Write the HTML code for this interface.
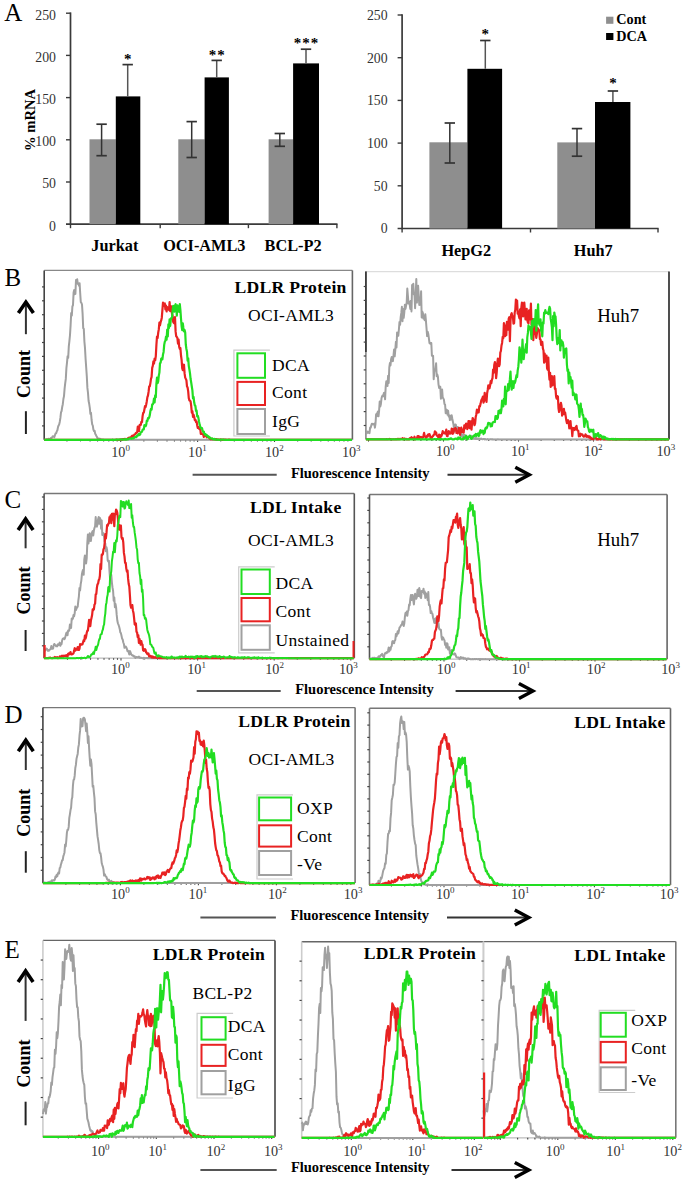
<!DOCTYPE html>
<html><head><meta charset="utf-8"><style>
html,body{margin:0;padding:0;background:#fff;width:685px;height:1188px;overflow:hidden;}
svg{display:block;font-family:"Liberation Serif", serif;}
</style></head><body>
<svg width="685" height="1188" viewBox="0 0 685 1188" font-family="&quot;Liberation Serif&quot;, serif">
<rect x="0.00" y="0.00" width="685.00" height="1188.00" fill="#fff" stroke="none" stroke-width="1" />
<text x="4.3" y="20.9" font-size="25" font-weight="normal" text-anchor="start" fill="#000" >A</text>
<line x1="70.50" y1="12.40" x2="70.50" y2="225.00" stroke="#3a3a3a" stroke-width="1.7" />
<line x1="66.00" y1="224.20" x2="337.50" y2="224.20" stroke="#3a3a3a" stroke-width="1.7" />
<line x1="70.50" y1="224.20" x2="70.50" y2="228.20" stroke="#3a3a3a" stroke-width="1.4" />
<line x1="66.00" y1="182.00" x2="70.50" y2="182.00" stroke="#3a3a3a" stroke-width="1.4" />
<line x1="66.00" y1="139.80" x2="70.50" y2="139.80" stroke="#3a3a3a" stroke-width="1.4" />
<line x1="66.00" y1="97.60" x2="70.50" y2="97.60" stroke="#3a3a3a" stroke-width="1.4" />
<line x1="66.00" y1="55.40" x2="70.50" y2="55.40" stroke="#3a3a3a" stroke-width="1.4" />
<line x1="66.00" y1="13.20" x2="70.50" y2="13.20" stroke="#3a3a3a" stroke-width="1.4" />
<text x="56.0" y="230.6" font-size="13.8" font-weight="normal" text-anchor="end" fill="#333" >0</text>
<text x="56.0" y="188.4" font-size="13.8" font-weight="normal" text-anchor="end" fill="#333" >50</text>
<text x="56.0" y="146.2" font-size="13.8" font-weight="normal" text-anchor="end" fill="#333" >100</text>
<text x="56.0" y="104.0" font-size="13.8" font-weight="normal" text-anchor="end" fill="#333" >150</text>
<text x="56.0" y="61.8" font-size="13.8" font-weight="normal" text-anchor="end" fill="#333" >200</text>
<text x="56.0" y="19.6" font-size="13.8" font-weight="normal" text-anchor="end" fill="#333" >250</text>
<line x1="160.20" y1="224.20" x2="160.20" y2="228.20" stroke="#3a3a3a" stroke-width="1.4" />
<line x1="248.40" y1="224.20" x2="248.40" y2="228.20" stroke="#3a3a3a" stroke-width="1.4" />
<line x1="336.90" y1="224.20" x2="336.90" y2="228.20" stroke="#3a3a3a" stroke-width="1.4" />
<rect x="89.50" y="139.30" width="26.30" height="84.90" fill="#8e8e8e" stroke="none" stroke-width="1" />
<rect x="115.80" y="96.40" width="24.50" height="127.80" fill="#000" stroke="none" stroke-width="1" />
<line x1="101.60" y1="124.20" x2="101.60" y2="155.70" stroke="#333" stroke-width="1.5" />
<line x1="96.40" y1="124.20" x2="106.80" y2="124.20" stroke="#333" stroke-width="1.7" />
<line x1="96.40" y1="155.70" x2="106.80" y2="155.70" stroke="#333" stroke-width="1.7" />
<line x1="127.70" y1="64.60" x2="127.70" y2="96.40" stroke="#555" stroke-width="1.5" />
<line x1="122.50" y1="64.60" x2="132.90" y2="64.60" stroke="#333" stroke-width="1.7" />
<text x="128.2" y="64.3" font-size="15" font-weight="bold" text-anchor="middle" fill="#000" letter-spacing="1">*</text>
<text x="114.8" y="250.9" font-size="16.3" font-weight="bold" text-anchor="middle" fill="#000" >Jurkat</text>
<rect x="178.30" y="139.30" width="26.30" height="84.90" fill="#8e8e8e" stroke="none" stroke-width="1" />
<rect x="204.60" y="77.40" width="24.30" height="146.80" fill="#000" stroke="none" stroke-width="1" />
<line x1="191.70" y1="121.60" x2="191.70" y2="157.50" stroke="#333" stroke-width="1.5" />
<line x1="186.50" y1="121.60" x2="196.90" y2="121.60" stroke="#333" stroke-width="1.7" />
<line x1="186.50" y1="157.50" x2="196.90" y2="157.50" stroke="#333" stroke-width="1.7" />
<line x1="216.70" y1="60.40" x2="216.70" y2="77.40" stroke="#555" stroke-width="1.5" />
<line x1="211.50" y1="60.40" x2="221.90" y2="60.40" stroke="#333" stroke-width="1.7" />
<text x="217.2" y="60.2" font-size="15" font-weight="bold" text-anchor="middle" fill="#000" letter-spacing="1">**</text>
<text x="204.3" y="250.9" font-size="16.3" font-weight="bold" text-anchor="middle" fill="#000" >OCI-AML3</text>
<rect x="268.60" y="139.30" width="24.50" height="84.90" fill="#8e8e8e" stroke="none" stroke-width="1" />
<rect x="293.10" y="63.40" width="25.90" height="160.80" fill="#000" stroke="none" stroke-width="1" />
<line x1="279.80" y1="133.50" x2="279.80" y2="146.30" stroke="#333" stroke-width="1.5" />
<line x1="274.60" y1="133.50" x2="285.00" y2="133.50" stroke="#333" stroke-width="1.7" />
<line x1="274.60" y1="146.30" x2="285.00" y2="146.30" stroke="#333" stroke-width="1.7" />
<line x1="306.00" y1="49.20" x2="306.00" y2="63.40" stroke="#555" stroke-width="1.5" />
<line x1="300.80" y1="49.20" x2="311.20" y2="49.20" stroke="#333" stroke-width="1.7" />
<text x="306.5" y="47.8" font-size="15" font-weight="bold" text-anchor="middle" fill="#000" letter-spacing="1">***</text>
<text x="293.1" y="250.9" font-size="16.3" font-weight="bold" text-anchor="middle" fill="#000" >BCL-P2</text>
<text x="0" y="0" font-size="14.6" font-weight="bold" text-anchor="middle" transform="translate(34.8,120) rotate(-90)">% mRNA</text>
<line x1="402.10" y1="14.20" x2="402.10" y2="229.30" stroke="#3a3a3a" stroke-width="1.7" />
<line x1="397.60" y1="228.50" x2="658.60" y2="228.50" stroke="#3a3a3a" stroke-width="1.7" />
<line x1="402.10" y1="228.50" x2="402.10" y2="232.50" stroke="#3a3a3a" stroke-width="1.4" />
<line x1="397.60" y1="185.80" x2="402.10" y2="185.80" stroke="#3a3a3a" stroke-width="1.4" />
<line x1="397.60" y1="143.10" x2="402.10" y2="143.10" stroke="#3a3a3a" stroke-width="1.4" />
<line x1="397.60" y1="100.40" x2="402.10" y2="100.40" stroke="#3a3a3a" stroke-width="1.4" />
<line x1="397.60" y1="57.70" x2="402.10" y2="57.70" stroke="#3a3a3a" stroke-width="1.4" />
<line x1="397.60" y1="15.00" x2="402.10" y2="15.00" stroke="#3a3a3a" stroke-width="1.4" />
<text x="387.6" y="233.3" font-size="13.8" font-weight="normal" text-anchor="end" fill="#333" >0</text>
<text x="387.6" y="190.6" font-size="13.8" font-weight="normal" text-anchor="end" fill="#333" >50</text>
<text x="387.6" y="147.9" font-size="13.8" font-weight="normal" text-anchor="end" fill="#333" >100</text>
<text x="387.6" y="105.2" font-size="13.8" font-weight="normal" text-anchor="end" fill="#333" >150</text>
<text x="387.6" y="62.5" font-size="13.8" font-weight="normal" text-anchor="end" fill="#333" >200</text>
<text x="387.6" y="19.8" font-size="13.8" font-weight="normal" text-anchor="end" fill="#333" >250</text>
<line x1="530.50" y1="228.50" x2="530.50" y2="232.50" stroke="#3a3a3a" stroke-width="1.4" />
<line x1="658.00" y1="228.50" x2="658.00" y2="232.50" stroke="#3a3a3a" stroke-width="1.4" />
<rect x="429.40" y="142.30" width="38.00" height="86.20" fill="#8e8e8e" stroke="none" stroke-width="1" />
<rect x="467.40" y="68.80" width="34.70" height="159.70" fill="#000" stroke="none" stroke-width="1" />
<line x1="449.80" y1="123.00" x2="449.80" y2="163.00" stroke="#333" stroke-width="1.5" />
<line x1="444.60" y1="123.00" x2="455.00" y2="123.00" stroke="#333" stroke-width="1.7" />
<line x1="444.60" y1="163.00" x2="455.00" y2="163.00" stroke="#333" stroke-width="1.7" />
<line x1="485.30" y1="40.50" x2="485.30" y2="68.80" stroke="#555" stroke-width="1.5" />
<line x1="480.10" y1="40.50" x2="490.50" y2="40.50" stroke="#333" stroke-width="1.7" />
<text x="485.8" y="39.1" font-size="15" font-weight="bold" text-anchor="middle" fill="#000" letter-spacing="1">*</text>
<text x="466.3" y="256.0" font-size="16.3" font-weight="bold" text-anchor="middle" fill="#000" >HepG2</text>
<rect x="557.30" y="142.40" width="37.70" height="86.10" fill="#8e8e8e" stroke="none" stroke-width="1" />
<rect x="595.00" y="102.00" width="35.40" height="126.50" fill="#000" stroke="none" stroke-width="1" />
<line x1="577.00" y1="128.60" x2="577.00" y2="156.20" stroke="#333" stroke-width="1.5" />
<line x1="571.80" y1="128.60" x2="582.20" y2="128.60" stroke="#333" stroke-width="1.7" />
<line x1="571.80" y1="156.20" x2="582.20" y2="156.20" stroke="#333" stroke-width="1.7" />
<line x1="612.90" y1="91.00" x2="612.90" y2="102.00" stroke="#555" stroke-width="1.5" />
<line x1="607.70" y1="91.00" x2="618.10" y2="91.00" stroke="#333" stroke-width="1.7" />
<text x="613.4" y="87.8" font-size="15" font-weight="bold" text-anchor="middle" fill="#000" letter-spacing="1">*</text>
<text x="593.2" y="256.0" font-size="16.3" font-weight="bold" text-anchor="middle" fill="#000" >Huh7</text>
<rect x="606.10" y="16.70" width="7.30" height="7.10" fill="#8e8e8e" stroke="none" stroke-width="1" />
<text x="616.3" y="23.9" font-size="14.2" font-weight="bold" text-anchor="start" fill="#000" >Cont</text>
<rect x="606.10" y="33.00" width="7.30" height="7.00" fill="#000" stroke="none" stroke-width="1" />
<text x="616.3" y="40.5" font-size="14.2" font-weight="bold" text-anchor="start" fill="#000" >DCA</text>
<text x="4.5" y="286.0" font-size="25" font-weight="normal" text-anchor="start" fill="#000" >B</text>
<line x1="25.90" y1="301.10" x2="25.90" y2="334.20" stroke="#333" stroke-width="2" />
<path d="M18.4,313.1 L25.9,302.1 L33.4,313.1" fill="none" stroke="#000" stroke-width="3.6" stroke-linejoin="miter"/>
<text x="0" y="0" font-size="18" font-weight="bold" text-anchor="middle" transform="translate(30.0,374.0) rotate(-90)">Count</text>
<line x1="25.90" y1="411.20" x2="25.90" y2="434.00" stroke="#222" stroke-width="2" />
<line x1="44.20" y1="270.40" x2="352.40" y2="270.40" stroke="#888" stroke-width="1.4" />
<line x1="352.40" y1="270.40" x2="352.40" y2="439.80" stroke="#666" stroke-width="1.6" />
<line x1="44.20" y1="270.40" x2="44.20" y2="439.80" stroke="#444" stroke-width="1.6" />
<line x1="44.20" y1="439.80" x2="352.40" y2="439.80" stroke="#bbb" stroke-width="1.2" />
<line x1="42.00" y1="425.90" x2="44.20" y2="425.90" stroke="#444" stroke-width="1.2" />
<line x1="42.00" y1="412.00" x2="44.20" y2="412.00" stroke="#444" stroke-width="1.2" />
<line x1="42.00" y1="398.10" x2="44.20" y2="398.10" stroke="#444" stroke-width="1.2" />
<line x1="42.00" y1="384.20" x2="44.20" y2="384.20" stroke="#444" stroke-width="1.2" />
<line x1="42.00" y1="370.30" x2="44.20" y2="370.30" stroke="#444" stroke-width="1.2" />
<line x1="42.00" y1="356.40" x2="44.20" y2="356.40" stroke="#444" stroke-width="1.2" />
<line x1="42.00" y1="342.50" x2="44.20" y2="342.50" stroke="#444" stroke-width="1.2" />
<line x1="42.00" y1="328.60" x2="44.20" y2="328.60" stroke="#444" stroke-width="1.2" />
<line x1="42.00" y1="314.70" x2="44.20" y2="314.70" stroke="#444" stroke-width="1.2" />
<line x1="42.00" y1="300.80" x2="44.20" y2="300.80" stroke="#444" stroke-width="1.2" />
<line x1="42.00" y1="286.90" x2="44.20" y2="286.90" stroke="#444" stroke-width="1.2" />
<line x1="66.95" y1="439.80" x2="66.95" y2="441.40" stroke="#444" stroke-width="1.1" />
<line x1="80.49" y1="439.80" x2="80.49" y2="441.40" stroke="#444" stroke-width="1.1" />
<line x1="90.10" y1="439.80" x2="90.10" y2="441.40" stroke="#444" stroke-width="1.1" />
<line x1="97.55" y1="439.80" x2="97.55" y2="441.40" stroke="#444" stroke-width="1.1" />
<line x1="103.64" y1="439.80" x2="103.64" y2="441.40" stroke="#444" stroke-width="1.1" />
<line x1="108.79" y1="439.80" x2="108.79" y2="441.40" stroke="#444" stroke-width="1.1" />
<line x1="113.25" y1="439.80" x2="113.25" y2="441.40" stroke="#444" stroke-width="1.1" />
<line x1="117.18" y1="439.80" x2="117.18" y2="441.40" stroke="#444" stroke-width="1.1" />
<line x1="120.70" y1="439.80" x2="120.70" y2="442.00" stroke="#444" stroke-width="1.1" />
<line x1="143.85" y1="439.80" x2="143.85" y2="441.40" stroke="#444" stroke-width="1.1" />
<line x1="157.39" y1="439.80" x2="157.39" y2="441.40" stroke="#444" stroke-width="1.1" />
<line x1="167.00" y1="439.80" x2="167.00" y2="441.40" stroke="#444" stroke-width="1.1" />
<line x1="174.45" y1="439.80" x2="174.45" y2="441.40" stroke="#444" stroke-width="1.1" />
<line x1="180.54" y1="439.80" x2="180.54" y2="441.40" stroke="#444" stroke-width="1.1" />
<line x1="185.69" y1="439.80" x2="185.69" y2="441.40" stroke="#444" stroke-width="1.1" />
<line x1="190.15" y1="439.80" x2="190.15" y2="441.40" stroke="#444" stroke-width="1.1" />
<line x1="194.08" y1="439.80" x2="194.08" y2="441.40" stroke="#444" stroke-width="1.1" />
<line x1="197.60" y1="439.80" x2="197.60" y2="442.00" stroke="#444" stroke-width="1.1" />
<line x1="220.75" y1="439.80" x2="220.75" y2="441.40" stroke="#444" stroke-width="1.1" />
<line x1="234.29" y1="439.80" x2="234.29" y2="441.40" stroke="#444" stroke-width="1.1" />
<line x1="243.90" y1="439.80" x2="243.90" y2="441.40" stroke="#444" stroke-width="1.1" />
<line x1="251.35" y1="439.80" x2="251.35" y2="441.40" stroke="#444" stroke-width="1.1" />
<line x1="257.44" y1="439.80" x2="257.44" y2="441.40" stroke="#444" stroke-width="1.1" />
<line x1="262.59" y1="439.80" x2="262.59" y2="441.40" stroke="#444" stroke-width="1.1" />
<line x1="267.05" y1="439.80" x2="267.05" y2="441.40" stroke="#444" stroke-width="1.1" />
<line x1="270.98" y1="439.80" x2="270.98" y2="441.40" stroke="#444" stroke-width="1.1" />
<line x1="274.50" y1="439.80" x2="274.50" y2="442.00" stroke="#444" stroke-width="1.1" />
<line x1="297.65" y1="439.80" x2="297.65" y2="441.40" stroke="#444" stroke-width="1.1" />
<line x1="311.19" y1="439.80" x2="311.19" y2="441.40" stroke="#444" stroke-width="1.1" />
<line x1="320.80" y1="439.80" x2="320.80" y2="441.40" stroke="#444" stroke-width="1.1" />
<line x1="328.25" y1="439.80" x2="328.25" y2="441.40" stroke="#444" stroke-width="1.1" />
<line x1="334.34" y1="439.80" x2="334.34" y2="441.40" stroke="#444" stroke-width="1.1" />
<line x1="339.49" y1="439.80" x2="339.49" y2="441.40" stroke="#444" stroke-width="1.1" />
<line x1="343.95" y1="439.80" x2="343.95" y2="441.40" stroke="#444" stroke-width="1.1" />
<line x1="347.88" y1="439.80" x2="347.88" y2="441.40" stroke="#444" stroke-width="1.1" />
<text x="111.2" y="456.6" font-size="14.2" fill="#333">10<tspan dy="-5.6" font-size="9">0</tspan></text>
<text x="188.1" y="456.6" font-size="14.2" fill="#333">10<tspan dy="-5.6" font-size="9">1</tspan></text>
<text x="265.0" y="456.6" font-size="14.2" fill="#333">10<tspan dy="-5.6" font-size="9">2</tspan></text>
<text x="341.9" y="456.6" font-size="14.2" fill="#333">10<tspan dy="-5.6" font-size="9">3</tspan></text>
<path d="M44.2,439.8 L44.8,439.8 L45.4,439.7 L46.0,439.5 L46.6,439.3 L47.2,439.4 L47.8,439.1 L48.4,438.8 L49.0,439.0 L49.6,438.9 L50.2,438.9 L50.8,438.1 L51.4,438.0 L52.0,437.6 L52.6,436.3 L53.2,436.8 L53.8,436.3 L54.4,437.1 L55.0,435.0 L55.6,433.3 L56.2,433.3 L56.8,431.2 L57.4,430.2 L58.0,427.1 L58.6,425.4 L59.2,424.4 L59.8,421.7 L60.4,417.9 L61.0,412.3 L61.6,411.0 L62.2,407.0 L62.8,404.2 L63.4,399.0 L64.0,396.1 L64.6,388.6 L65.2,383.3 L65.8,378.9 L66.4,368.1 L67.0,362.7 L67.6,356.2 L68.2,357.9 L68.8,346.4 L69.4,341.2 L70.0,335.0 L70.6,325.2 L71.2,313.1 L71.8,315.6 L72.4,306.5 L73.0,305.1 L73.6,292.6 L74.2,290.1 L74.8,294.2 L75.4,293.9 L76.0,280.0 L76.6,281.2 L77.2,279.3 L77.8,283.8 L78.4,283.3 L79.0,285.7 L79.6,283.3 L80.2,293.2 L80.8,302.2 L81.4,302.9 L82.0,304.5 L82.6,313.7 L83.2,328.1 L83.8,328.9 L84.4,341.5 L85.0,348.2 L85.6,359.0 L86.2,367.5 L86.8,376.3 L87.4,387.9 L88.0,393.0 L88.6,401.0 L89.2,403.8 L89.8,407.8 L90.4,413.8 L91.0,412.9 L91.6,420.0 L92.2,424.3 L92.8,425.6 L93.4,429.7 L94.0,431.0 L94.6,430.7 L95.2,433.7 L95.8,434.7 L96.4,436.0 L97.0,437.0 L97.6,438.4 L98.2,438.5 L98.8,438.7 L99.4,439.1 L100.0,438.7 L100.6,439.5 L101.2,439.3 L101.8,439.6 L102.4,439.5 L103.0,439.5 L103.6,439.6 L104.2,439.8 L104.8,439.8 L105.4,439.8 L106.0,439.8 L106.6,439.7 L107.2,439.8 L107.8,439.8 L108.4,439.8 L109.0,439.8 L109.6,439.8 L110.2,439.8 L110.8,439.8 L111.4,439.8 L112.0,439.8 L112.6,439.8 L113.2,439.8 L113.8,439.8 L114.4,439.8 L115.0,439.8 L115.6,439.8 L116.2,439.8 L116.8,439.8 L117.4,439.8 L118.0,439.8 L118.6,439.8 L119.2,439.8 L119.8,439.8 L120.4,439.8 L121.0,439.8 L121.6,439.8 L122.2,439.8 L122.8,439.8 L123.4,439.8 L124.0,439.8 L124.6,439.8 L125.2,439.8 L125.8,439.8 L126.4,439.8 L127.0,439.8 L127.6,439.8 L128.2,439.8 L128.8,439.8 L129.4,439.8 L130.0,439.8 L130.6,439.8 L131.2,439.8 L131.8,439.8 L132.4,439.8 L133.0,439.8 L133.6,439.8 L134.2,439.8 L134.8,439.8 L135.4,439.8 L136.0,439.8 L136.6,439.8 L137.2,439.8 L137.8,439.8 L138.4,439.8 L139.0,439.8 L139.6,439.8 L140.2,439.8 L140.8,439.8 L141.4,439.8 L142.0,439.8 L142.6,439.8 L143.2,439.8 L143.8,439.8 L144.4,439.8 L145.0,439.8 L145.6,439.8 L146.2,439.8 L146.8,439.8 L147.4,439.8 L148.0,439.8 L148.6,439.8 L149.2,439.8 L149.8,439.8 L150.4,439.8 L151.0,439.8 L151.6,439.8 L152.2,439.8 L152.8,439.8 L153.4,439.8 L154.0,439.8 L154.6,439.8 L155.2,439.8 L155.8,439.8 L156.4,439.8 L157.0,439.8 L157.6,439.8 L158.2,439.8 L158.8,439.8 L159.4,439.8 L160.0,439.8 L160.6,439.8 L161.2,439.8 L161.8,439.8 L162.4,439.8 L163.0,439.8 L163.6,439.8 L164.2,439.8 L164.8,439.8 L165.4,439.8 L166.0,439.8 L166.6,439.8 L167.2,439.8 L167.8,439.8 L168.4,439.8 L169.0,439.8 L169.6,439.8 L170.2,439.8 L170.8,439.8 L171.4,439.8 L172.0,439.8 L172.6,439.8 L173.2,439.8 L173.8,439.8 L174.4,439.8 L175.0,439.8 L175.6,439.8 L176.2,439.8 L176.8,439.8 L177.4,439.8 L178.0,439.8 L178.6,439.8 L179.2,439.8 L179.8,439.8 L180.4,439.8 L181.0,439.8 L181.6,439.8 L182.2,439.8 L182.8,439.8 L183.4,439.8 L184.0,439.8 L184.6,439.8 L185.2,439.8 L185.8,439.8 L186.4,439.8 L187.0,439.8 L187.6,439.8 L188.2,439.8 L188.8,439.8 L189.4,439.8 L190.0,439.8 L190.6,439.8 L191.2,439.8 L191.8,439.8 L192.4,439.8 L193.0,439.8 L193.6,439.8 L194.2,439.8 L194.8,439.8 L195.4,439.8 L196.0,439.8 L196.6,439.8 L197.2,439.8 L197.8,439.8 L198.4,439.8 L199.0,439.8 L199.6,439.8 L200.2,439.8 L200.8,439.8 L201.4,439.8 L202.0,439.8 L202.6,439.8 L203.2,439.8 L203.8,439.8 L204.4,439.8 L205.0,439.8 L205.6,439.8 L206.2,439.8 L206.8,439.8 L207.4,439.8 L208.0,439.8 L208.6,439.8 L209.2,439.8 L209.8,439.8 L210.4,439.8 L211.0,439.8 L211.6,439.8 L212.2,439.8 L212.8,439.8 L213.4,439.8 L214.0,439.8 L214.6,439.8 L215.2,439.8 L215.8,439.8 L216.4,439.8 L217.0,439.8 L217.6,439.8 L218.2,439.8 L218.8,439.8 L219.4,439.8 L220.0,439.8 L220.6,439.8 L221.2,439.8 L221.8,439.8 L222.4,439.8 L223.0,439.8 L223.6,439.8 L224.2,439.8 L224.8,439.8 L225.4,439.8 L226.0,439.8 L226.6,439.8 L227.2,439.8 L227.8,439.8 L228.4,439.8 L229.0,439.8 L229.6,439.8 L230.2,439.8 L230.8,439.8 L231.4,439.8 L232.0,439.8 L232.6,439.8 L233.2,439.8 L233.8,439.8 L234.4,439.8 L235.0,439.8 L235.6,439.8 L236.2,439.8 L236.8,439.8 L237.4,439.8 L238.0,439.8 L238.6,439.8 L239.2,439.8 L239.8,439.8 L240.4,439.8 L241.0,439.8 L241.6,439.8 L242.2,439.8 L242.8,439.8 L243.4,439.8 L244.0,439.8 L244.6,439.8 L245.2,439.8 L245.8,439.8 L246.4,439.8 L247.0,439.8 L247.6,439.8 L248.2,439.8 L248.8,439.8 L249.4,439.8 L250.0,439.8 L250.6,439.8 L251.2,439.8 L251.8,439.8 L252.4,439.8 L253.0,439.8 L253.6,439.8 L254.2,439.8 L254.8,439.8 L255.4,439.8 L256.0,439.8 L256.6,439.8 L257.2,439.8 L257.8,439.8 L258.4,439.8 L259.0,439.8 L259.6,439.8 L260.2,439.8 L260.8,439.8 L261.4,439.8 L262.0,439.8 L262.6,439.8 L263.2,439.8 L263.8,439.8 L264.4,439.8 L265.0,439.8 L265.6,439.8 L266.2,439.8 L266.8,439.8 L267.4,439.8 L268.0,439.8 L268.6,439.8 L269.2,439.8 L269.8,439.8 L270.4,439.8 L271.0,439.8 L271.6,439.8 L272.2,439.8 L272.8,439.8 L273.4,439.8 L274.0,439.8 L274.6,439.8 L275.2,439.8 L275.8,439.8 L276.4,439.8 L277.0,439.8 L277.6,439.8 L278.2,439.8 L278.8,439.8 L279.4,439.8 L280.0,439.8 L280.6,439.8 L281.2,439.8 L281.8,439.8 L282.4,439.8 L283.0,439.8 L283.6,439.8 L284.2,439.8 L284.8,439.8 L285.4,439.8 L286.0,439.8 L286.6,439.8 L287.2,439.8 L287.8,439.8 L288.4,439.8 L289.0,439.8 L289.6,439.8 L290.2,439.8 L290.8,439.8 L291.4,439.8 L292.0,439.8 L292.6,439.8 L293.2,439.8 L293.8,439.8 L294.4,439.8 L295.0,439.8 L295.6,439.8 L296.2,439.8 L296.8,439.8 L297.4,439.8 L298.0,439.8 L298.6,439.8 L299.2,439.8 L299.8,439.8 L300.4,439.8 L301.0,439.8 L301.6,439.8 L302.2,439.8 L302.8,439.8 L303.4,439.8 L304.0,439.8 L304.6,439.8 L305.2,439.8 L305.8,439.8 L306.4,439.8 L307.0,439.8 L307.6,439.8 L308.2,439.8 L308.8,439.8 L309.4,439.8 L310.0,439.8 L310.6,439.8 L311.2,439.8 L311.8,439.8 L312.4,439.8 L313.0,439.8 L313.6,439.8 L314.2,439.8 L314.8,439.8 L315.4,439.8 L316.0,439.8 L316.6,439.8 L317.2,439.8 L317.8,439.8 L318.4,439.8 L319.0,439.8 L319.6,439.8 L320.2,439.8 L320.8,439.8 L321.4,439.8 L322.0,439.8 L322.6,439.8 L323.2,439.8 L323.8,439.8 L324.4,439.8 L325.0,439.8 L325.6,439.8 L326.2,439.8 L326.8,439.8 L327.4,439.8 L328.0,439.8 L328.6,439.8 L329.2,439.8 L329.8,439.8 L330.4,439.8 L331.0,439.8 L331.6,439.8 L332.2,439.8 L332.8,439.8 L333.4,439.8 L334.0,439.8 L334.6,439.8 L335.2,439.8 L335.8,439.8 L336.4,439.8 L337.0,439.8 L337.6,439.8 L338.2,439.8 L338.8,439.8 L339.4,439.8 L340.0,439.8 L340.6,439.8 L341.2,439.8 L341.8,439.8 L342.4,439.8 L343.0,439.8 L343.6,439.8 L344.2,439.8 L344.8,439.8 L345.4,439.8 L346.0,439.8 L346.6,439.8 L347.2,439.8 L347.8,439.8 L348.4,439.8 L349.0,439.8 L349.6,439.8 L350.2,439.8 L350.8,439.8 L351.4,439.8 L352.0,439.8" fill="none" stroke="#a0a0a0" stroke-width="2.0" stroke-linejoin="round"/>
<path d="M44.2,439.8 L44.8,439.8 L45.4,439.8 L46.0,439.8 L46.6,439.8 L47.2,439.8 L47.8,439.8 L48.4,439.8 L49.0,439.8 L49.6,439.8 L50.2,439.8 L50.8,439.8 L51.4,439.8 L52.0,439.8 L52.6,439.8 L53.2,439.8 L53.8,439.8 L54.4,439.8 L55.0,439.8 L55.6,439.8 L56.2,439.8 L56.8,439.8 L57.4,439.8 L58.0,439.8 L58.6,439.8 L59.2,439.8 L59.8,439.8 L60.4,439.8 L61.0,439.8 L61.6,439.8 L62.2,439.8 L62.8,439.8 L63.4,439.8 L64.0,439.8 L64.6,439.8 L65.2,439.8 L65.8,439.8 L66.4,439.8 L67.0,439.8 L67.6,439.8 L68.2,439.8 L68.8,439.8 L69.4,439.8 L70.0,439.8 L70.6,439.8 L71.2,439.8 L71.8,439.8 L72.4,439.8 L73.0,439.8 L73.6,439.8 L74.2,439.8 L74.8,439.8 L75.4,439.8 L76.0,439.8 L76.6,439.8 L77.2,439.8 L77.8,439.8 L78.4,439.8 L79.0,439.8 L79.6,439.8 L80.2,439.8 L80.8,439.8 L81.4,439.8 L82.0,439.8 L82.6,439.8 L83.2,439.8 L83.8,439.8 L84.4,439.8 L85.0,439.8 L85.6,439.8 L86.2,439.8 L86.8,439.8 L87.4,439.8 L88.0,439.8 L88.6,439.8 L89.2,439.8 L89.8,439.8 L90.4,439.8 L91.0,439.8 L91.6,439.8 L92.2,439.8 L92.8,439.8 L93.4,439.8 L94.0,439.8 L94.6,439.8 L95.2,439.8 L95.8,439.8 L96.4,439.8 L97.0,439.8 L97.6,439.8 L98.2,439.8 L98.8,439.8 L99.4,439.8 L100.0,439.8 L100.6,439.8 L101.2,439.8 L101.8,439.8 L102.4,439.8 L103.0,439.8 L103.6,439.8 L104.2,439.8 L104.8,439.8 L105.4,439.8 L106.0,439.8 L106.6,439.8 L107.2,439.8 L107.8,439.8 L108.4,439.8 L109.0,439.8 L109.6,439.8 L110.2,439.8 L110.8,439.8 L111.4,439.8 L112.0,439.8 L112.6,439.8 L113.2,439.8 L113.8,439.8 L114.4,439.8 L115.0,439.8 L115.6,439.8 L116.2,439.6 L116.8,439.6 L117.4,439.8 L118.0,439.8 L118.6,439.8 L119.2,439.7 L119.8,439.7 L120.4,439.3 L121.0,439.8 L121.6,439.4 L122.2,439.7 L122.8,439.2 L123.4,439.1 L124.0,439.3 L124.6,439.1 L125.2,438.8 L125.8,439.2 L126.4,439.2 L127.0,439.0 L127.6,438.5 L128.2,438.0 L128.8,437.8 L129.4,437.6 L130.0,437.5 L130.6,437.8 L131.2,437.0 L131.8,436.1 L132.4,435.6 L133.0,436.6 L133.6,435.6 L134.2,434.9 L134.8,434.3 L135.4,433.9 L136.0,432.8 L136.6,433.0 L137.2,432.0 L137.8,426.5 L138.4,427.6 L139.0,431.1 L139.6,425.1 L140.2,424.6 L140.8,424.8 L141.4,421.8 L142.0,422.1 L142.6,416.1 L143.2,412.9 L143.8,412.5 L144.4,409.5 L145.0,406.2 L145.6,407.0 L146.2,404.5 L146.8,401.2 L147.4,397.1 L148.0,395.5 L148.6,391.7 L149.2,386.5 L149.8,386.2 L150.4,383.1 L151.0,378.8 L151.6,376.9 L152.2,367.9 L152.8,365.9 L153.4,361.3 L154.0,363.7 L154.6,358.6 L155.2,360.3 L155.8,356.1 L156.4,345.0 L157.0,336.7 L157.6,338.1 L158.2,332.8 L158.8,329.4 L159.4,322.5 L160.0,325.3 L160.6,322.2 L161.2,320.4 L161.8,317.7 L162.4,310.1 L163.0,302.7 L163.6,305.8 L164.2,304.3 L164.8,303.5 L165.4,309.3 L166.0,305.5 L166.6,311.5 L167.2,307.0 L167.8,308.3 L168.4,308.2 L169.0,310.0 L169.6,302.1 L170.2,311.2 L170.8,310.1 L171.4,306.3 L172.0,313.6 L172.6,315.8 L173.2,322.0 L173.8,322.9 L174.4,323.4 L175.0,317.1 L175.6,331.4 L176.2,336.3 L176.8,336.9 L177.4,338.1 L178.0,343.7 L178.6,339.5 L179.2,347.0 L179.8,348.8 L180.4,348.1 L181.0,355.5 L181.6,359.8 L182.2,368.1 L182.8,370.1 L183.4,364.7 L184.0,364.9 L184.6,373.4 L185.2,377.6 L185.8,378.9 L186.4,380.2 L187.0,386.4 L187.6,387.5 L188.2,391.3 L188.8,398.3 L189.4,400.4 L190.0,400.5 L190.6,401.6 L191.2,405.8 L191.8,412.6 L192.4,411.2 L193.0,416.8 L193.6,414.7 L194.2,416.7 L194.8,420.1 L195.4,419.6 L196.0,422.0 L196.6,421.5 L197.2,425.4 L197.8,428.0 L198.4,427.0 L199.0,428.6 L199.6,429.1 L200.2,427.8 L200.8,433.8 L201.4,433.4 L202.0,434.0 L202.6,434.2 L203.2,434.5 L203.8,436.9 L204.4,434.3 L205.0,435.3 L205.6,435.8 L206.2,436.3 L206.8,437.3 L207.4,436.9 L208.0,436.7 L208.6,437.0 L209.2,438.0 L209.8,438.7 L210.4,438.9 L211.0,439.4 L211.6,438.7 L212.2,439.2 L212.8,439.3 L213.4,439.1 L214.0,439.0 L214.6,439.5 L215.2,439.2 L215.8,439.3 L216.4,439.2 L217.0,439.8 L217.6,439.6 L218.2,439.5 L218.8,439.5 L219.4,439.6 L220.0,439.7 L220.6,439.4 L221.2,439.5 L221.8,439.7 L222.4,439.8 L223.0,439.7 L223.6,439.7 L224.2,439.7 L224.8,439.6 L225.4,439.7 L226.0,439.7 L226.6,439.8 L227.2,439.8 L227.8,439.8 L228.4,439.7 L229.0,439.8 L229.6,439.7 L230.2,439.8 L230.8,439.8 L231.4,439.8 L232.0,439.8 L232.6,439.8 L233.2,439.8 L233.8,439.8 L234.4,439.8 L235.0,439.8 L235.6,439.8 L236.2,439.8 L236.8,439.8 L237.4,439.8 L238.0,439.8 L238.6,439.8 L239.2,439.8 L239.8,439.8 L240.4,439.8 L241.0,439.8 L241.6,439.8 L242.2,439.8 L242.8,439.8 L243.4,439.8 L244.0,439.8 L244.6,439.8 L245.2,439.8 L245.8,439.8 L246.4,439.8 L247.0,439.8 L247.6,439.8 L248.2,439.8 L248.8,439.8 L249.4,439.8 L250.0,439.8 L250.6,439.8 L251.2,439.8 L251.8,439.8 L252.4,439.8 L253.0,439.8 L253.6,439.8 L254.2,439.8 L254.8,439.8 L255.4,439.8 L256.0,439.8 L256.6,439.8 L257.2,439.8 L257.8,439.8 L258.4,439.8 L259.0,439.8 L259.6,439.8 L260.2,439.8 L260.8,439.8 L261.4,439.8 L262.0,439.8 L262.6,439.8 L263.2,439.8 L263.8,439.8 L264.4,439.8 L265.0,439.8 L265.6,439.8 L266.2,439.8 L266.8,439.8 L267.4,439.8 L268.0,439.8 L268.6,439.8 L269.2,439.8 L269.8,439.8 L270.4,439.8 L271.0,439.8 L271.6,439.8 L272.2,439.8 L272.8,439.8 L273.4,439.8 L274.0,439.8 L274.6,439.8 L275.2,439.8 L275.8,439.8 L276.4,439.8 L277.0,439.8 L277.6,439.8 L278.2,439.8 L278.8,439.8 L279.4,439.8 L280.0,439.8 L280.6,439.8 L281.2,439.8 L281.8,439.8 L282.4,439.8 L283.0,439.8 L283.6,439.8 L284.2,439.8 L284.8,439.8 L285.4,439.8 L286.0,439.8 L286.6,439.8 L287.2,439.8 L287.8,439.8 L288.4,439.8 L289.0,439.8 L289.6,439.8 L290.2,439.8 L290.8,439.8 L291.4,439.8 L292.0,439.8 L292.6,439.8 L293.2,439.8 L293.8,439.8 L294.4,439.8 L295.0,439.8 L295.6,439.8 L296.2,439.8 L296.8,439.8 L297.4,439.8 L298.0,439.8 L298.6,439.8 L299.2,439.8 L299.8,439.8 L300.4,439.8 L301.0,439.8 L301.6,439.8 L302.2,439.8 L302.8,439.8 L303.4,439.8 L304.0,439.8 L304.6,439.8 L305.2,439.8 L305.8,439.8 L306.4,439.8 L307.0,439.8 L307.6,439.8 L308.2,439.8 L308.8,439.8 L309.4,439.8 L310.0,439.8 L310.6,439.8 L311.2,439.8 L311.8,439.8 L312.4,439.8 L313.0,439.8 L313.6,439.8 L314.2,439.8 L314.8,439.8 L315.4,439.8 L316.0,439.8 L316.6,439.8 L317.2,439.8 L317.8,439.8 L318.4,439.8 L319.0,439.8 L319.6,439.8 L320.2,439.8 L320.8,439.8 L321.4,439.8 L322.0,439.8 L322.6,439.8 L323.2,439.8 L323.8,439.8 L324.4,439.8 L325.0,439.8 L325.6,439.8 L326.2,439.8 L326.8,439.8 L327.4,439.8 L328.0,439.8 L328.6,439.8 L329.2,439.8 L329.8,439.8 L330.4,439.8 L331.0,439.8 L331.6,439.8 L332.2,439.8 L332.8,439.8 L333.4,439.8 L334.0,439.8 L334.6,439.8 L335.2,439.8 L335.8,439.8 L336.4,439.8 L337.0,439.8 L337.6,439.8 L338.2,439.8 L338.8,439.8 L339.4,439.8 L340.0,439.8 L340.6,439.8 L341.2,439.8 L341.8,439.8 L342.4,439.8 L343.0,439.8 L343.6,439.8 L344.2,439.8 L344.8,439.8 L345.4,439.8 L346.0,439.8 L346.6,439.8 L347.2,439.8 L347.8,439.8 L348.4,439.8 L349.0,439.8 L349.6,439.8 L350.2,439.8 L350.8,439.8 L351.4,439.8 L352.0,439.8" fill="none" stroke="#e82222" stroke-width="2.2" stroke-linejoin="round"/>
<path d="M44.2,439.8 L44.8,439.8 L45.4,439.8 L46.0,439.8 L46.6,439.8 L47.2,439.8 L47.8,439.8 L48.4,439.8 L49.0,439.8 L49.6,439.8 L50.2,439.8 L50.8,439.8 L51.4,439.8 L52.0,439.8 L52.6,439.8 L53.2,439.8 L53.8,439.8 L54.4,439.8 L55.0,439.8 L55.6,439.8 L56.2,439.8 L56.8,439.8 L57.4,439.8 L58.0,439.8 L58.6,439.8 L59.2,439.8 L59.8,439.8 L60.4,439.8 L61.0,439.8 L61.6,439.8 L62.2,439.8 L62.8,439.8 L63.4,439.8 L64.0,439.8 L64.6,439.8 L65.2,439.8 L65.8,439.8 L66.4,439.8 L67.0,439.8 L67.6,439.8 L68.2,439.8 L68.8,439.8 L69.4,439.8 L70.0,439.8 L70.6,439.8 L71.2,439.8 L71.8,439.8 L72.4,439.8 L73.0,439.8 L73.6,439.8 L74.2,439.8 L74.8,439.8 L75.4,439.8 L76.0,439.8 L76.6,439.8 L77.2,439.8 L77.8,439.8 L78.4,439.8 L79.0,439.8 L79.6,439.8 L80.2,439.8 L80.8,439.8 L81.4,439.8 L82.0,439.8 L82.6,439.8 L83.2,439.8 L83.8,439.8 L84.4,439.8 L85.0,439.8 L85.6,439.8 L86.2,439.8 L86.8,439.8 L87.4,439.8 L88.0,439.8 L88.6,439.8 L89.2,439.8 L89.8,439.8 L90.4,439.8 L91.0,439.8 L91.6,439.8 L92.2,439.8 L92.8,439.8 L93.4,439.8 L94.0,439.8 L94.6,439.8 L95.2,439.8 L95.8,439.8 L96.4,439.8 L97.0,439.8 L97.6,439.8 L98.2,439.8 L98.8,439.8 L99.4,439.8 L100.0,439.8 L100.6,439.8 L101.2,439.8 L101.8,439.8 L102.4,439.8 L103.0,439.8 L103.6,439.8 L104.2,439.8 L104.8,439.8 L105.4,439.8 L106.0,439.8 L106.6,439.8 L107.2,439.8 L107.8,439.8 L108.4,439.8 L109.0,439.8 L109.6,439.8 L110.2,439.8 L110.8,439.8 L111.4,439.8 L112.0,439.8 L112.6,439.7 L113.2,439.8 L113.8,439.8 L114.4,439.8 L115.0,439.8 L115.6,439.8 L116.2,439.7 L116.8,439.7 L117.4,439.7 L118.0,439.7 L118.6,439.7 L119.2,439.5 L119.8,439.7 L120.4,439.7 L121.0,439.5 L121.6,439.3 L122.2,439.6 L122.8,439.8 L123.4,439.5 L124.0,439.4 L124.6,439.4 L125.2,439.6 L125.8,439.2 L126.4,439.6 L127.0,439.3 L127.6,439.5 L128.2,439.2 L128.8,439.0 L129.4,438.4 L130.0,438.5 L130.6,438.5 L131.2,438.8 L131.8,438.6 L132.4,438.0 L133.0,438.2 L133.6,438.4 L134.2,437.7 L134.8,437.1 L135.4,436.7 L136.0,437.2 L136.6,436.9 L137.2,435.4 L137.8,435.7 L138.4,434.7 L139.0,433.8 L139.6,435.0 L140.2,434.5 L140.8,432.2 L141.4,432.0 L142.0,431.8 L142.6,429.8 L143.2,429.2 L143.8,429.3 L144.4,425.2 L145.0,426.2 L145.6,426.2 L146.2,424.9 L146.8,420.6 L147.4,421.1 L148.0,418.0 L148.6,418.5 L149.2,417.4 L149.8,415.1 L150.4,411.0 L151.0,408.8 L151.6,409.7 L152.2,404.4 L152.8,404.5 L153.4,402.8 L154.0,398.5 L154.6,402.4 L155.2,395.3 L155.8,397.1 L156.4,383.9 L157.0,377.6 L157.6,383.2 L158.2,381.3 L158.8,375.6 L159.4,372.6 L160.0,363.4 L160.6,362.8 L161.2,358.8 L161.8,358.1 L162.4,359.4 L163.0,354.4 L163.6,351.9 L164.2,344.9 L164.8,341.7 L165.4,340.7 L166.0,336.7 L166.6,339.6 L167.2,329.6 L167.8,336.4 L168.4,324.3 L169.0,328.0 L169.6,319.4 L170.2,326.0 L170.8,319.6 L171.4,317.8 L172.0,317.6 L172.6,310.4 L173.2,305.8 L173.8,306.8 L174.4,311.6 L175.0,305.6 L175.6,304.2 L176.2,306.2 L176.8,315.7 L177.4,305.4 L178.0,307.5 L178.6,306.9 L179.2,311.9 L179.8,304.2 L180.4,310.1 L181.0,318.7 L181.6,326.0 L182.2,330.2 L182.8,323.3 L183.4,328.0 L184.0,331.3 L184.6,329.9 L185.2,332.5 L185.8,344.7 L186.4,349.0 L187.0,351.8 L187.6,360.6 L188.2,358.2 L188.8,366.1 L189.4,369.5 L190.0,373.3 L190.6,379.0 L191.2,382.5 L191.8,386.5 L192.4,390.3 L193.0,398.5 L193.6,397.1 L194.2,402.6 L194.8,405.3 L195.4,406.0 L196.0,410.8 L196.6,410.5 L197.2,416.4 L197.8,415.8 L198.4,417.9 L199.0,421.4 L199.6,424.4 L200.2,426.5 L200.8,428.1 L201.4,428.0 L202.0,428.0 L202.6,430.8 L203.2,431.9 L203.8,431.6 L204.4,434.1 L205.0,434.6 L205.6,434.2 L206.2,435.7 L206.8,435.1 L207.4,435.7 L208.0,437.1 L208.6,436.5 L209.2,437.5 L209.8,437.3 L210.4,438.5 L211.0,438.3 L211.6,438.7 L212.2,438.3 L212.8,438.8 L213.4,439.4 L214.0,439.4 L214.6,438.9 L215.2,439.5 L215.8,439.7 L216.4,439.5 L217.0,439.8 L217.6,439.5 L218.2,439.6 L218.8,439.8 L219.4,439.8 L220.0,439.8 L220.6,439.7 L221.2,439.6 L221.8,439.7 L222.4,439.7 L223.0,439.7 L223.6,439.7 L224.2,439.8 L224.8,439.8 L225.4,439.8 L226.0,439.8 L226.6,439.8 L227.2,439.8 L227.8,439.8 L228.4,439.8 L229.0,439.8 L229.6,439.8 L230.2,439.8 L230.8,439.8 L231.4,439.8 L232.0,439.8 L232.6,439.8 L233.2,439.8 L233.8,439.8 L234.4,439.8 L235.0,439.8 L235.6,439.8 L236.2,439.8 L236.8,439.8 L237.4,439.8 L238.0,439.8 L238.6,439.8 L239.2,439.8 L239.8,439.8 L240.4,439.8 L241.0,439.8 L241.6,439.8 L242.2,439.8 L242.8,439.8 L243.4,439.8 L244.0,439.8 L244.6,439.8 L245.2,439.8 L245.8,439.8 L246.4,439.8 L247.0,439.8 L247.6,439.8 L248.2,439.8 L248.8,439.8 L249.4,439.8 L250.0,439.8 L250.6,439.8 L251.2,439.8 L251.8,439.8 L252.4,439.8 L253.0,439.8 L253.6,439.8 L254.2,439.8 L254.8,439.8 L255.4,439.8 L256.0,439.8 L256.6,439.8 L257.2,439.8 L257.8,439.8 L258.4,439.8 L259.0,439.8 L259.6,439.8 L260.2,439.8 L260.8,439.8 L261.4,439.8 L262.0,439.8 L262.6,439.8 L263.2,439.8 L263.8,439.8 L264.4,439.8 L265.0,439.8 L265.6,439.8 L266.2,439.8 L266.8,439.8 L267.4,439.8 L268.0,439.8 L268.6,439.8 L269.2,439.8 L269.8,439.8 L270.4,439.8 L271.0,439.8 L271.6,439.8 L272.2,439.8 L272.8,439.8 L273.4,439.8 L274.0,439.8 L274.6,439.8 L275.2,439.8 L275.8,439.8 L276.4,439.8 L277.0,439.8 L277.6,439.8 L278.2,439.8 L278.8,439.8 L279.4,439.8 L280.0,439.8 L280.6,439.8 L281.2,439.8 L281.8,439.8 L282.4,439.8 L283.0,439.8 L283.6,439.8 L284.2,439.8 L284.8,439.8 L285.4,439.8 L286.0,439.8 L286.6,439.8 L287.2,439.8 L287.8,439.8 L288.4,439.8 L289.0,439.8 L289.6,439.8 L290.2,439.8 L290.8,439.8 L291.4,439.8 L292.0,439.8 L292.6,439.8 L293.2,439.8 L293.8,439.8 L294.4,439.8 L295.0,439.8 L295.6,439.8 L296.2,439.8 L296.8,439.8 L297.4,439.8 L298.0,439.8 L298.6,439.8 L299.2,439.8 L299.8,439.8 L300.4,439.8 L301.0,439.8 L301.6,439.8 L302.2,439.8 L302.8,439.8 L303.4,439.8 L304.0,439.8 L304.6,439.8 L305.2,439.8 L305.8,439.8 L306.4,439.8 L307.0,439.8 L307.6,439.8 L308.2,439.8 L308.8,439.8 L309.4,439.8 L310.0,439.8 L310.6,439.8 L311.2,439.8 L311.8,439.8 L312.4,439.8 L313.0,439.8 L313.6,439.8 L314.2,439.8 L314.8,439.8 L315.4,439.8 L316.0,439.8 L316.6,439.8 L317.2,439.8 L317.8,439.8 L318.4,439.8 L319.0,439.8 L319.6,439.8 L320.2,439.8 L320.8,439.8 L321.4,439.8 L322.0,439.8 L322.6,439.8 L323.2,439.8 L323.8,439.8 L324.4,439.8 L325.0,439.8 L325.6,439.8 L326.2,439.8 L326.8,439.8 L327.4,439.8 L328.0,439.8 L328.6,439.8 L329.2,439.8 L329.8,439.8 L330.4,439.8 L331.0,439.8 L331.6,439.8 L332.2,439.8 L332.8,439.8 L333.4,439.8 L334.0,439.8 L334.6,439.8 L335.2,439.8 L335.8,439.8 L336.4,439.8 L337.0,439.8 L337.6,439.8 L338.2,439.8 L338.8,439.8 L339.4,439.8 L340.0,439.8 L340.6,439.8 L341.2,439.8 L341.8,439.8 L342.4,439.8 L343.0,439.8 L343.6,439.8 L344.2,439.8 L344.8,439.8 L345.4,439.8 L346.0,439.8 L346.6,439.8 L347.2,439.8 L347.8,439.8 L348.4,439.8 L349.0,439.8 L349.6,439.8 L350.2,439.8 L350.8,439.8 L351.4,439.8 L352.0,439.8" fill="none" stroke="#22dd22" stroke-width="2.2" stroke-linejoin="round"/>
<text x="346.7" y="292.7" font-size="17.6" font-weight="bold" text-anchor="end" fill="#000" letter-spacing="0.3">LDLR Protein</text>
<text x="291.1" y="321.0" font-size="17.5" font-weight="normal" text-anchor="middle" fill="#000" letter-spacing="0.3">OCI-AML3</text>
<path d="M269.9,350.2 H233.9 V436.0 H269.9" fill="none" stroke="#ccc" stroke-width="1.2"/>
<rect x="237.40" y="353.30" width="27.60" height="24.50" fill="#fff" stroke="#22dd22" stroke-width="2" />
<text x="272.1" y="370.7" font-size="17.5" font-weight="normal" text-anchor="start" fill="#000" letter-spacing="0.3">DCA</text>
<rect x="237.40" y="381.90" width="27.60" height="23.10" fill="#fff" stroke="#e82222" stroke-width="2" />
<text x="272.1" y="397.8" font-size="17.5" font-weight="normal" text-anchor="start" fill="#000" letter-spacing="0.3">Cont</text>
<rect x="237.40" y="409.00" width="27.60" height="25.00" fill="#fff" stroke="#a0a0a0" stroke-width="2" />
<text x="272.1" y="426.9" font-size="17.5" font-weight="normal" text-anchor="start" fill="#000" letter-spacing="0.3">IgG</text>
<line x1="365.90" y1="271.60" x2="669.00" y2="271.60" stroke="#ddd" stroke-width="1.4" />
<line x1="669.00" y1="271.60" x2="669.00" y2="439.40" stroke="#222" stroke-width="1.6" />
<line x1="365.90" y1="271.60" x2="365.90" y2="439.40" stroke="#888" stroke-width="1.6" />
<line x1="365.90" y1="439.40" x2="669.00" y2="439.40" stroke="#bbb" stroke-width="1.2" />
<line x1="365.90" y1="271.60" x2="365.90" y2="352.00" stroke="#333" stroke-width="1.6" />
<line x1="363.70" y1="425.50" x2="365.90" y2="425.50" stroke="#444" stroke-width="1.2" />
<line x1="363.70" y1="411.60" x2="365.90" y2="411.60" stroke="#444" stroke-width="1.2" />
<line x1="363.70" y1="397.70" x2="365.90" y2="397.70" stroke="#444" stroke-width="1.2" />
<line x1="363.70" y1="383.80" x2="365.90" y2="383.80" stroke="#444" stroke-width="1.2" />
<line x1="363.70" y1="369.90" x2="365.90" y2="369.90" stroke="#444" stroke-width="1.2" />
<line x1="363.70" y1="356.00" x2="365.90" y2="356.00" stroke="#444" stroke-width="1.2" />
<line x1="363.70" y1="342.10" x2="365.90" y2="342.10" stroke="#444" stroke-width="1.2" />
<line x1="363.70" y1="328.20" x2="365.90" y2="328.20" stroke="#444" stroke-width="1.2" />
<line x1="363.70" y1="314.30" x2="365.90" y2="314.30" stroke="#444" stroke-width="1.2" />
<line x1="363.70" y1="300.40" x2="365.90" y2="300.40" stroke="#444" stroke-width="1.2" />
<line x1="363.70" y1="286.50" x2="365.90" y2="286.50" stroke="#444" stroke-width="1.2" />
<line x1="368.50" y1="439.40" x2="368.50" y2="441.60" stroke="#444" stroke-width="1.1" />
<line x1="391.08" y1="439.40" x2="391.08" y2="441.00" stroke="#444" stroke-width="1.1" />
<line x1="404.28" y1="439.40" x2="404.28" y2="441.00" stroke="#444" stroke-width="1.1" />
<line x1="413.65" y1="439.40" x2="413.65" y2="441.00" stroke="#444" stroke-width="1.1" />
<line x1="420.92" y1="439.40" x2="420.92" y2="441.00" stroke="#444" stroke-width="1.1" />
<line x1="426.86" y1="439.40" x2="426.86" y2="441.00" stroke="#444" stroke-width="1.1" />
<line x1="431.88" y1="439.40" x2="431.88" y2="441.00" stroke="#444" stroke-width="1.1" />
<line x1="436.23" y1="439.40" x2="436.23" y2="441.00" stroke="#444" stroke-width="1.1" />
<line x1="440.07" y1="439.40" x2="440.07" y2="441.00" stroke="#444" stroke-width="1.1" />
<line x1="443.50" y1="439.40" x2="443.50" y2="441.60" stroke="#444" stroke-width="1.1" />
<line x1="466.08" y1="439.40" x2="466.08" y2="441.00" stroke="#444" stroke-width="1.1" />
<line x1="479.28" y1="439.40" x2="479.28" y2="441.00" stroke="#444" stroke-width="1.1" />
<line x1="488.65" y1="439.40" x2="488.65" y2="441.00" stroke="#444" stroke-width="1.1" />
<line x1="495.92" y1="439.40" x2="495.92" y2="441.00" stroke="#444" stroke-width="1.1" />
<line x1="501.86" y1="439.40" x2="501.86" y2="441.00" stroke="#444" stroke-width="1.1" />
<line x1="506.88" y1="439.40" x2="506.88" y2="441.00" stroke="#444" stroke-width="1.1" />
<line x1="511.23" y1="439.40" x2="511.23" y2="441.00" stroke="#444" stroke-width="1.1" />
<line x1="515.07" y1="439.40" x2="515.07" y2="441.00" stroke="#444" stroke-width="1.1" />
<line x1="518.50" y1="439.40" x2="518.50" y2="441.60" stroke="#444" stroke-width="1.1" />
<line x1="541.08" y1="439.40" x2="541.08" y2="441.00" stroke="#444" stroke-width="1.1" />
<line x1="554.28" y1="439.40" x2="554.28" y2="441.00" stroke="#444" stroke-width="1.1" />
<line x1="563.65" y1="439.40" x2="563.65" y2="441.00" stroke="#444" stroke-width="1.1" />
<line x1="570.92" y1="439.40" x2="570.92" y2="441.00" stroke="#444" stroke-width="1.1" />
<line x1="576.86" y1="439.40" x2="576.86" y2="441.00" stroke="#444" stroke-width="1.1" />
<line x1="581.88" y1="439.40" x2="581.88" y2="441.00" stroke="#444" stroke-width="1.1" />
<line x1="586.23" y1="439.40" x2="586.23" y2="441.00" stroke="#444" stroke-width="1.1" />
<line x1="590.07" y1="439.40" x2="590.07" y2="441.00" stroke="#444" stroke-width="1.1" />
<line x1="593.50" y1="439.40" x2="593.50" y2="441.60" stroke="#444" stroke-width="1.1" />
<line x1="616.08" y1="439.40" x2="616.08" y2="441.00" stroke="#444" stroke-width="1.1" />
<line x1="629.28" y1="439.40" x2="629.28" y2="441.00" stroke="#444" stroke-width="1.1" />
<line x1="638.65" y1="439.40" x2="638.65" y2="441.00" stroke="#444" stroke-width="1.1" />
<line x1="645.92" y1="439.40" x2="645.92" y2="441.00" stroke="#444" stroke-width="1.1" />
<line x1="651.86" y1="439.40" x2="651.86" y2="441.00" stroke="#444" stroke-width="1.1" />
<line x1="656.88" y1="439.40" x2="656.88" y2="441.00" stroke="#444" stroke-width="1.1" />
<line x1="661.23" y1="439.40" x2="661.23" y2="441.00" stroke="#444" stroke-width="1.1" />
<line x1="665.07" y1="439.40" x2="665.07" y2="441.00" stroke="#444" stroke-width="1.1" />
<text x="435.9" y="455.8" font-size="14.2" fill="#333">10<tspan dy="-5.6" font-size="9">0</tspan></text>
<text x="510.9" y="455.8" font-size="14.2" fill="#333">10<tspan dy="-5.6" font-size="9">1</tspan></text>
<text x="583.9" y="455.8" font-size="14.2" fill="#333">10<tspan dy="-5.6" font-size="9">2</tspan></text>
<text x="656.5" y="455.8" font-size="14.2" fill="#333">10<tspan dy="-5.6" font-size="9">3</tspan></text>
<path d="M365.9,433.2 L366.5,433.4 L367.1,431.4 L367.7,432.0 L368.3,432.8 L368.9,431.5 L369.5,433.1 L370.1,427.6 L370.7,427.7 L371.3,425.3 L371.9,423.7 L372.5,424.0 L373.1,424.4 L373.7,424.2 L374.3,423.6 L374.9,427.7 L375.5,423.8 L376.1,414.2 L376.7,416.4 L377.3,413.2 L377.9,411.5 L378.5,416.3 L379.1,410.8 L379.7,401.6 L380.3,406.5 L380.9,404.0 L381.5,398.3 L382.1,396.3 L382.7,395.4 L383.3,396.2 L383.9,392.9 L384.5,392.7 L385.1,399.3 L385.7,386.5 L386.3,381.4 L386.9,381.0 L387.5,386.0 L388.1,375.8 L388.7,382.9 L389.3,367.5 L389.9,363.1 L390.5,365.5 L391.1,359.2 L391.7,356.9 L392.3,360.7 L392.9,361.2 L393.5,355.5 L394.1,349.4 L394.7,356.3 L395.3,349.8 L395.9,341.8 L396.5,347.5 L397.1,332.4 L397.7,333.9 L398.3,335.8 L398.9,329.5 L399.5,321.9 L400.1,324.8 L400.7,317.1 L401.3,312.9 L401.9,306.8 L402.5,321.3 L403.1,309.1 L403.7,317.8 L404.3,312.5 L404.9,304.7 L405.5,308.9 L406.1,305.6 L406.7,302.5 L407.3,288.6 L407.9,295.9 L408.5,303.6 L409.1,301.5 L409.7,304.6 L410.3,308.9 L410.9,300.8 L411.5,311.4 L412.1,285.1 L412.7,289.0 L413.3,283.7 L413.9,294.5 L414.5,294.7 L415.1,308.2 L415.7,295.2 L416.3,279.0 L416.9,302.6 L417.5,287.9 L418.1,285.8 L418.7,295.1 L419.3,304.9 L419.9,299.4 L420.5,304.8 L421.1,291.2 L421.7,317.6 L422.3,311.5 L422.9,313.0 L423.5,318.6 L424.1,318.4 L424.7,320.3 L425.3,314.2 L425.9,320.5 L426.5,328.0 L427.1,336.1 L427.7,331.7 L428.3,334.1 L428.9,338.4 L429.5,343.0 L430.1,343.7 L430.7,342.9 L431.3,343.0 L431.9,355.8 L432.5,355.6 L433.1,355.9 L433.7,379.3 L434.3,371.1 L434.9,370.8 L435.5,368.6 L436.1,363.3 L436.7,376.2 L437.3,374.4 L437.9,376.7 L438.5,384.3 L439.1,387.9 L439.7,386.5 L440.3,386.8 L440.9,398.7 L441.5,395.9 L442.1,389.4 L442.7,397.5 L443.3,398.4 L443.9,399.6 L444.5,404.1 L445.1,404.7 L445.7,413.3 L446.3,409.5 L446.9,410.0 L447.5,414.7 L448.1,410.8 L448.7,416.5 L449.3,415.3 L449.9,420.1 L450.5,415.7 L451.1,419.6 L451.7,415.3 L452.3,418.7 L452.9,421.7 L453.5,424.5 L454.1,429.9 L454.7,431.4 L455.3,424.4 L455.9,424.8 L456.5,430.3 L457.1,430.3 L457.7,426.9 L458.3,430.5 L458.9,428.6 L459.5,429.2 L460.1,429.1 L460.7,431.3 L461.3,436.6 L461.9,435.0 L462.5,434.2 L463.1,438.3 L463.7,435.1 L464.3,435.0 L464.9,435.1 L465.5,436.2 L466.1,435.8 L466.7,438.0 L467.3,436.7 L467.9,437.5 L468.5,437.5 L469.1,436.5 L469.7,436.3 L470.3,437.3 L470.9,435.7 L471.5,437.4 L472.1,438.0 L472.7,438.3 L473.3,438.3 L473.9,438.6 L474.5,438.3 L475.1,438.9 L475.7,437.8 L476.3,439.0 L476.9,438.4 L477.5,439.0 L478.1,438.7 L478.7,438.7 L479.3,438.6 L479.9,439.4 L480.5,438.8 L481.1,438.6 L481.7,439.1 L482.3,439.2 L482.9,439.2 L483.5,438.9 L484.1,439.0 L484.7,439.4 L485.3,439.1 L485.9,439.4 L486.5,439.4 L487.1,439.4 L487.7,439.1 L488.3,439.4 L488.9,439.4 L489.5,439.4 L490.1,439.3 L490.7,439.2 L491.3,439.3 L491.9,439.4 L492.5,439.3 L493.1,439.4 L493.7,439.4 L494.3,439.4 L494.9,439.4 L495.5,439.4 L496.1,439.4 L496.7,439.4 L497.3,439.4 L497.9,439.3 L498.5,439.4 L499.1,439.4 L499.7,439.4 L500.3,439.4 L500.9,439.4 L501.5,439.4 L502.1,439.4 L502.7,439.4 L503.3,439.4 L503.9,439.4 L504.5,439.4 L505.1,439.4 L505.7,439.4 L506.3,439.4 L506.9,439.4 L507.5,439.4 L508.1,439.4 L508.7,439.4 L509.3,439.4 L509.9,439.4 L510.5,439.4 L511.1,439.4 L511.7,439.4 L512.3,439.4 L512.9,439.4 L513.5,439.4 L514.1,439.4 L514.7,439.4 L515.3,439.4 L515.9,439.4 L516.5,439.4 L517.1,439.4 L517.7,439.4 L518.3,439.4 L518.9,439.4 L519.5,439.4 L520.1,439.4 L520.7,439.4 L521.3,439.4 L521.9,439.4 L522.5,439.4 L523.1,439.4 L523.7,439.4 L524.3,439.4 L524.9,439.4 L525.5,439.4 L526.1,439.4 L526.7,439.4 L527.3,439.4 L527.9,439.4 L528.5,439.4 L529.1,439.4 L529.7,439.4 L530.3,439.4 L530.9,439.4 L531.5,439.4 L532.1,439.4 L532.7,439.4 L533.3,439.4 L533.9,439.4 L534.5,439.4 L535.1,439.4 L535.7,439.4 L536.3,439.4 L536.9,439.4 L537.5,439.4 L538.1,439.4 L538.7,439.4 L539.3,439.4 L539.9,439.4 L540.5,439.4 L541.1,439.4 L541.7,439.4 L542.3,439.4 L542.9,439.4 L543.5,439.4 L544.1,439.4 L544.7,439.4 L545.3,439.4 L545.9,439.4 L546.5,439.4 L547.1,439.4 L547.7,439.4 L548.3,439.4 L548.9,439.4 L549.5,439.4 L550.1,439.4 L550.7,439.4 L551.3,439.4 L551.9,439.4 L552.5,439.4 L553.1,439.4 L553.7,439.4 L554.3,439.4 L554.9,439.4 L555.5,439.4 L556.1,439.4 L556.7,439.4 L557.3,439.4 L557.9,439.4 L558.5,439.4 L559.1,439.4 L559.7,439.4 L560.3,439.4 L560.9,439.4 L561.5,439.4 L562.1,439.4 L562.7,439.4 L563.3,439.4 L563.9,439.4 L564.5,439.4 L565.1,439.4 L565.7,439.4 L566.3,439.4 L566.9,439.4 L567.5,439.4 L568.1,439.4 L568.7,439.4 L569.3,439.4 L569.9,439.4 L570.5,439.4 L571.1,439.4 L571.7,439.4 L572.3,439.4 L572.9,439.4 L573.5,439.4 L574.1,439.4 L574.7,439.4 L575.3,439.4 L575.9,439.4 L576.5,439.4 L577.1,439.4 L577.7,439.4 L578.3,439.4 L578.9,439.4 L579.5,439.4 L580.1,439.4 L580.7,439.4 L581.3,439.4 L581.9,439.4 L582.5,439.4 L583.1,439.4 L583.7,439.4 L584.3,439.4 L584.9,439.4 L585.5,439.4 L586.1,439.4 L586.7,439.4 L587.3,439.4 L587.9,439.4 L588.5,439.4 L589.1,439.4 L589.7,439.4 L590.3,439.4 L590.9,439.4 L591.5,439.4 L592.1,439.4 L592.7,439.4 L593.3,439.4 L593.9,439.4 L594.5,439.4 L595.1,439.4 L595.7,439.4 L596.3,439.4 L596.9,439.4 L597.5,439.4 L598.1,439.4 L598.7,439.4 L599.3,439.4 L599.9,439.4 L600.5,439.4 L601.1,439.4 L601.7,439.4 L602.3,439.4 L602.9,439.4 L603.5,439.4 L604.1,439.4 L604.7,439.4 L605.3,439.4 L605.9,439.4 L606.5,439.4 L607.1,439.4 L607.7,439.4 L608.3,439.4 L608.9,439.4 L609.5,439.4 L610.1,439.4 L610.7,439.4 L611.3,439.4 L611.9,439.4 L612.5,439.4 L613.1,439.4 L613.7,439.4 L614.3,439.4 L614.9,439.4 L615.5,439.4 L616.1,439.4 L616.7,439.4 L617.3,439.4 L617.9,439.4 L618.5,439.4 L619.1,439.4 L619.7,439.4 L620.3,439.4 L620.9,439.4 L621.5,439.4 L622.1,439.4 L622.7,439.4 L623.3,439.4 L623.9,439.4 L624.5,439.4 L625.1,439.4 L625.7,439.4 L626.3,439.4 L626.9,439.4 L627.5,439.4 L628.1,439.4 L628.7,439.4 L629.3,439.4 L629.9,439.4 L630.5,439.4 L631.1,439.4 L631.7,439.4 L632.3,439.4 L632.9,439.4 L633.5,439.4 L634.1,439.4 L634.7,439.4 L635.3,439.4 L635.9,439.4 L636.5,439.4 L637.1,439.4 L637.7,439.4 L638.3,439.4 L638.9,439.4 L639.5,439.4 L640.1,439.4 L640.7,439.4 L641.3,439.4 L641.9,439.4 L642.5,439.4 L643.1,439.4 L643.7,439.4 L644.3,439.4 L644.9,439.4 L645.5,439.4 L646.1,439.4 L646.7,439.4 L647.3,439.4 L647.9,439.4 L648.5,439.4 L649.1,439.4 L649.7,439.4 L650.3,439.4 L650.9,439.4 L651.5,439.4 L652.1,439.4 L652.7,439.4 L653.3,439.4 L653.9,439.4 L654.5,439.4 L655.1,439.4 L655.7,439.4 L656.3,439.4 L656.9,439.4 L657.5,439.4 L658.1,439.4 L658.7,439.4 L659.3,439.4 L659.9,439.4 L660.5,439.4 L661.1,439.4 L661.7,439.4 L662.3,439.4 L662.9,439.4 L663.5,439.4 L664.1,439.4 L664.7,439.4 L665.3,439.4 L665.9,439.4 L666.5,439.4 L667.1,439.4 L667.7,439.4 L668.3,439.4 L668.9,439.4" fill="none" stroke="#a0a0a0" stroke-width="2.0" stroke-linejoin="round"/>
<path d="M365.9,439.4 L366.5,439.3 L367.1,439.4 L367.7,439.3 L368.3,439.4 L368.9,439.3 L369.5,439.4 L370.1,439.4 L370.7,439.4 L371.3,439.4 L371.9,439.4 L372.5,439.4 L373.1,439.3 L373.7,439.4 L374.3,439.3 L374.9,439.3 L375.5,439.4 L376.1,439.4 L376.7,439.4 L377.3,439.4 L377.9,439.4 L378.5,439.3 L379.1,439.4 L379.7,439.3 L380.3,439.3 L380.9,439.3 L381.5,439.4 L382.1,439.4 L382.7,439.4 L383.3,439.4 L383.9,439.4 L384.5,439.4 L385.1,439.3 L385.7,439.4 L386.3,439.2 L386.9,439.2 L387.5,439.4 L388.1,439.4 L388.7,439.2 L389.3,438.8 L389.9,439.3 L390.5,439.2 L391.1,439.2 L391.7,439.4 L392.3,439.3 L392.9,439.4 L393.5,439.2 L394.1,439.4 L394.7,439.4 L395.3,439.4 L395.9,439.1 L396.5,439.4 L397.1,439.4 L397.7,438.8 L398.3,438.9 L398.9,439.4 L399.5,439.1 L400.1,438.9 L400.7,439.1 L401.3,439.0 L401.9,439.0 L402.5,438.1 L403.1,439.4 L403.7,439.2 L404.3,438.5 L404.9,439.3 L405.5,439.1 L406.1,438.9 L406.7,439.4 L407.3,439.4 L407.9,439.4 L408.5,439.4 L409.1,439.4 L409.7,438.3 L410.3,438.1 L410.9,438.9 L411.5,437.2 L412.1,437.8 L412.7,439.1 L413.3,439.2 L413.9,438.9 L414.5,436.7 L415.1,439.4 L415.7,438.8 L416.3,438.8 L416.9,438.5 L417.5,436.3 L418.1,436.0 L418.7,436.0 L419.3,439.0 L419.9,437.0 L420.5,437.0 L421.1,436.9 L421.7,437.7 L422.3,437.8 L422.9,437.5 L423.5,435.6 L424.1,432.9 L424.7,436.0 L425.3,436.8 L425.9,438.1 L426.5,436.7 L427.1,435.7 L427.7,436.6 L428.3,434.3 L428.9,434.3 L429.5,434.2 L430.1,435.8 L430.7,438.6 L431.3,437.5 L431.9,437.7 L432.5,436.4 L433.1,436.0 L433.7,434.8 L434.3,434.7 L434.9,431.3 L435.5,432.3 L436.1,432.3 L436.7,435.4 L437.3,435.9 L437.9,436.7 L438.5,437.5 L439.1,434.7 L439.7,436.1 L440.3,437.9 L440.9,435.0 L441.5,436.0 L442.1,434.1 L442.7,431.1 L443.3,433.2 L443.9,432.1 L444.5,433.3 L445.1,432.5 L445.7,433.7 L446.3,429.5 L446.9,435.9 L447.5,436.2 L448.1,433.0 L448.7,431.1 L449.3,432.3 L449.9,433.7 L450.5,433.5 L451.1,433.4 L451.7,428.7 L452.3,429.0 L452.9,433.8 L453.5,432.8 L454.1,429.0 L454.7,429.2 L455.3,428.0 L455.9,428.5 L456.5,433.0 L457.1,431.2 L457.7,433.4 L458.3,431.9 L458.9,427.8 L459.5,428.5 L460.1,434.9 L460.7,429.7 L461.3,427.6 L461.9,432.0 L462.5,430.4 L463.1,429.5 L463.7,432.6 L464.3,425.4 L464.9,428.6 L465.5,425.6 L466.1,423.6 L466.7,424.2 L467.3,429.1 L467.9,426.6 L468.5,421.1 L469.1,421.2 L469.7,428.1 L470.3,428.0 L470.9,421.4 L471.5,429.7 L472.1,422.9 L472.7,418.0 L473.3,419.5 L473.9,422.7 L474.5,425.2 L475.1,423.3 L475.7,417.1 L476.3,414.4 L476.9,409.6 L477.5,412.6 L478.1,410.6 L478.7,412.4 L479.3,406.1 L479.9,406.5 L480.5,404.1 L481.1,401.2 L481.7,399.4 L482.3,398.6 L482.9,396.5 L483.5,402.7 L484.1,401.0 L484.7,392.8 L485.3,398.3 L485.9,397.4 L486.5,401.8 L487.1,393.4 L487.7,390.0 L488.3,385.3 L488.9,387.1 L489.5,388.3 L490.1,385.5 L490.7,381.1 L491.3,383.2 L491.9,379.7 L492.5,378.3 L493.1,369.5 L493.7,372.7 L494.3,364.7 L494.9,362.1 L495.5,366.2 L496.1,378.2 L496.7,372.7 L497.3,363.5 L497.9,358.5 L498.5,363.6 L499.1,366.1 L499.7,364.3 L500.3,352.7 L500.9,351.0 L501.5,345.5 L502.1,342.9 L502.7,336.8 L503.3,338.2 L503.9,323.2 L504.5,325.0 L505.1,336.2 L505.7,327.5 L506.3,335.1 L506.9,321.8 L507.5,324.3 L508.1,329.6 L508.7,318.6 L509.3,317.2 L509.9,341.1 L510.5,320.9 L511.1,314.7 L511.7,313.2 L512.3,316.8 L512.9,316.4 L513.5,323.7 L514.1,323.3 L514.7,312.6 L515.3,309.7 L515.9,299.5 L516.5,301.0 L517.1,300.6 L517.7,313.6 L518.3,311.4 L518.9,316.3 L519.5,318.4 L520.1,309.4 L520.7,326.2 L521.3,308.1 L521.9,302.7 L522.5,303.1 L523.1,316.5 L523.7,309.3 L524.3,302.7 L524.9,311.2 L525.5,319.5 L526.1,311.6 L526.7,308.9 L527.3,320.0 L527.9,322.5 L528.5,323.4 L529.1,310.3 L529.7,316.4 L530.3,319.4 L530.9,303.5 L531.5,324.8 L532.1,322.2 L532.7,319.0 L533.3,340.1 L533.9,329.6 L534.5,321.4 L535.1,325.7 L535.7,332.9 L536.3,337.8 L536.9,333.7 L537.5,328.0 L538.1,329.2 L538.7,330.1 L539.3,330.1 L539.9,339.1 L540.5,339.4 L541.1,344.9 L541.7,341.6 L542.3,342.0 L542.9,348.5 L543.5,350.5 L544.1,362.6 L544.7,353.5 L545.3,360.1 L545.9,361.7 L546.5,355.5 L547.1,368.4 L547.7,369.7 L548.3,357.6 L548.9,372.5 L549.5,379.7 L550.1,372.8 L550.7,386.9 L551.3,383.0 L551.9,376.2 L552.5,385.4 L553.1,384.1 L553.7,380.0 L554.3,376.2 L554.9,389.0 L555.5,388.6 L556.1,396.6 L556.7,398.6 L557.3,396.0 L557.9,396.5 L558.5,408.3 L559.1,412.0 L559.7,409.7 L560.3,405.4 L560.9,402.8 L561.5,405.7 L562.1,415.6 L562.7,414.2 L563.3,411.9 L563.9,408.8 L564.5,414.1 L565.1,412.5 L565.7,416.1 L566.3,420.3 L566.9,423.1 L567.5,421.5 L568.1,420.2 L568.7,422.4 L569.3,428.3 L569.9,426.1 L570.5,421.1 L571.1,428.7 L571.7,427.5 L572.3,436.2 L572.9,428.6 L573.5,428.1 L574.1,428.0 L574.7,430.0 L575.3,428.7 L575.9,426.9 L576.5,426.0 L577.1,429.9 L577.7,430.5 L578.3,430.9 L578.9,436.4 L579.5,435.5 L580.1,436.1 L580.7,433.7 L581.3,434.7 L581.9,434.4 L582.5,434.6 L583.1,436.2 L583.7,436.6 L584.3,436.5 L584.9,436.4 L585.5,434.4 L586.1,435.1 L586.7,436.8 L587.3,436.4 L587.9,436.0 L588.5,437.3 L589.1,436.4 L589.7,436.6 L590.3,438.3 L590.9,437.6 L591.5,439.1 L592.1,438.8 L592.7,439.0 L593.3,439.3 L593.9,436.9 L594.5,438.0 L595.1,437.4 L595.7,438.0 L596.3,438.4 L596.9,439.4 L597.5,438.9 L598.1,439.4 L598.7,438.8 L599.3,438.8 L599.9,439.0 L600.5,439.4 L601.1,439.1 L601.7,438.8 L602.3,438.9 L602.9,438.5 L603.5,439.4 L604.1,439.4 L604.7,439.4 L605.3,439.3 L605.9,439.0 L606.5,439.1 L607.1,439.4 L607.7,439.1 L608.3,439.0 L608.9,439.4 L609.5,439.4 L610.1,439.4 L610.7,439.4 L611.3,439.4 L611.9,439.4 L612.5,439.3 L613.1,439.4 L613.7,439.4 L614.3,439.4 L614.9,439.4 L615.5,439.4 L616.1,439.3 L616.7,439.3 L617.3,439.3 L617.9,439.4 L618.5,439.4 L619.1,439.3 L619.7,439.3 L620.3,439.3 L620.9,439.4 L621.5,439.4 L622.1,439.3 L622.7,439.4 L623.3,439.3 L623.9,439.4 L624.5,439.3 L625.1,439.3 L625.7,439.3 L626.3,439.4 L626.9,439.3 L627.5,439.4 L628.1,439.4 L628.7,439.4 L629.3,439.4 L629.9,439.4 L630.5,439.4 L631.1,439.4 L631.7,439.4 L632.3,439.3 L632.9,439.4 L633.5,439.4 L634.1,439.4 L634.7,439.4 L635.3,439.4 L635.9,439.4 L636.5,439.4 L637.1,439.4 L637.7,439.4 L638.3,439.4 L638.9,439.4 L639.5,439.4 L640.1,439.4 L640.7,439.4 L641.3,439.4 L641.9,439.4 L642.5,439.4 L643.1,439.4 L643.7,439.4 L644.3,439.4 L644.9,439.4 L645.5,439.4 L646.1,439.4 L646.7,439.4 L647.3,439.4 L647.9,439.4 L648.5,439.4 L649.1,439.4 L649.7,439.4 L650.3,439.4 L650.9,439.4 L651.5,439.4 L652.1,439.4 L652.7,439.4 L653.3,439.4 L653.9,439.4 L654.5,439.4 L655.1,439.4 L655.7,439.4 L656.3,439.4 L656.9,439.4 L657.5,439.4 L658.1,439.4 L658.7,439.4 L659.3,439.4 L659.9,439.4 L660.5,439.4 L661.1,439.4 L661.7,439.4 L662.3,439.4 L662.9,439.4 L663.5,439.4 L664.1,439.4 L664.7,439.4 L665.3,439.4 L665.9,439.4 L666.5,439.4 L667.1,439.4 L667.7,439.4 L668.3,439.4 L668.9,439.4" fill="none" stroke="#e82222" stroke-width="2.2" stroke-linejoin="round"/>
<path d="M365.9,439.4 L366.5,439.4 L367.1,439.4 L367.7,439.4 L368.3,439.4 L368.9,439.4 L369.5,439.4 L370.1,439.4 L370.7,439.4 L371.3,439.4 L371.9,439.4 L372.5,439.4 L373.1,439.4 L373.7,439.4 L374.3,439.4 L374.9,439.4 L375.5,439.4 L376.1,439.4 L376.7,439.4 L377.3,439.4 L377.9,439.4 L378.5,439.4 L379.1,439.4 L379.7,439.4 L380.3,439.4 L380.9,439.4 L381.5,439.4 L382.1,439.4 L382.7,439.4 L383.3,439.4 L383.9,439.4 L384.5,439.4 L385.1,439.4 L385.7,439.4 L386.3,439.4 L386.9,439.4 L387.5,439.4 L388.1,439.4 L388.7,439.4 L389.3,439.4 L389.9,439.4 L390.5,439.4 L391.1,439.4 L391.7,439.4 L392.3,439.4 L392.9,439.4 L393.5,439.4 L394.1,439.4 L394.7,439.4 L395.3,439.4 L395.9,439.4 L396.5,439.4 L397.1,439.4 L397.7,439.4 L398.3,439.4 L398.9,439.4 L399.5,439.4 L400.1,439.4 L400.7,439.4 L401.3,439.4 L401.9,439.4 L402.5,439.4 L403.1,439.4 L403.7,439.4 L404.3,439.4 L404.9,439.4 L405.5,439.4 L406.1,439.4 L406.7,439.4 L407.3,439.4 L407.9,439.4 L408.5,439.4 L409.1,439.4 L409.7,439.4 L410.3,439.4 L410.9,439.4 L411.5,439.4 L412.1,439.4 L412.7,439.4 L413.3,439.4 L413.9,439.4 L414.5,439.3 L415.1,439.3 L415.7,439.4 L416.3,439.4 L416.9,439.4 L417.5,439.3 L418.1,439.4 L418.7,439.4 L419.3,439.4 L419.9,439.4 L420.5,439.4 L421.1,439.3 L421.7,439.4 L422.3,439.4 L422.9,439.4 L423.5,439.4 L424.1,439.4 L424.7,439.4 L425.3,439.4 L425.9,439.2 L426.5,439.4 L427.1,439.4 L427.7,439.4 L428.3,439.4 L428.9,439.3 L429.5,439.4 L430.1,439.4 L430.7,439.4 L431.3,439.4 L431.9,439.3 L432.5,439.4 L433.1,439.4 L433.7,439.3 L434.3,439.2 L434.9,439.0 L435.5,439.4 L436.1,439.3 L436.7,439.2 L437.3,439.2 L437.9,439.2 L438.5,439.4 L439.1,439.4 L439.7,438.9 L440.3,439.2 L440.9,439.3 L441.5,439.2 L442.1,439.3 L442.7,439.4 L443.3,439.4 L443.9,439.4 L444.5,439.4 L445.1,438.9 L445.7,439.4 L446.3,439.4 L446.9,439.2 L447.5,439.4 L448.1,439.4 L448.7,439.1 L449.3,438.9 L449.9,439.2 L450.5,438.4 L451.1,438.4 L451.7,438.9 L452.3,439.3 L452.9,439.3 L453.5,439.4 L454.1,439.4 L454.7,438.9 L455.3,438.7 L455.9,438.6 L456.5,438.5 L457.1,439.4 L457.7,439.4 L458.3,437.5 L458.9,438.6 L459.5,437.8 L460.1,437.5 L460.7,439.1 L461.3,439.4 L461.9,439.4 L462.5,439.1 L463.1,439.4 L463.7,437.5 L464.3,438.6 L464.9,437.4 L465.5,437.0 L466.1,435.8 L466.7,438.6 L467.3,439.4 L467.9,438.8 L468.5,436.8 L469.1,437.1 L469.7,435.6 L470.3,436.0 L470.9,438.3 L471.5,438.9 L472.1,437.7 L472.7,437.4 L473.3,435.9 L473.9,436.1 L474.5,435.2 L475.1,435.8 L475.7,434.0 L476.3,436.0 L476.9,434.2 L477.5,434.3 L478.1,433.5 L478.7,436.1 L479.3,435.4 L479.9,431.7 L480.5,430.2 L481.1,432.6 L481.7,431.9 L482.3,430.7 L482.9,431.1 L483.5,434.1 L484.1,430.5 L484.7,432.9 L485.3,428.5 L485.9,427.6 L486.5,428.4 L487.1,427.2 L487.7,425.3 L488.3,422.8 L488.9,423.6 L489.5,423.1 L490.1,423.6 L490.7,426.4 L491.3,425.0 L491.9,426.1 L492.5,422.8 L493.1,422.2 L493.7,422.1 L494.3,421.8 L494.9,422.1 L495.5,416.0 L496.1,417.3 L496.7,416.1 L497.3,418.9 L497.9,417.5 L498.5,410.9 L499.1,412.4 L499.7,413.1 L500.3,409.8 L500.9,413.2 L501.5,409.0 L502.1,400.5 L502.7,404.3 L503.3,406.4 L503.9,398.8 L504.5,402.9 L505.1,386.6 L505.7,404.3 L506.3,391.1 L506.9,391.2 L507.5,391.0 L508.1,384.2 L508.7,390.2 L509.3,384.2 L509.9,379.2 L510.5,371.5 L511.1,384.7 L511.7,389.6 L512.3,381.5 L512.9,381.1 L513.5,387.8 L514.1,381.4 L514.7,383.1 L515.3,381.5 L515.9,378.3 L516.5,375.1 L517.1,377.1 L517.7,370.4 L518.3,366.9 L518.9,359.3 L519.5,347.3 L520.1,350.5 L520.7,353.9 L521.3,362.7 L521.9,354.3 L522.5,339.7 L523.1,353.2 L523.7,359.2 L524.3,353.2 L524.9,350.3 L525.5,348.3 L526.1,344.1 L526.7,352.7 L527.3,337.3 L527.9,332.9 L528.5,325.3 L529.1,329.4 L529.7,327.9 L530.3,326.8 L530.9,332.0 L531.5,338.9 L532.1,321.0 L532.7,327.1 L533.3,321.2 L533.9,319.1 L534.5,319.5 L535.1,325.3 L535.7,310.0 L536.3,330.6 L536.9,322.2 L537.5,314.2 L538.1,304.4 L538.7,323.1 L539.3,324.3 L539.9,325.6 L540.5,319.4 L541.1,330.6 L541.7,331.6 L542.3,336.3 L542.9,322.3 L543.5,323.6 L544.1,312.5 L544.7,313.7 L545.3,310.2 L545.9,312.3 L546.5,313.0 L547.1,312.8 L547.7,312.5 L548.3,314.1 L548.9,310.0 L549.5,306.9 L550.1,308.6 L550.7,318.9 L551.3,322.6 L551.9,327.3 L552.5,340.2 L553.1,316.1 L553.7,326.3 L554.3,312.5 L554.9,316.1 L555.5,316.4 L556.1,324.7 L556.7,337.9 L557.3,344.2 L557.9,338.0 L558.5,342.8 L559.1,341.3 L559.7,330.1 L560.3,350.5 L560.9,340.5 L561.5,340.4 L562.1,345.4 L562.7,342.1 L563.3,345.4 L563.9,357.7 L564.5,351.0 L565.1,353.3 L565.7,348.7 L566.3,348.5 L566.9,364.5 L567.5,371.0 L568.1,369.5 L568.7,383.4 L569.3,372.5 L569.9,380.4 L570.5,377.0 L571.1,381.8 L571.7,387.6 L572.3,380.7 L572.9,395.1 L573.5,392.6 L574.1,394.3 L574.7,395.2 L575.3,399.4 L575.9,394.4 L576.5,394.9 L577.1,403.4 L577.7,404.3 L578.3,405.1 L578.9,409.5 L579.5,416.8 L580.1,409.5 L580.7,403.5 L581.3,411.1 L581.9,409.1 L582.5,414.9 L583.1,414.9 L583.7,419.2 L584.3,426.9 L584.9,423.4 L585.5,418.6 L586.1,420.0 L586.7,421.3 L587.3,421.3 L587.9,427.1 L588.5,428.4 L589.1,431.3 L589.7,432.0 L590.3,430.5 L590.9,429.6 L591.5,430.0 L592.1,431.6 L592.7,431.1 L593.3,429.7 L593.9,436.9 L594.5,437.3 L595.1,434.7 L595.7,434.1 L596.3,434.4 L596.9,436.0 L597.5,435.5 L598.1,433.0 L598.7,435.9 L599.3,437.2 L599.9,435.4 L600.5,435.1 L601.1,436.7 L601.7,436.2 L602.3,438.3 L602.9,438.8 L603.5,436.6 L604.1,438.1 L604.7,437.0 L605.3,437.4 L605.9,439.2 L606.5,438.5 L607.1,439.0 L607.7,438.5 L608.3,439.4 L608.9,439.1 L609.5,439.4 L610.1,439.4 L610.7,439.0 L611.3,439.0 L611.9,438.9 L612.5,439.4 L613.1,438.9 L613.7,439.4 L614.3,439.4 L614.9,439.4 L615.5,438.9 L616.1,439.4 L616.7,439.4 L617.3,439.4 L617.9,439.1 L618.5,439.3 L619.1,439.4 L619.7,439.4 L620.3,439.4 L620.9,439.3 L621.5,439.3 L622.1,439.3 L622.7,439.4 L623.3,439.4 L623.9,439.3 L624.5,439.2 L625.1,439.4 L625.7,439.4 L626.3,439.3 L626.9,439.2 L627.5,439.4 L628.1,439.4 L628.7,439.3 L629.3,439.4 L629.9,439.3 L630.5,439.4 L631.1,439.3 L631.7,439.3 L632.3,439.2 L632.9,439.4 L633.5,439.4 L634.1,439.4 L634.7,439.4 L635.3,439.3 L635.9,439.4 L636.5,439.4 L637.1,439.4 L637.7,439.4 L638.3,439.4 L638.9,439.4 L639.5,439.4 L640.1,439.4 L640.7,439.4 L641.3,439.4 L641.9,439.4 L642.5,439.4 L643.1,439.4 L643.7,439.4 L644.3,439.4 L644.9,439.4 L645.5,439.4 L646.1,439.4 L646.7,439.4 L647.3,439.4 L647.9,439.4 L648.5,439.4 L649.1,439.4 L649.7,439.4 L650.3,439.4 L650.9,439.4 L651.5,439.4 L652.1,439.4 L652.7,439.4 L653.3,439.4 L653.9,439.4 L654.5,439.4 L655.1,439.4 L655.7,439.4 L656.3,439.4 L656.9,439.4 L657.5,439.4 L658.1,439.4 L658.7,439.4 L659.3,439.4 L659.9,439.4 L660.5,439.4 L661.1,439.4 L661.7,439.4 L662.3,439.4 L662.9,439.4 L663.5,439.4 L664.1,439.4 L664.7,439.4 L665.3,439.4 L665.9,439.4 L666.5,439.4 L667.1,439.4 L667.7,439.4 L668.3,439.4 L668.9,439.4" fill="none" stroke="#22dd22" stroke-width="2.2" stroke-linejoin="round"/>
<text x="597.3" y="321.7" font-size="18.8" font-weight="normal" text-anchor="start" fill="#000" >Huh7</text>
<line x1="192.60" y1="474.70" x2="276.70" y2="474.70" stroke="#555" stroke-width="2" />
<text x="290.9" y="477.9" font-size="14.5" font-weight="bold" text-anchor="start" fill="#000" >Fluorescence Intensity</text>
<line x1="447.50" y1="474.70" x2="528.30" y2="474.70" stroke="#333" stroke-width="2" />
<path d="M515.3,467.2 L529.3,474.7 L515.3,482.2" fill="none" stroke="#000" stroke-width="3.4"/>
<text x="4.5" y="508.0" font-size="25" font-weight="normal" text-anchor="start" fill="#000" >C</text>
<line x1="25.60" y1="517.90" x2="25.60" y2="548.30" stroke="#333" stroke-width="2" />
<path d="M18.1,529.9 L25.6,518.9 L33.1,529.9" fill="none" stroke="#000" stroke-width="3.6" stroke-linejoin="miter"/>
<text x="0" y="0" font-size="18" font-weight="bold" text-anchor="middle" transform="translate(29.7,590.4) rotate(-90)">Count</text>
<line x1="25.60" y1="630.00" x2="25.60" y2="651.00" stroke="#222" stroke-width="2" />
<line x1="44.10" y1="493.50" x2="354.30" y2="493.50" stroke="#777" stroke-width="1.4" />
<line x1="354.30" y1="493.50" x2="354.30" y2="658.20" stroke="#555" stroke-width="1.6" />
<line x1="44.10" y1="493.50" x2="44.10" y2="658.20" stroke="#555" stroke-width="1.6" />
<line x1="44.10" y1="658.20" x2="354.30" y2="658.20" stroke="#bbb" stroke-width="1.2" />
<line x1="41.90" y1="645.80" x2="44.10" y2="645.80" stroke="#444" stroke-width="1.2" />
<line x1="41.90" y1="633.40" x2="44.10" y2="633.40" stroke="#444" stroke-width="1.2" />
<line x1="41.90" y1="621.00" x2="44.10" y2="621.00" stroke="#444" stroke-width="1.2" />
<line x1="41.90" y1="608.60" x2="44.10" y2="608.60" stroke="#444" stroke-width="1.2" />
<line x1="41.90" y1="596.20" x2="44.10" y2="596.20" stroke="#444" stroke-width="1.2" />
<line x1="41.90" y1="583.80" x2="44.10" y2="583.80" stroke="#444" stroke-width="1.2" />
<line x1="41.90" y1="571.40" x2="44.10" y2="571.40" stroke="#444" stroke-width="1.2" />
<line x1="41.90" y1="559.00" x2="44.10" y2="559.00" stroke="#444" stroke-width="1.2" />
<line x1="41.90" y1="546.60" x2="44.10" y2="546.60" stroke="#444" stroke-width="1.2" />
<line x1="41.90" y1="534.20" x2="44.10" y2="534.20" stroke="#444" stroke-width="1.2" />
<line x1="41.90" y1="521.80" x2="44.10" y2="521.80" stroke="#444" stroke-width="1.2" />
<line x1="41.90" y1="509.40" x2="44.10" y2="509.40" stroke="#444" stroke-width="1.2" />
<line x1="41.90" y1="497.00" x2="44.10" y2="497.00" stroke="#444" stroke-width="1.2" />
<line x1="67.46" y1="658.20" x2="67.46" y2="659.80" stroke="#444" stroke-width="1.1" />
<line x1="80.95" y1="658.20" x2="80.95" y2="659.80" stroke="#444" stroke-width="1.1" />
<line x1="90.52" y1="658.20" x2="90.52" y2="659.80" stroke="#444" stroke-width="1.1" />
<line x1="97.94" y1="658.20" x2="97.94" y2="659.80" stroke="#444" stroke-width="1.1" />
<line x1="104.01" y1="658.20" x2="104.01" y2="659.80" stroke="#444" stroke-width="1.1" />
<line x1="109.13" y1="658.20" x2="109.13" y2="659.80" stroke="#444" stroke-width="1.1" />
<line x1="113.58" y1="658.20" x2="113.58" y2="659.80" stroke="#444" stroke-width="1.1" />
<line x1="117.49" y1="658.20" x2="117.49" y2="659.80" stroke="#444" stroke-width="1.1" />
<line x1="121.00" y1="658.20" x2="121.00" y2="660.40" stroke="#444" stroke-width="1.1" />
<line x1="144.06" y1="658.20" x2="144.06" y2="659.80" stroke="#444" stroke-width="1.1" />
<line x1="157.55" y1="658.20" x2="157.55" y2="659.80" stroke="#444" stroke-width="1.1" />
<line x1="167.12" y1="658.20" x2="167.12" y2="659.80" stroke="#444" stroke-width="1.1" />
<line x1="174.54" y1="658.20" x2="174.54" y2="659.80" stroke="#444" stroke-width="1.1" />
<line x1="180.61" y1="658.20" x2="180.61" y2="659.80" stroke="#444" stroke-width="1.1" />
<line x1="185.73" y1="658.20" x2="185.73" y2="659.80" stroke="#444" stroke-width="1.1" />
<line x1="190.18" y1="658.20" x2="190.18" y2="659.80" stroke="#444" stroke-width="1.1" />
<line x1="194.09" y1="658.20" x2="194.09" y2="659.80" stroke="#444" stroke-width="1.1" />
<line x1="197.60" y1="658.20" x2="197.60" y2="660.40" stroke="#444" stroke-width="1.1" />
<line x1="220.66" y1="658.20" x2="220.66" y2="659.80" stroke="#444" stroke-width="1.1" />
<line x1="234.15" y1="658.20" x2="234.15" y2="659.80" stroke="#444" stroke-width="1.1" />
<line x1="243.72" y1="658.20" x2="243.72" y2="659.80" stroke="#444" stroke-width="1.1" />
<line x1="251.14" y1="658.20" x2="251.14" y2="659.80" stroke="#444" stroke-width="1.1" />
<line x1="257.21" y1="658.20" x2="257.21" y2="659.80" stroke="#444" stroke-width="1.1" />
<line x1="262.33" y1="658.20" x2="262.33" y2="659.80" stroke="#444" stroke-width="1.1" />
<line x1="266.78" y1="658.20" x2="266.78" y2="659.80" stroke="#444" stroke-width="1.1" />
<line x1="270.69" y1="658.20" x2="270.69" y2="659.80" stroke="#444" stroke-width="1.1" />
<line x1="274.20" y1="658.20" x2="274.20" y2="660.40" stroke="#444" stroke-width="1.1" />
<line x1="297.26" y1="658.20" x2="297.26" y2="659.80" stroke="#444" stroke-width="1.1" />
<line x1="310.75" y1="658.20" x2="310.75" y2="659.80" stroke="#444" stroke-width="1.1" />
<line x1="320.32" y1="658.20" x2="320.32" y2="659.80" stroke="#444" stroke-width="1.1" />
<line x1="327.74" y1="658.20" x2="327.74" y2="659.80" stroke="#444" stroke-width="1.1" />
<line x1="333.81" y1="658.20" x2="333.81" y2="659.80" stroke="#444" stroke-width="1.1" />
<line x1="338.93" y1="658.20" x2="338.93" y2="659.80" stroke="#444" stroke-width="1.1" />
<line x1="343.38" y1="658.20" x2="343.38" y2="659.80" stroke="#444" stroke-width="1.1" />
<line x1="347.29" y1="658.20" x2="347.29" y2="659.80" stroke="#444" stroke-width="1.1" />
<line x1="350.80" y1="658.20" x2="350.80" y2="660.40" stroke="#444" stroke-width="1.1" />
<text x="111.0" y="674.0" font-size="14.2" fill="#333">10<tspan dy="-5.6" font-size="9">0</tspan></text>
<text x="187.2" y="674.0" font-size="14.2" fill="#333">10<tspan dy="-5.6" font-size="9">1</tspan></text>
<text x="265.2" y="674.0" font-size="14.2" fill="#333">10<tspan dy="-5.6" font-size="9">2</tspan></text>
<text x="339.0" y="674.0" font-size="14.2" fill="#333">10<tspan dy="-5.6" font-size="9">3</tspan></text>
<path d="M44.1,650.1 L44.7,650.9 L45.3,650.0 L45.9,649.5 L46.5,648.5 L47.1,649.0 L47.7,650.8 L48.3,650.2 L48.9,650.8 L49.5,649.7 L50.1,649.5 L50.7,649.0 L51.3,646.1 L51.9,648.8 L52.5,648.8 L53.1,648.6 L53.7,645.2 L54.3,644.0 L54.9,644.7 L55.5,645.3 L56.1,646.3 L56.7,645.8 L57.3,646.3 L57.9,644.2 L58.5,644.9 L59.1,644.8 L59.7,642.6 L60.3,645.8 L60.9,644.1 L61.5,644.3 L62.1,640.6 L62.7,638.8 L63.3,638.5 L63.9,638.3 L64.5,639.1 L65.1,637.8 L65.7,635.4 L66.3,632.9 L66.9,632.4 L67.5,635.3 L68.1,630.6 L68.7,630.9 L69.3,630.4 L69.9,624.5 L70.5,625.7 L71.1,628.0 L71.7,618.6 L72.3,619.4 L72.9,618.7 L73.5,615.0 L74.1,616.3 L74.7,613.3 L75.3,606.5 L75.9,610.1 L76.5,608.7 L77.1,607.3 L77.7,606.7 L78.3,600.8 L78.9,596.3 L79.5,587.9 L80.1,590.5 L80.7,584.2 L81.3,580.8 L81.9,574.3 L82.5,571.4 L83.1,569.9 L83.7,574.7 L84.3,559.4 L84.9,555.5 L85.5,559.5 L86.1,563.5 L86.7,558.4 L87.3,543.4 L87.9,534.4 L88.5,543.5 L89.1,538.4 L89.7,533.3 L90.3,540.3 L90.9,541.0 L91.5,534.8 L92.1,532.2 L92.7,531.1 L93.3,535.5 L93.9,530.5 L94.5,527.8 L95.1,526.4 L95.7,517.0 L96.3,525.8 L96.9,526.6 L97.5,524.4 L98.1,519.2 L98.7,516.9 L99.3,523.7 L99.9,517.9 L100.5,519.6 L101.1,528.7 L101.7,520.4 L102.3,534.9 L102.9,534.9 L103.5,533.3 L104.1,537.4 L104.7,542.4 L105.3,543.5 L105.9,551.2 L106.5,547.3 L107.1,550.3 L107.7,560.5 L108.3,561.5 L108.9,560.8 L109.5,571.4 L110.1,579.2 L110.7,576.3 L111.3,575.0 L111.9,582.6 L112.5,587.4 L113.1,591.0 L113.7,600.8 L114.3,597.6 L114.9,607.2 L115.5,604.0 L116.1,607.4 L116.7,614.9 L117.3,620.5 L117.9,623.3 L118.5,624.7 L119.1,626.5 L119.7,628.9 L120.3,632.3 L120.9,633.1 L121.5,635.8 L122.1,638.6 L122.7,639.5 L123.3,642.5 L123.9,644.0 L124.5,647.8 L125.1,647.0 L125.7,646.5 L126.3,647.4 L126.9,648.9 L127.5,651.2 L128.1,650.8 L128.7,652.2 L129.3,654.5 L129.9,651.1 L130.5,652.2 L131.1,654.1 L131.7,655.0 L132.3,655.4 L132.9,655.3 L133.5,656.3 L134.1,656.5 L134.7,656.2 L135.3,658.0 L135.9,657.4 L136.5,656.9 L137.1,657.2 L137.7,657.3 L138.3,657.4 L138.9,656.6 L139.5,657.3 L140.1,658.0 L140.7,657.6 L141.3,657.8 L141.9,658.1 L142.5,658.2 L143.1,658.2 L143.7,657.8 L144.3,658.0 L144.9,658.0 L145.5,658.2 L146.1,658.2 L146.7,657.9 L147.3,658.2 L147.9,658.0 L148.5,658.2 L149.1,658.1 L149.7,658.2 L150.3,658.2 L150.9,658.2 L151.5,658.2 L152.1,658.2 L152.7,658.2 L153.3,658.2 L153.9,658.2 L154.5,658.2 L155.1,658.2 L155.7,658.2 L156.3,658.2 L156.9,658.2 L157.5,658.2 L158.1,658.2 L158.7,658.2 L159.3,658.2 L159.9,658.2 L160.5,658.2 L161.1,658.2 L161.7,658.2 L162.3,658.2 L162.9,658.2 L163.5,658.2 L164.1,658.2 L164.7,658.2 L165.3,658.2 L165.9,658.2 L166.5,658.2 L167.1,658.2 L167.7,658.2 L168.3,658.2 L168.9,658.2 L169.5,658.2 L170.1,658.2 L170.7,658.2 L171.3,658.2 L171.9,658.2 L172.5,658.2 L173.1,658.2 L173.7,658.2 L174.3,658.2 L174.9,658.2 L175.5,658.2 L176.1,658.2 L176.7,658.2 L177.3,658.2 L177.9,658.2 L178.5,658.2 L179.1,658.2 L179.7,658.2 L180.3,658.2 L180.9,658.2 L181.5,658.2 L182.1,658.2 L182.7,658.2 L183.3,658.2 L183.9,658.2 L184.5,658.2 L185.1,658.2 L185.7,658.2 L186.3,658.2 L186.9,658.2 L187.5,658.2 L188.1,658.2 L188.7,658.2 L189.3,658.2 L189.9,658.2 L190.5,658.2 L191.1,658.2 L191.7,658.2 L192.3,658.2 L192.9,658.2 L193.5,658.2 L194.1,658.2 L194.7,658.2 L195.3,658.2 L195.9,658.2 L196.5,658.2 L197.1,658.2 L197.7,658.2 L198.3,658.2 L198.9,658.2 L199.5,658.2 L200.1,658.2 L200.7,658.2 L201.3,658.2 L201.9,658.2 L202.5,658.2 L203.1,658.2 L203.7,658.2 L204.3,658.2 L204.9,658.2 L205.5,658.2 L206.1,658.2 L206.7,658.2 L207.3,658.2 L207.9,658.2 L208.5,658.2 L209.1,658.2 L209.7,658.2 L210.3,658.2 L210.9,658.2 L211.5,658.2 L212.1,658.2 L212.7,658.2 L213.3,658.2 L213.9,658.2 L214.5,658.2 L215.1,658.2 L215.7,658.2 L216.3,658.2 L216.9,658.2 L217.5,658.2 L218.1,658.2 L218.7,658.2 L219.3,658.2 L219.9,658.2 L220.5,658.2 L221.1,658.2 L221.7,658.2 L222.3,658.2 L222.9,658.2 L223.5,658.2 L224.1,658.2 L224.7,658.2 L225.3,658.2 L225.9,658.2 L226.5,658.2 L227.1,658.2 L227.7,658.2 L228.3,658.2 L228.9,658.2 L229.5,658.2 L230.1,658.2 L230.7,658.2 L231.3,658.2 L231.9,658.2 L232.5,658.2 L233.1,658.2 L233.7,658.2 L234.3,658.2 L234.9,658.2 L235.5,658.2 L236.1,658.2 L236.7,658.2 L237.3,658.2 L237.9,658.2 L238.5,658.2 L239.1,658.2 L239.7,658.2 L240.3,658.2 L240.9,658.2 L241.5,658.2 L242.1,658.2 L242.7,658.2 L243.3,658.2 L243.9,658.2 L244.5,658.2 L245.1,658.2 L245.7,658.2 L246.3,658.2 L246.9,658.2 L247.5,658.2 L248.1,658.2 L248.7,658.2 L249.3,658.2 L249.9,658.2 L250.5,658.2 L251.1,658.2 L251.7,658.2 L252.3,658.2 L252.9,658.2 L253.5,658.2 L254.1,658.2 L254.7,658.2 L255.3,658.2 L255.9,658.2 L256.5,658.2 L257.1,658.2 L257.7,658.2 L258.3,658.2 L258.9,658.2 L259.5,658.2 L260.1,658.2 L260.7,658.2 L261.3,658.2 L261.9,658.2 L262.5,658.2 L263.1,658.2 L263.7,658.2 L264.3,658.2 L264.9,658.2 L265.5,658.2 L266.1,658.2 L266.7,658.2 L267.3,658.2 L267.9,658.2 L268.5,658.2 L269.1,658.2 L269.7,658.2 L270.3,658.2 L270.9,658.2 L271.5,658.2 L272.1,658.2 L272.7,658.2 L273.3,658.2 L273.9,658.2 L274.5,658.2 L275.1,658.2 L275.7,658.2 L276.3,658.2 L276.9,658.2 L277.5,658.2 L278.1,658.2 L278.7,658.2 L279.3,658.2 L279.9,658.2 L280.5,658.2 L281.1,658.2 L281.7,658.2 L282.3,658.2 L282.9,658.2 L283.5,658.2 L284.1,658.2 L284.7,658.2 L285.3,658.2 L285.9,658.2 L286.5,658.2 L287.1,658.2 L287.7,658.2 L288.3,658.2 L288.9,658.2 L289.5,658.2 L290.1,658.2 L290.7,658.2 L291.3,658.2 L291.9,658.2 L292.5,658.2 L293.1,658.2 L293.7,658.2 L294.3,658.2 L294.9,658.2 L295.5,658.2 L296.1,658.2 L296.7,658.2 L297.3,658.2 L297.9,658.2 L298.5,658.2 L299.1,658.2 L299.7,658.2 L300.3,658.2 L300.9,658.2 L301.5,658.2 L302.1,658.2 L302.7,658.2 L303.3,658.2 L303.9,658.2 L304.5,658.2 L305.1,658.2 L305.7,658.2 L306.3,658.2 L306.9,658.2 L307.5,658.2 L308.1,658.2 L308.7,658.2 L309.3,658.2 L309.9,658.2 L310.5,658.2 L311.1,658.2 L311.7,658.2 L312.3,658.2 L312.9,658.2 L313.5,658.2 L314.1,658.2 L314.7,658.2 L315.3,658.2 L315.9,658.2 L316.5,658.2 L317.1,658.2 L317.7,658.2 L318.3,658.2 L318.9,658.2 L319.5,658.2 L320.1,658.2 L320.7,658.2 L321.3,658.2 L321.9,658.2 L322.5,658.2 L323.1,658.2 L323.7,658.2 L324.3,658.2 L324.9,658.2 L325.5,658.2 L326.1,658.2 L326.7,658.2 L327.3,658.2 L327.9,658.2 L328.5,658.2 L329.1,658.2 L329.7,658.2 L330.3,658.2 L330.9,658.2 L331.5,658.2 L332.1,658.2 L332.7,658.2 L333.3,658.2 L333.9,658.2 L334.5,658.2 L335.1,658.2 L335.7,658.2 L336.3,658.2 L336.9,658.2 L337.5,658.2 L338.1,658.2 L338.7,658.2 L339.3,658.2 L339.9,658.2 L340.5,658.2 L341.1,658.2 L341.7,658.2 L342.3,658.2 L342.9,658.2 L343.5,658.2 L344.1,658.2 L344.7,658.2 L345.3,658.2 L345.9,658.2 L346.5,658.2 L347.1,658.2 L347.7,658.2 L348.3,658.2 L348.9,658.2 L349.5,658.2 L350.1,658.2 L350.7,658.2 L351.3,658.2 L351.9,658.2 L352.5,658.2 L353.1,658.2 L353.7,658.2" fill="none" stroke="#a0a0a0" stroke-width="2.0" stroke-linejoin="round"/>
<line x1="44.6" y1="645" x2="44.6" y2="658.2" stroke="#e82222" stroke-width="2.2"/>
<path d="M44.1,658.2 L44.7,658.2 L45.3,658.2 L45.9,658.2 L46.5,658.2 L47.1,658.2 L47.7,658.2 L48.3,658.1 L48.9,657.9 L49.5,657.8 L50.1,657.6 L50.7,657.9 L51.3,658.0 L51.9,658.2 L52.5,658.1 L53.1,657.9 L53.7,658.0 L54.3,657.7 L54.9,657.0 L55.5,657.8 L56.1,657.4 L56.7,657.5 L57.3,657.2 L57.9,658.2 L58.5,658.0 L59.1,657.5 L59.7,656.5 L60.3,657.2 L60.9,656.3 L61.5,657.2 L62.1,655.7 L62.7,656.1 L63.3,656.7 L63.9,655.6 L64.5,655.8 L65.1,655.8 L65.7,656.2 L66.3,655.1 L66.9,655.6 L67.5,656.7 L68.1,653.8 L68.7,653.4 L69.3,654.3 L69.9,653.3 L70.5,652.1 L71.1,654.4 L71.7,654.3 L72.3,654.2 L72.9,653.9 L73.5,653.2 L74.1,650.9 L74.7,648.2 L75.3,650.6 L75.9,648.9 L76.5,649.6 L77.1,649.8 L77.7,647.1 L78.3,647.3 L78.9,649.9 L79.5,648.7 L80.1,644.1 L80.7,644.5 L81.3,644.4 L81.9,644.6 L82.5,644.3 L83.1,642.0 L83.7,640.2 L84.3,641.0 L84.9,635.7 L85.5,638.6 L86.1,636.6 L86.7,633.0 L87.3,630.7 L87.9,630.7 L88.5,625.1 L89.1,619.8 L89.7,623.9 L90.3,626.2 L90.9,620.6 L91.5,617.9 L92.1,615.1 L92.7,609.4 L93.3,610.1 L93.9,609.4 L94.5,604.4 L95.1,603.7 L95.7,594.4 L96.3,594.0 L96.9,587.6 L97.5,584.2 L98.1,583.6 L98.7,580.2 L99.3,579.4 L99.9,575.7 L100.5,564.0 L101.1,569.0 L101.7,554.7 L102.3,554.9 L102.9,554.0 L103.5,549.2 L104.1,548.1 L104.7,542.9 L105.3,534.2 L105.9,538.4 L106.5,532.9 L107.1,525.0 L107.7,525.9 L108.3,523.8 L108.9,523.5 L109.5,517.1 L110.1,518.1 L110.7,515.3 L111.3,523.1 L111.9,513.8 L112.5,519.7 L113.1,513.6 L113.7,518.4 L114.3,526.1 L114.9,513.8 L115.5,514.2 L116.1,509.5 L116.7,510.5 L117.3,512.8 L117.9,518.4 L118.5,525.9 L119.1,529.5 L119.7,525.4 L120.3,530.0 L120.9,525.6 L121.5,537.2 L122.1,538.9 L122.7,538.2 L123.3,542.7 L123.9,552.9 L124.5,556.4 L125.1,562.8 L125.7,562.8 L126.3,568.6 L126.9,571.6 L127.5,570.4 L128.1,578.7 L128.7,584.0 L129.3,586.4 L129.9,595.3 L130.5,605.1 L131.1,607.7 L131.7,606.5 L132.3,605.1 L132.9,610.4 L133.5,612.9 L134.1,618.1 L134.7,624.4 L135.3,624.7 L135.9,623.5 L136.5,631.8 L137.1,632.5 L137.7,637.2 L138.3,635.2 L138.9,642.9 L139.5,638.9 L140.1,641.7 L140.7,644.7 L141.3,641.0 L141.9,644.0 L142.5,644.5 L143.1,650.2 L143.7,650.9 L144.3,649.7 L144.9,649.1 L145.5,649.7 L146.1,652.4 L146.7,652.6 L147.3,654.1 L147.9,654.1 L148.5,653.5 L149.1,656.4 L149.7,656.3 L150.3,655.8 L150.9,656.1 L151.5,657.3 L152.1,657.4 L152.7,656.5 L153.3,657.7 L153.9,657.2 L154.5,657.6 L155.1,657.2 L155.7,657.3 L156.3,657.9 L156.9,657.5 L157.5,657.8 L158.1,658.0 L158.7,657.8 L159.3,658.2 L159.9,658.2 L160.5,658.1 L161.1,658.2 L161.7,658.2 L162.3,658.2 L162.9,658.2 L163.5,658.2 L164.1,658.2 L164.7,658.1 L165.3,658.1 L165.9,658.2 L166.5,658.2 L167.1,658.2 L167.7,658.2 L168.3,658.2 L168.9,658.2 L169.5,658.2 L170.1,658.2 L170.7,658.2 L171.3,658.2 L171.9,658.2 L172.5,658.2 L173.1,658.2 L173.7,658.2 L174.3,658.2 L174.9,658.2 L175.5,658.2 L176.1,658.2 L176.7,658.2 L177.3,658.2 L177.9,658.2 L178.5,658.2 L179.1,658.2 L179.7,658.2 L180.3,658.2 L180.9,658.2 L181.5,658.2 L182.1,658.2 L182.7,658.2 L183.3,658.2 L183.9,658.2 L184.5,658.2 L185.1,658.2 L185.7,658.2 L186.3,658.2 L186.9,658.2 L187.5,658.2 L188.1,658.2 L188.7,658.2 L189.3,658.2 L189.9,658.2 L190.5,658.2 L191.1,658.2 L191.7,658.2 L192.3,658.2 L192.9,658.2 L193.5,658.2 L194.1,658.2 L194.7,658.2 L195.3,658.2 L195.9,658.2 L196.5,658.2 L197.1,658.2 L197.7,658.2 L198.3,658.2 L198.9,658.2 L199.5,658.2 L200.1,658.2 L200.7,658.2 L201.3,658.2 L201.9,658.2 L202.5,658.2 L203.1,658.2 L203.7,658.2 L204.3,658.2 L204.9,658.2 L205.5,658.2 L206.1,658.2 L206.7,658.2 L207.3,658.2 L207.9,658.2 L208.5,658.2 L209.1,658.2 L209.7,658.2 L210.3,658.2 L210.9,658.2 L211.5,658.2 L212.1,658.2 L212.7,658.2 L213.3,658.2 L213.9,658.2 L214.5,658.2 L215.1,658.2 L215.7,658.2 L216.3,658.2 L216.9,658.2 L217.5,658.2 L218.1,658.2 L218.7,658.2 L219.3,658.2 L219.9,658.2 L220.5,658.2 L221.1,658.2 L221.7,658.2 L222.3,658.2 L222.9,658.2 L223.5,658.2 L224.1,658.2 L224.7,658.2 L225.3,658.2 L225.9,658.2 L226.5,658.2 L227.1,658.2 L227.7,658.2 L228.3,658.2 L228.9,658.2 L229.5,658.2 L230.1,658.2 L230.7,658.2 L231.3,658.2 L231.9,658.2 L232.5,658.2 L233.1,658.2 L233.7,658.2 L234.3,658.2 L234.9,658.2 L235.5,658.2 L236.1,658.2 L236.7,658.2 L237.3,658.2 L237.9,658.2 L238.5,658.2 L239.1,658.2 L239.7,658.2 L240.3,658.2 L240.9,658.2 L241.5,658.2 L242.1,658.2 L242.7,658.2 L243.3,658.2 L243.9,658.2 L244.5,658.2 L245.1,658.2 L245.7,658.2 L246.3,658.2 L246.9,658.2 L247.5,658.2 L248.1,658.2 L248.7,658.2 L249.3,658.2 L249.9,658.2 L250.5,658.2 L251.1,658.2 L251.7,658.2 L252.3,658.2 L252.9,658.2 L253.5,658.2 L254.1,658.2 L254.7,658.2 L255.3,658.2 L255.9,658.2 L256.5,658.2 L257.1,658.2 L257.7,658.2 L258.3,658.2 L258.9,658.2 L259.5,658.2 L260.1,658.2 L260.7,658.2 L261.3,658.2 L261.9,658.2 L262.5,658.2 L263.1,658.2 L263.7,658.2 L264.3,658.2 L264.9,658.2 L265.5,658.2 L266.1,658.2 L266.7,658.2 L267.3,658.2 L267.9,658.2 L268.5,658.2 L269.1,658.2 L269.7,658.2 L270.3,658.2 L270.9,658.2 L271.5,658.2 L272.1,658.2 L272.7,658.2 L273.3,658.2 L273.9,658.2 L274.5,658.2 L275.1,658.2 L275.7,658.2 L276.3,658.2 L276.9,658.2 L277.5,658.2 L278.1,658.2 L278.7,658.2 L279.3,658.2 L279.9,658.2 L280.5,658.2 L281.1,658.2 L281.7,658.2 L282.3,658.2 L282.9,658.2 L283.5,658.2 L284.1,658.2 L284.7,658.2 L285.3,658.2 L285.9,658.2 L286.5,658.2 L287.1,658.2 L287.7,658.2 L288.3,658.2 L288.9,658.2 L289.5,658.2 L290.1,658.2 L290.7,658.2 L291.3,658.2 L291.9,658.2 L292.5,658.2 L293.1,658.2 L293.7,658.2 L294.3,658.2 L294.9,658.2 L295.5,658.2 L296.1,658.2 L296.7,658.2 L297.3,658.2 L297.9,658.2 L298.5,658.2 L299.1,658.2 L299.7,658.2 L300.3,658.2 L300.9,658.2 L301.5,658.2 L302.1,658.2 L302.7,658.2 L303.3,658.2 L303.9,658.2 L304.5,658.2 L305.1,658.2 L305.7,658.2 L306.3,658.2 L306.9,658.2 L307.5,658.2 L308.1,658.2 L308.7,658.2 L309.3,658.2 L309.9,658.2 L310.5,658.2 L311.1,658.2 L311.7,658.2 L312.3,658.2 L312.9,658.2 L313.5,658.2 L314.1,658.2 L314.7,658.2 L315.3,658.2 L315.9,658.2 L316.5,658.2 L317.1,658.2 L317.7,658.2 L318.3,658.2 L318.9,658.2 L319.5,658.2 L320.1,658.2 L320.7,658.2 L321.3,658.2 L321.9,658.2 L322.5,658.2 L323.1,658.2 L323.7,658.2 L324.3,658.2 L324.9,658.2 L325.5,658.2 L326.1,658.2 L326.7,658.2 L327.3,658.2 L327.9,658.2 L328.5,658.2 L329.1,658.2 L329.7,658.2 L330.3,658.2 L330.9,658.2 L331.5,658.2 L332.1,658.2 L332.7,658.2 L333.3,658.2 L333.9,658.2 L334.5,658.2 L335.1,658.2 L335.7,658.2 L336.3,658.2 L336.9,658.2 L337.5,658.2 L338.1,658.2 L338.7,658.2 L339.3,658.2 L339.9,658.2 L340.5,658.2 L341.1,658.2 L341.7,658.2 L342.3,658.2 L342.9,658.2 L343.5,658.2 L344.1,658.2 L344.7,658.2 L345.3,658.2 L345.9,658.2 L346.5,658.2 L347.1,658.2 L347.7,658.2 L348.3,658.2 L348.9,658.2 L349.5,658.2 L350.1,658.2 L350.7,658.2 L351.3,658.2 L351.9,658.2 L352.5,658.2 L353.1,658.2 L353.7,658.2" fill="none" stroke="#e82222" stroke-width="2.2" stroke-linejoin="round"/>
<line x1="353.50" y1="641.00" x2="353.50" y2="658.20" stroke="#e82222" stroke-width="2" />
<path d="M44.1,658.2 L44.7,658.2 L45.3,658.2 L45.9,658.2 L46.5,658.2 L47.1,658.2 L47.7,658.2 L48.3,658.2 L48.9,658.2 L49.5,658.2 L50.1,658.2 L50.7,658.2 L51.3,658.2 L51.9,658.2 L52.5,658.2 L53.1,658.2 L53.7,658.2 L54.3,658.2 L54.9,658.2 L55.5,658.2 L56.1,658.2 L56.7,658.2 L57.3,658.2 L57.9,658.2 L58.5,658.2 L59.1,658.2 L59.7,658.2 L60.3,658.2 L60.9,658.2 L61.5,658.2 L62.1,658.2 L62.7,658.2 L63.3,658.2 L63.9,658.2 L64.5,658.2 L65.1,658.2 L65.7,658.2 L66.3,658.2 L66.9,658.2 L67.5,658.2 L68.1,658.2 L68.7,658.2 L69.3,658.2 L69.9,658.2 L70.5,658.2 L71.1,658.2 L71.7,658.2 L72.3,658.2 L72.9,658.2 L73.5,658.2 L74.1,658.2 L74.7,658.2 L75.3,658.2 L75.9,658.2 L76.5,658.1 L77.1,658.1 L77.7,658.1 L78.3,658.2 L78.9,658.1 L79.5,658.1 L80.1,658.1 L80.7,658.0 L81.3,657.8 L81.9,657.7 L82.5,658.2 L83.1,658.1 L83.7,657.9 L84.3,657.8 L84.9,657.7 L85.5,658.2 L86.1,658.0 L86.7,657.6 L87.3,657.1 L87.9,656.0 L88.5,656.7 L89.1,657.3 L89.7,657.1 L90.3,656.4 L90.9,655.3 L91.5,654.3 L92.1,654.5 L92.7,653.7 L93.3,652.3 L93.9,654.0 L94.5,651.2 L95.1,650.1 L95.7,646.7 L96.3,650.1 L96.9,647.5 L97.5,645.8 L98.1,644.7 L98.7,641.3 L99.3,639.2 L99.9,638.8 L100.5,634.7 L101.1,634.2 L101.7,634.0 L102.3,630.9 L102.9,629.5 L103.5,626.0 L104.1,624.5 L104.7,617.6 L105.3,613.6 L105.9,605.1 L106.5,602.7 L107.1,597.2 L107.7,594.6 L108.3,587.3 L108.9,586.8 L109.5,591.6 L110.1,576.9 L110.7,574.9 L111.3,571.1 L111.9,561.2 L112.5,557.1 L113.1,551.6 L113.7,551.0 L114.3,542.9 L114.9,552.3 L115.5,543.8 L116.1,540.2 L116.7,541.4 L117.3,535.5 L117.9,524.4 L118.5,521.7 L119.1,517.4 L119.7,515.6 L120.3,517.1 L120.9,500.9 L121.5,501.7 L122.1,502.1 L122.7,506.6 L123.3,502.1 L123.9,502.1 L124.5,508.6 L125.1,507.8 L125.7,503.5 L126.3,501.3 L126.9,503.0 L127.5,504.1 L128.1,505.1 L128.7,500.6 L129.3,508.1 L129.9,506.9 L130.5,508.4 L131.1,504.0 L131.7,517.8 L132.3,515.3 L132.9,522.5 L133.5,526.8 L134.1,527.0 L134.7,532.7 L135.3,536.6 L135.9,541.0 L136.5,547.7 L137.1,549.5 L137.7,559.3 L138.3,563.2 L138.9,562.9 L139.5,573.0 L140.1,576.2 L140.7,584.0 L141.3,579.8 L141.9,591.8 L142.5,589.8 L143.1,598.7 L143.7,615.3 L144.3,614.8 L144.9,618.7 L145.5,617.8 L146.1,619.3 L146.7,624.8 L147.3,629.7 L147.9,632.0 L148.5,633.4 L149.1,635.3 L149.7,638.5 L150.3,644.3 L150.9,644.4 L151.5,645.2 L152.1,646.7 L152.7,647.2 L153.3,647.9 L153.9,650.7 L154.5,653.3 L155.1,653.6 L155.7,652.5 L156.3,655.2 L156.9,655.2 L157.5,656.7 L158.1,655.9 L158.7,655.2 L159.3,656.2 L159.9,656.4 L160.5,656.2 L161.1,656.4 L161.7,656.7 L162.3,656.7 L162.9,657.4 L163.5,657.4 L164.1,657.2 L164.7,657.2 L165.3,657.7 L165.9,657.6 L166.5,657.0 L167.1,657.4 L167.7,658.1 L168.3,657.7 L168.9,657.2 L169.5,657.9 L170.1,658.2 L170.7,657.7 L171.3,656.6 L171.9,656.6 L172.5,657.9 L173.1,657.4 L173.7,657.6 L174.3,657.6 L174.9,657.4 L175.5,658.0 L176.1,657.5 L176.7,657.5 L177.3,657.4 L177.9,657.3 L178.5,658.2 L179.1,656.9 L179.7,656.5 L180.3,657.4 L180.9,656.6 L181.5,657.0 L182.1,656.5 L182.7,657.3 L183.3,657.1 L183.9,657.3 L184.5,656.7 L185.1,656.8 L185.7,655.8 L186.3,657.0 L186.9,657.1 L187.5,656.9 L188.1,656.9 L188.7,656.6 L189.3,656.7 L189.9,657.7 L190.5,656.7 L191.1,656.5 L191.7,657.1 L192.3,656.9 L192.9,656.5 L193.5,657.5 L194.1,657.8 L194.7,656.8 L195.3,657.7 L195.9,656.2 L196.5,657.4 L197.1,656.0 L197.7,656.7 L198.3,656.6 L198.9,656.5 L199.5,657.0 L200.1,656.2 L200.7,656.2 L201.3,656.0 L201.9,657.3 L202.5,656.5 L203.1,656.8 L203.7,656.6 L204.3,657.2 L204.9,656.3 L205.5,656.1 L206.1,656.2 L206.7,656.7 L207.3,656.3 L207.9,656.9 L208.5,657.0 L209.1,657.4 L209.7,657.2 L210.3,657.6 L210.9,656.8 L211.5,656.5 L212.1,656.4 L212.7,656.3 L213.3,656.0 L213.9,656.8 L214.5,656.9 L215.1,655.8 L215.7,656.5 L216.3,656.4 L216.9,656.3 L217.5,656.6 L218.1,657.4 L218.7,657.1 L219.3,656.0 L219.9,656.8 L220.5,656.5 L221.1,657.6 L221.7,656.9 L222.3,656.9 L222.9,656.9 L223.5,656.6 L224.1,656.7 L224.7,656.9 L225.3,658.0 L225.9,657.4 L226.5,657.4 L227.1,657.2 L227.7,657.2 L228.3,657.3 L228.9,657.8 L229.5,656.0 L230.1,656.6 L230.7,656.7 L231.3,657.5 L231.9,656.9 L232.5,657.6 L233.1,657.8 L233.7,657.2 L234.3,657.5 L234.9,657.2 L235.5,657.6 L236.1,657.6 L236.7,657.9 L237.3,657.8 L237.9,657.1 L238.5,657.9 L239.1,657.6 L239.7,657.9 L240.3,657.6 L240.9,657.9 L241.5,657.2 L242.1,657.9 L242.7,657.3 L243.3,657.4 L243.9,657.7 L244.5,657.1 L245.1,657.6 L245.7,657.6 L246.3,657.9 L246.9,657.7 L247.5,657.3 L248.1,657.2 L248.7,657.3 L249.3,657.6 L249.9,657.6 L250.5,657.9 L251.1,658.2 L251.7,657.8 L252.3,657.6 L252.9,657.8 L253.5,657.9 L254.1,657.2 L254.7,657.5 L255.3,657.8 L255.9,658.0 L256.5,657.7 L257.1,657.6 L257.7,658.2 L258.3,657.2 L258.9,658.1 L259.5,657.8 L260.1,657.8 L260.7,657.9 L261.3,658.0 L261.9,657.7 L262.5,657.6 L263.1,657.9 L263.7,658.2 L264.3,657.9 L264.9,658.2 L265.5,657.8 L266.1,658.1 L266.7,658.1 L267.3,658.2 L267.9,657.8 L268.5,658.1 L269.1,658.0 L269.7,657.6 L270.3,657.8 L270.9,657.7 L271.5,657.9 L272.1,658.1 L272.7,658.0 L273.3,658.2 L273.9,658.2 L274.5,658.0 L275.1,658.0 L275.7,658.1 L276.3,658.0 L276.9,658.1 L277.5,658.2 L278.1,658.2 L278.7,658.2 L279.3,658.1 L279.9,658.0 L280.5,658.1 L281.1,658.1 L281.7,658.1 L282.3,658.2 L282.9,658.1 L283.5,658.1 L284.1,658.0 L284.7,658.0 L285.3,657.9 L285.9,658.0 L286.5,658.2 L287.1,657.9 L287.7,658.1 L288.3,658.2 L288.9,658.2 L289.5,658.2 L290.1,658.1 L290.7,658.2 L291.3,658.2 L291.9,658.2 L292.5,658.2 L293.1,658.1 L293.7,658.2 L294.3,658.2 L294.9,658.2 L295.5,658.2 L296.1,658.2 L296.7,658.2 L297.3,658.2 L297.9,658.2 L298.5,658.2 L299.1,658.2 L299.7,658.1 L300.3,658.2 L300.9,658.2 L301.5,658.2 L302.1,658.2 L302.7,658.2 L303.3,658.2 L303.9,658.2 L304.5,658.2 L305.1,658.2 L305.7,658.2 L306.3,658.2 L306.9,658.2 L307.5,658.2 L308.1,658.2 L308.7,658.2 L309.3,658.2 L309.9,658.2 L310.5,658.2 L311.1,658.2 L311.7,658.2 L312.3,658.2 L312.9,658.2 L313.5,658.2 L314.1,658.1 L314.7,658.2 L315.3,658.2 L315.9,658.2 L316.5,658.2 L317.1,658.1 L317.7,658.2 L318.3,658.2 L318.9,658.2 L319.5,658.2 L320.1,658.2 L320.7,658.2 L321.3,658.2 L321.9,658.2 L322.5,658.2 L323.1,658.2 L323.7,658.2 L324.3,658.2 L324.9,658.2 L325.5,658.2 L326.1,658.2 L326.7,658.2 L327.3,658.2 L327.9,658.2 L328.5,658.2 L329.1,658.2 L329.7,658.2 L330.3,658.2 L330.9,658.2 L331.5,658.2 L332.1,658.2 L332.7,658.2 L333.3,658.2 L333.9,658.2 L334.5,658.2 L335.1,658.2 L335.7,658.2 L336.3,658.2 L336.9,658.2 L337.5,658.2 L338.1,658.2 L338.7,658.2 L339.3,658.2 L339.9,658.2 L340.5,658.2 L341.1,658.2 L341.7,658.2 L342.3,658.2 L342.9,658.2 L343.5,658.2 L344.1,658.2 L344.7,658.2 L345.3,658.2 L345.9,658.2 L346.5,658.2 L347.1,658.2 L347.7,658.2 L348.3,658.2 L348.9,658.2 L349.5,658.2 L350.1,658.2 L350.7,658.2 L351.3,658.2 L351.9,658.2 L352.5,658.2 L353.1,658.2 L353.7,658.2" fill="none" stroke="#22dd22" stroke-width="2" stroke-linejoin="round"/>
<text x="341.5" y="513.4" font-size="17.6" font-weight="bold" text-anchor="end" fill="#000" letter-spacing="0.3">LDL Intake</text>
<text x="291.1" y="546.0" font-size="17.5" font-weight="normal" text-anchor="middle" fill="#000" letter-spacing="0.3">OCI-AML3</text>
<path d="M274.7,566.9 H238.7 V652.9 H274.7" fill="none" stroke="#ccc" stroke-width="1.2"/>
<rect x="241.50" y="569.50" width="28.30" height="24.50" fill="#fff" stroke="#22dd22" stroke-width="2" />
<text x="275.6" y="589.3" font-size="17.5" font-weight="normal" text-anchor="start" fill="#000" letter-spacing="0.3">DCA</text>
<rect x="241.50" y="598.00" width="28.30" height="23.30" fill="#fff" stroke="#e82222" stroke-width="2" />
<text x="275.6" y="616.7" font-size="17.5" font-weight="normal" text-anchor="start" fill="#000" letter-spacing="0.3">Cont</text>
<rect x="241.50" y="625.30" width="28.30" height="24.50" fill="#fff" stroke="#a0a0a0" stroke-width="2" />
<text x="275.6" y="646.3" font-size="17.5" font-weight="normal" text-anchor="start" fill="#000" letter-spacing="0.3">Unstained</text>
<line x1="369.50" y1="494.50" x2="667.10" y2="494.50" stroke="#777" stroke-width="1.4" />
<line x1="667.10" y1="494.50" x2="667.10" y2="659.20" stroke="#666" stroke-width="1.6" />
<line x1="369.50" y1="494.50" x2="369.50" y2="659.20" stroke="#555" stroke-width="1.6" />
<line x1="369.50" y1="659.20" x2="667.10" y2="659.20" stroke="#bbb" stroke-width="1.2" />
<line x1="367.30" y1="646.80" x2="369.50" y2="646.80" stroke="#444" stroke-width="1.2" />
<line x1="367.30" y1="634.40" x2="369.50" y2="634.40" stroke="#444" stroke-width="1.2" />
<line x1="367.30" y1="622.00" x2="369.50" y2="622.00" stroke="#444" stroke-width="1.2" />
<line x1="367.30" y1="609.60" x2="369.50" y2="609.60" stroke="#444" stroke-width="1.2" />
<line x1="367.30" y1="597.20" x2="369.50" y2="597.20" stroke="#444" stroke-width="1.2" />
<line x1="367.30" y1="584.80" x2="369.50" y2="584.80" stroke="#444" stroke-width="1.2" />
<line x1="367.30" y1="572.40" x2="369.50" y2="572.40" stroke="#444" stroke-width="1.2" />
<line x1="367.30" y1="560.00" x2="369.50" y2="560.00" stroke="#444" stroke-width="1.2" />
<line x1="367.30" y1="547.60" x2="369.50" y2="547.60" stroke="#444" stroke-width="1.2" />
<line x1="367.30" y1="535.20" x2="369.50" y2="535.20" stroke="#444" stroke-width="1.2" />
<line x1="367.30" y1="522.80" x2="369.50" y2="522.80" stroke="#444" stroke-width="1.2" />
<line x1="367.30" y1="510.40" x2="369.50" y2="510.40" stroke="#444" stroke-width="1.2" />
<line x1="367.30" y1="498.00" x2="369.50" y2="498.00" stroke="#444" stroke-width="1.2" />
<line x1="391.23" y1="659.20" x2="391.23" y2="660.80" stroke="#444" stroke-width="1.1" />
<line x1="404.52" y1="659.20" x2="404.52" y2="660.80" stroke="#444" stroke-width="1.1" />
<line x1="413.96" y1="659.20" x2="413.96" y2="660.80" stroke="#444" stroke-width="1.1" />
<line x1="421.27" y1="659.20" x2="421.27" y2="660.80" stroke="#444" stroke-width="1.1" />
<line x1="427.25" y1="659.20" x2="427.25" y2="660.80" stroke="#444" stroke-width="1.1" />
<line x1="432.30" y1="659.20" x2="432.30" y2="660.80" stroke="#444" stroke-width="1.1" />
<line x1="436.68" y1="659.20" x2="436.68" y2="660.80" stroke="#444" stroke-width="1.1" />
<line x1="440.55" y1="659.20" x2="440.55" y2="660.80" stroke="#444" stroke-width="1.1" />
<line x1="444.00" y1="659.20" x2="444.00" y2="661.40" stroke="#444" stroke-width="1.1" />
<line x1="466.73" y1="659.20" x2="466.73" y2="660.80" stroke="#444" stroke-width="1.1" />
<line x1="480.02" y1="659.20" x2="480.02" y2="660.80" stroke="#444" stroke-width="1.1" />
<line x1="489.46" y1="659.20" x2="489.46" y2="660.80" stroke="#444" stroke-width="1.1" />
<line x1="496.77" y1="659.20" x2="496.77" y2="660.80" stroke="#444" stroke-width="1.1" />
<line x1="502.75" y1="659.20" x2="502.75" y2="660.80" stroke="#444" stroke-width="1.1" />
<line x1="507.80" y1="659.20" x2="507.80" y2="660.80" stroke="#444" stroke-width="1.1" />
<line x1="512.18" y1="659.20" x2="512.18" y2="660.80" stroke="#444" stroke-width="1.1" />
<line x1="516.05" y1="659.20" x2="516.05" y2="660.80" stroke="#444" stroke-width="1.1" />
<line x1="519.50" y1="659.20" x2="519.50" y2="661.40" stroke="#444" stroke-width="1.1" />
<line x1="542.23" y1="659.20" x2="542.23" y2="660.80" stroke="#444" stroke-width="1.1" />
<line x1="555.52" y1="659.20" x2="555.52" y2="660.80" stroke="#444" stroke-width="1.1" />
<line x1="564.96" y1="659.20" x2="564.96" y2="660.80" stroke="#444" stroke-width="1.1" />
<line x1="572.27" y1="659.20" x2="572.27" y2="660.80" stroke="#444" stroke-width="1.1" />
<line x1="578.25" y1="659.20" x2="578.25" y2="660.80" stroke="#444" stroke-width="1.1" />
<line x1="583.30" y1="659.20" x2="583.30" y2="660.80" stroke="#444" stroke-width="1.1" />
<line x1="587.68" y1="659.20" x2="587.68" y2="660.80" stroke="#444" stroke-width="1.1" />
<line x1="591.55" y1="659.20" x2="591.55" y2="660.80" stroke="#444" stroke-width="1.1" />
<line x1="595.00" y1="659.20" x2="595.00" y2="661.40" stroke="#444" stroke-width="1.1" />
<line x1="617.73" y1="659.20" x2="617.73" y2="660.80" stroke="#444" stroke-width="1.1" />
<line x1="631.02" y1="659.20" x2="631.02" y2="660.80" stroke="#444" stroke-width="1.1" />
<line x1="640.46" y1="659.20" x2="640.46" y2="660.80" stroke="#444" stroke-width="1.1" />
<line x1="647.77" y1="659.20" x2="647.77" y2="660.80" stroke="#444" stroke-width="1.1" />
<line x1="653.75" y1="659.20" x2="653.75" y2="660.80" stroke="#444" stroke-width="1.1" />
<line x1="658.80" y1="659.20" x2="658.80" y2="660.80" stroke="#444" stroke-width="1.1" />
<line x1="663.18" y1="659.20" x2="663.18" y2="660.80" stroke="#444" stroke-width="1.1" />
<text x="436.8" y="674.0" font-size="14.2" fill="#333">10<tspan dy="-5.6" font-size="9">0</tspan></text>
<text x="511.8" y="674.0" font-size="14.2" fill="#333">10<tspan dy="-5.6" font-size="9">1</tspan></text>
<text x="586.8" y="674.0" font-size="14.2" fill="#333">10<tspan dy="-5.6" font-size="9">2</tspan></text>
<text x="661.2" y="674.0" font-size="14.2" fill="#333">10<tspan dy="-5.6" font-size="9">3</tspan></text>
<path d="M369.5,658.5 L370.1,658.5 L370.7,658.4 L371.3,658.4 L371.9,658.8 L372.5,657.8 L373.1,658.1 L373.7,658.0 L374.3,657.7 L374.9,657.9 L375.5,657.9 L376.1,659.2 L376.7,658.3 L377.3,657.7 L377.9,658.0 L378.5,656.5 L379.1,656.3 L379.7,657.0 L380.3,656.1 L380.9,655.1 L381.5,655.0 L382.1,653.9 L382.7,656.0 L383.3,656.5 L383.9,658.0 L384.5,654.5 L385.1,653.3 L385.7,652.7 L386.3,653.1 L386.9,652.1 L387.5,652.6 L388.1,650.5 L388.7,647.5 L389.3,651.4 L389.9,648.1 L390.5,649.7 L391.1,646.7 L391.7,646.2 L392.3,641.6 L392.9,641.1 L393.5,643.1 L394.1,643.3 L394.7,640.6 L395.3,640.0 L395.9,633.9 L396.5,636.2 L397.1,633.9 L397.7,631.3 L398.3,633.5 L398.9,630.7 L399.5,627.6 L400.1,627.1 L400.7,625.9 L401.3,624.8 L401.9,624.5 L402.5,621.6 L403.1,624.2 L403.7,626.0 L404.3,623.5 L404.9,616.9 L405.5,613.0 L406.1,614.6 L406.7,611.6 L407.3,615.8 L407.9,611.4 L408.5,610.1 L409.1,604.6 L409.7,605.2 L410.3,599.2 L410.9,595.1 L411.5,600.1 L412.1,595.0 L412.7,595.0 L413.3,600.6 L413.9,604.4 L414.5,598.1 L415.1,593.8 L415.7,597.5 L416.3,598.8 L416.9,596.9 L417.5,589.9 L418.1,589.5 L418.7,596.1 L419.3,588.1 L419.9,591.3 L420.5,597.4 L421.1,598.1 L421.7,591.1 L422.3,591.2 L422.9,592.0 L423.5,588.7 L424.1,593.7 L424.7,591.5 L425.3,598.0 L425.9,593.2 L426.5,594.7 L427.1,596.2 L427.7,600.2 L428.3,591.9 L428.9,604.9 L429.5,604.5 L430.1,607.0 L430.7,613.1 L431.3,611.1 L431.9,613.3 L432.5,614.0 L433.1,618.0 L433.7,619.7 L434.3,622.9 L434.9,620.8 L435.5,618.2 L436.1,623.2 L436.7,621.3 L437.3,625.5 L437.9,626.8 L438.5,623.0 L439.1,628.6 L439.7,629.2 L440.3,629.8 L440.9,629.8 L441.5,636.7 L442.1,639.8 L442.7,637.3 L443.3,637.9 L443.9,639.5 L444.5,640.3 L445.1,644.8 L445.7,643.5 L446.3,647.7 L446.9,643.2 L447.5,643.9 L448.1,649.4 L448.7,649.3 L449.3,647.2 L449.9,653.7 L450.5,653.5 L451.1,653.4 L451.7,649.9 L452.3,653.9 L452.9,654.1 L453.5,654.3 L454.1,654.4 L454.7,653.3 L455.3,654.0 L455.9,656.0 L456.5,657.2 L457.1,657.4 L457.7,657.4 L458.3,657.4 L458.9,657.8 L459.5,659.1 L460.1,658.2 L460.7,657.0 L461.3,658.1 L461.9,658.0 L462.5,657.7 L463.1,657.6 L463.7,658.6 L464.3,658.3 L464.9,658.5 L465.5,658.3 L466.1,659.1 L466.7,658.8 L467.3,658.7 L467.9,658.4 L468.5,658.5 L469.1,659.1 L469.7,658.8 L470.3,659.2 L470.9,659.2 L471.5,659.2 L472.1,659.2 L472.7,659.1 L473.3,659.2 L473.9,659.2 L474.5,659.0 L475.1,659.1 L475.7,659.2 L476.3,659.1 L476.9,659.1 L477.5,659.2 L478.1,659.2 L478.7,659.1 L479.3,659.2 L479.9,659.1 L480.5,659.2 L481.1,659.1 L481.7,659.2 L482.3,659.2 L482.9,659.1 L483.5,659.2 L484.1,659.2 L484.7,659.2 L485.3,659.1 L485.9,659.2 L486.5,659.2 L487.1,659.2 L487.7,659.2 L488.3,659.2 L488.9,659.2 L489.5,659.2 L490.1,659.2 L490.7,659.2 L491.3,659.2 L491.9,659.2 L492.5,659.2 L493.1,659.2 L493.7,659.2 L494.3,659.2 L494.9,659.2 L495.5,659.2 L496.1,659.2 L496.7,659.2 L497.3,659.2 L497.9,659.2 L498.5,659.2 L499.1,659.2 L499.7,659.2 L500.3,659.2 L500.9,659.2 L501.5,659.2 L502.1,659.2 L502.7,659.2 L503.3,659.2 L503.9,659.2 L504.5,659.2 L505.1,659.2 L505.7,659.2 L506.3,659.2 L506.9,659.2 L507.5,659.2 L508.1,659.2 L508.7,659.2 L509.3,659.2 L509.9,659.2 L510.5,659.2 L511.1,659.2 L511.7,659.2 L512.3,659.2 L512.9,659.2 L513.5,659.2 L514.1,659.2 L514.7,659.2 L515.3,659.2 L515.9,659.2 L516.5,659.2 L517.1,659.2 L517.7,659.2 L518.3,659.2 L518.9,659.2 L519.5,659.2 L520.1,659.2 L520.7,659.2 L521.3,659.2 L521.9,659.2 L522.5,659.2 L523.1,659.2 L523.7,659.2 L524.3,659.2 L524.9,659.2 L525.5,659.2 L526.1,659.2 L526.7,659.2 L527.3,659.2 L527.9,659.2 L528.5,659.2 L529.1,659.2 L529.7,659.2 L530.3,659.2 L530.9,659.2 L531.5,659.2 L532.1,659.2 L532.7,659.2 L533.3,659.2 L533.9,659.2 L534.5,659.2 L535.1,659.2 L535.7,659.2 L536.3,659.2 L536.9,659.2 L537.5,659.2 L538.1,659.2 L538.7,659.2 L539.3,659.2 L539.9,659.2 L540.5,659.2 L541.1,659.2 L541.7,659.2 L542.3,659.2 L542.9,659.2 L543.5,659.2 L544.1,659.2 L544.7,659.2 L545.3,659.2 L545.9,659.2 L546.5,659.2 L547.1,659.2 L547.7,659.2 L548.3,659.2 L548.9,659.2 L549.5,659.2 L550.1,659.2 L550.7,659.2 L551.3,659.2 L551.9,659.2 L552.5,659.2 L553.1,659.2 L553.7,659.2 L554.3,659.2 L554.9,659.2 L555.5,659.2 L556.1,659.2 L556.7,659.2 L557.3,659.2 L557.9,659.2 L558.5,659.2 L559.1,659.2 L559.7,659.2 L560.3,659.2 L560.9,659.2 L561.5,659.2 L562.1,659.2 L562.7,659.2 L563.3,659.2 L563.9,659.2 L564.5,659.2 L565.1,659.2 L565.7,659.2 L566.3,659.2 L566.9,659.2 L567.5,659.2 L568.1,659.2 L568.7,659.2 L569.3,659.2 L569.9,659.2 L570.5,659.2 L571.1,659.2 L571.7,659.2 L572.3,659.2 L572.9,659.2 L573.5,659.2 L574.1,659.2 L574.7,659.2 L575.3,659.2 L575.9,659.2 L576.5,659.2 L577.1,659.2 L577.7,659.2 L578.3,659.2 L578.9,659.2 L579.5,659.2 L580.1,659.2 L580.7,659.2 L581.3,659.2 L581.9,659.2 L582.5,659.2 L583.1,659.2 L583.7,659.2 L584.3,659.2 L584.9,659.2 L585.5,659.2 L586.1,659.2 L586.7,659.2 L587.3,659.2 L587.9,659.2 L588.5,659.2 L589.1,659.2 L589.7,659.2 L590.3,659.2 L590.9,659.2 L591.5,659.2 L592.1,659.2 L592.7,659.2 L593.3,659.2 L593.9,659.2 L594.5,659.2 L595.1,659.2 L595.7,659.2 L596.3,659.2 L596.9,659.2 L597.5,659.2 L598.1,659.2 L598.7,659.2 L599.3,659.2 L599.9,659.2 L600.5,659.2 L601.1,659.2 L601.7,659.2 L602.3,659.2 L602.9,659.2 L603.5,659.2 L604.1,659.2 L604.7,659.2 L605.3,659.2 L605.9,659.2 L606.5,659.2 L607.1,659.2 L607.7,659.2 L608.3,659.2 L608.9,659.2 L609.5,659.2 L610.1,659.2 L610.7,659.2 L611.3,659.2 L611.9,659.2 L612.5,659.2 L613.1,659.2 L613.7,659.2 L614.3,659.2 L614.9,659.2 L615.5,659.2 L616.1,659.2 L616.7,659.2 L617.3,659.2 L617.9,659.2 L618.5,659.2 L619.1,659.2 L619.7,659.2 L620.3,659.2 L620.9,659.2 L621.5,659.2 L622.1,659.2 L622.7,659.2 L623.3,659.2 L623.9,659.2 L624.5,659.2 L625.1,659.2 L625.7,659.2 L626.3,659.2 L626.9,659.2 L627.5,659.2 L628.1,659.2 L628.7,659.2 L629.3,659.2 L629.9,659.2 L630.5,659.2 L631.1,659.2 L631.7,659.2 L632.3,659.2 L632.9,659.2 L633.5,659.2 L634.1,659.2 L634.7,659.2 L635.3,659.2 L635.9,659.2 L636.5,659.2 L637.1,659.2 L637.7,659.2 L638.3,659.2 L638.9,659.2 L639.5,659.2 L640.1,659.2 L640.7,659.2 L641.3,659.2 L641.9,659.2 L642.5,659.2 L643.1,659.2 L643.7,659.2 L644.3,659.2 L644.9,659.2 L645.5,659.2 L646.1,659.2 L646.7,659.2 L647.3,659.2 L647.9,659.2 L648.5,659.2 L649.1,659.2 L649.7,659.2 L650.3,659.2 L650.9,659.2 L651.5,659.2 L652.1,659.2 L652.7,659.2 L653.3,659.2 L653.9,659.2 L654.5,659.2 L655.1,659.2 L655.7,659.2 L656.3,659.2 L656.9,659.2 L657.5,659.2 L658.1,659.2 L658.7,659.2 L659.3,659.2 L659.9,659.2 L660.5,659.2 L661.1,659.2 L661.7,659.2 L662.3,659.2 L662.9,659.2 L663.5,659.2 L664.1,659.2 L664.7,659.2 L665.3,659.2 L665.9,659.2 L666.5,659.2" fill="none" stroke="#a0a0a0" stroke-width="2.0" stroke-linejoin="round"/>
<path d="M369.5,659.2 L370.1,659.2 L370.7,659.2 L371.3,659.2 L371.9,659.2 L372.5,659.2 L373.1,659.2 L373.7,659.2 L374.3,659.2 L374.9,659.2 L375.5,659.2 L376.1,659.2 L376.7,659.2 L377.3,659.2 L377.9,659.2 L378.5,659.2 L379.1,659.2 L379.7,659.2 L380.3,659.2 L380.9,659.2 L381.5,659.2 L382.1,659.2 L382.7,659.2 L383.3,659.2 L383.9,659.2 L384.5,659.2 L385.1,659.2 L385.7,659.2 L386.3,659.2 L386.9,659.2 L387.5,659.2 L388.1,659.2 L388.7,659.2 L389.3,659.2 L389.9,659.2 L390.5,659.2 L391.1,659.2 L391.7,659.2 L392.3,659.2 L392.9,659.2 L393.5,659.2 L394.1,659.2 L394.7,659.2 L395.3,659.2 L395.9,659.2 L396.5,659.2 L397.1,659.2 L397.7,659.2 L398.3,659.2 L398.9,659.2 L399.5,659.2 L400.1,659.2 L400.7,659.2 L401.3,659.2 L401.9,659.2 L402.5,659.2 L403.1,659.2 L403.7,659.2 L404.3,659.2 L404.9,659.2 L405.5,659.2 L406.1,659.2 L406.7,659.2 L407.3,659.2 L407.9,659.2 L408.5,659.2 L409.1,659.2 L409.7,659.2 L410.3,659.2 L410.9,659.1 L411.5,659.0 L412.1,659.0 L412.7,659.1 L413.3,659.2 L413.9,659.2 L414.5,659.2 L415.1,659.2 L415.7,659.1 L416.3,658.9 L416.9,659.0 L417.5,659.2 L418.1,658.6 L418.7,658.3 L419.3,659.0 L419.9,658.5 L420.5,658.5 L421.1,658.3 L421.7,657.2 L422.3,658.5 L422.9,658.3 L423.5,657.1 L424.1,656.9 L424.7,656.0 L425.3,654.7 L425.9,654.5 L426.5,654.3 L427.1,654.4 L427.7,653.5 L428.3,651.9 L428.9,652.1 L429.5,648.9 L430.1,649.1 L430.7,648.5 L431.3,645.3 L431.9,641.0 L432.5,639.8 L433.1,639.9 L433.7,638.8 L434.3,638.7 L434.9,632.1 L435.5,630.4 L436.1,629.2 L436.7,624.9 L437.3,616.4 L437.9,619.2 L438.5,621.1 L439.1,615.7 L439.7,606.3 L440.3,602.4 L440.9,600.1 L441.5,603.3 L442.1,595.3 L442.7,588.5 L443.3,588.2 L443.9,579.4 L444.5,580.6 L445.1,568.6 L445.7,562.9 L446.3,562.7 L446.9,562.2 L447.5,556.0 L448.1,550.1 L448.7,537.1 L449.3,535.5 L449.9,532.9 L450.5,530.1 L451.1,532.0 L451.7,526.6 L452.3,528.4 L452.9,524.2 L453.5,520.1 L454.1,520.2 L454.7,520.9 L455.3,522.6 L455.9,516.9 L456.5,516.8 L457.1,513.6 L457.7,524.6 L458.3,527.8 L458.9,522.2 L459.5,520.5 L460.1,518.0 L460.7,525.0 L461.3,528.5 L461.9,539.5 L462.5,535.8 L463.1,532.6 L463.7,527.0 L464.3,543.8 L464.9,545.3 L465.5,540.9 L466.1,549.5 L466.7,547.2 L467.3,568.9 L467.9,567.9 L468.5,568.2 L469.1,568.3 L469.7,564.1 L470.3,573.0 L470.9,573.1 L471.5,583.1 L472.1,579.4 L472.7,585.2 L473.3,595.9 L473.9,602.3 L474.5,598.1 L475.1,598.6 L475.7,607.8 L476.3,612.3 L476.9,610.9 L477.5,613.5 L478.1,616.3 L478.7,617.8 L479.3,621.4 L479.9,628.3 L480.5,630.5 L481.1,635.5 L481.7,633.9 L482.3,634.9 L482.9,635.1 L483.5,638.0 L484.1,638.0 L484.7,638.5 L485.3,643.5 L485.9,646.8 L486.5,647.7 L487.1,649.3 L487.7,649.1 L488.3,648.6 L488.9,650.2 L489.5,650.7 L490.1,650.6 L490.7,650.7 L491.3,651.4 L491.9,653.4 L492.5,654.5 L493.1,654.6 L493.7,656.4 L494.3,656.2 L494.9,656.7 L495.5,657.4 L496.1,656.6 L496.7,656.0 L497.3,657.5 L497.9,657.3 L498.5,658.3 L499.1,658.2 L499.7,658.6 L500.3,658.6 L500.9,657.7 L501.5,658.6 L502.1,658.4 L502.7,658.4 L503.3,658.5 L503.9,658.9 L504.5,659.1 L505.1,659.2 L505.7,658.7 L506.3,658.8 L506.9,658.6 L507.5,658.9 L508.1,659.1 L508.7,659.0 L509.3,659.1 L509.9,659.1 L510.5,659.2 L511.1,659.1 L511.7,659.1 L512.3,659.1 L512.9,659.2 L513.5,659.2 L514.1,659.2 L514.7,659.2 L515.3,659.2 L515.9,659.2 L516.5,659.2 L517.1,659.2 L517.7,659.1 L518.3,659.2 L518.9,659.2 L519.5,659.2 L520.1,659.2 L520.7,659.2 L521.3,659.2 L521.9,659.2 L522.5,659.2 L523.1,659.2 L523.7,659.2 L524.3,659.2 L524.9,659.2 L525.5,659.2 L526.1,659.2 L526.7,659.2 L527.3,659.2 L527.9,659.2 L528.5,659.2 L529.1,659.2 L529.7,659.2 L530.3,659.2 L530.9,659.2 L531.5,659.2 L532.1,659.2 L532.7,659.2 L533.3,659.2 L533.9,659.2 L534.5,659.2 L535.1,659.2 L535.7,659.2 L536.3,659.2 L536.9,659.2 L537.5,659.2 L538.1,659.2 L538.7,659.2 L539.3,659.2 L539.9,659.2 L540.5,659.2 L541.1,659.2 L541.7,659.2 L542.3,659.2 L542.9,659.2 L543.5,659.2 L544.1,659.2 L544.7,659.2 L545.3,659.2 L545.9,659.2 L546.5,659.2 L547.1,659.2 L547.7,659.2 L548.3,659.2 L548.9,659.2 L549.5,659.2 L550.1,659.2 L550.7,659.2 L551.3,659.2 L551.9,659.2 L552.5,659.2 L553.1,659.2 L553.7,659.2 L554.3,659.2 L554.9,659.2 L555.5,659.2 L556.1,659.2 L556.7,659.2 L557.3,659.2 L557.9,659.2 L558.5,659.2 L559.1,659.2 L559.7,659.2 L560.3,659.2 L560.9,659.2 L561.5,659.2 L562.1,659.2 L562.7,659.2 L563.3,659.2 L563.9,659.2 L564.5,659.2 L565.1,659.2 L565.7,659.2 L566.3,659.2 L566.9,659.2 L567.5,659.2 L568.1,659.2 L568.7,659.2 L569.3,659.2 L569.9,659.2 L570.5,659.2 L571.1,659.2 L571.7,659.2 L572.3,659.2 L572.9,659.2 L573.5,659.2 L574.1,659.2 L574.7,659.2 L575.3,659.2 L575.9,659.2 L576.5,659.2 L577.1,659.2 L577.7,659.2 L578.3,659.2 L578.9,659.2 L579.5,659.2 L580.1,659.2 L580.7,659.2 L581.3,659.2 L581.9,659.2 L582.5,659.2 L583.1,659.2 L583.7,659.2 L584.3,659.2 L584.9,659.2 L585.5,659.2 L586.1,659.2 L586.7,659.2 L587.3,659.2 L587.9,659.2 L588.5,659.2 L589.1,659.2 L589.7,659.2 L590.3,659.2 L590.9,659.2 L591.5,659.2 L592.1,659.2 L592.7,659.2 L593.3,659.2 L593.9,659.2 L594.5,659.2 L595.1,659.2 L595.7,659.2 L596.3,659.2 L596.9,659.2 L597.5,659.2 L598.1,659.2 L598.7,659.2 L599.3,659.2 L599.9,659.2 L600.5,659.2 L601.1,659.2 L601.7,659.2 L602.3,659.2 L602.9,659.2 L603.5,659.2 L604.1,659.2 L604.7,659.2 L605.3,659.2 L605.9,659.2 L606.5,659.2 L607.1,659.2 L607.7,659.2 L608.3,659.2 L608.9,659.2 L609.5,659.2 L610.1,659.2 L610.7,659.2 L611.3,659.2 L611.9,659.2 L612.5,659.2 L613.1,659.2 L613.7,659.2 L614.3,659.2 L614.9,659.2 L615.5,659.2 L616.1,659.2 L616.7,659.2 L617.3,659.2 L617.9,659.2 L618.5,659.2 L619.1,659.2 L619.7,659.2 L620.3,659.2 L620.9,659.2 L621.5,659.2 L622.1,659.2 L622.7,659.2 L623.3,659.2 L623.9,659.2 L624.5,659.2 L625.1,659.2 L625.7,659.2 L626.3,659.2 L626.9,659.2 L627.5,659.2 L628.1,659.2 L628.7,659.2 L629.3,659.2 L629.9,659.2 L630.5,659.2 L631.1,659.2 L631.7,659.2 L632.3,659.2 L632.9,659.2 L633.5,659.2 L634.1,659.2 L634.7,659.2 L635.3,659.2 L635.9,659.2 L636.5,659.2 L637.1,659.2 L637.7,659.2 L638.3,659.2 L638.9,659.2 L639.5,659.2 L640.1,659.2 L640.7,659.2 L641.3,659.2 L641.9,659.2 L642.5,659.2 L643.1,659.2 L643.7,659.2 L644.3,659.2 L644.9,659.2 L645.5,659.2 L646.1,659.2 L646.7,659.2 L647.3,659.2 L647.9,659.2 L648.5,659.2 L649.1,659.2 L649.7,659.2 L650.3,659.2 L650.9,659.2 L651.5,659.2 L652.1,659.2 L652.7,659.2 L653.3,659.2 L653.9,659.2 L654.5,659.2 L655.1,659.2 L655.7,659.2 L656.3,659.2 L656.9,659.2 L657.5,659.2 L658.1,659.2 L658.7,659.2 L659.3,659.2 L659.9,659.2 L660.5,659.2 L661.1,659.2 L661.7,659.2 L662.3,659.2 L662.9,659.2 L663.5,659.2 L664.1,659.2 L664.7,659.2 L665.3,659.2 L665.9,659.2 L666.5,659.2" fill="none" stroke="#e82222" stroke-width="2.2" stroke-linejoin="round"/>
<path d="M369.5,659.2 L370.1,659.2 L370.7,659.2 L371.3,659.2 L371.9,659.2 L372.5,659.2 L373.1,659.2 L373.7,659.2 L374.3,659.2 L374.9,659.2 L375.5,659.2 L376.1,659.2 L376.7,659.2 L377.3,659.2 L377.9,659.2 L378.5,659.2 L379.1,659.2 L379.7,659.2 L380.3,659.2 L380.9,659.2 L381.5,659.2 L382.1,659.2 L382.7,659.2 L383.3,659.2 L383.9,659.2 L384.5,659.2 L385.1,659.2 L385.7,659.2 L386.3,659.2 L386.9,659.2 L387.5,659.2 L388.1,659.2 L388.7,659.2 L389.3,659.2 L389.9,659.2 L390.5,659.2 L391.1,659.2 L391.7,659.2 L392.3,659.2 L392.9,659.2 L393.5,659.2 L394.1,659.2 L394.7,659.2 L395.3,659.2 L395.9,659.2 L396.5,659.2 L397.1,659.2 L397.7,659.2 L398.3,659.2 L398.9,659.2 L399.5,659.2 L400.1,659.2 L400.7,659.2 L401.3,659.2 L401.9,659.2 L402.5,659.2 L403.1,659.2 L403.7,659.2 L404.3,659.2 L404.9,659.2 L405.5,659.2 L406.1,659.2 L406.7,659.2 L407.3,659.2 L407.9,659.2 L408.5,659.2 L409.1,659.2 L409.7,659.2 L410.3,659.2 L410.9,659.2 L411.5,659.2 L412.1,659.2 L412.7,659.2 L413.3,659.2 L413.9,659.2 L414.5,659.2 L415.1,659.2 L415.7,659.2 L416.3,659.2 L416.9,659.2 L417.5,659.2 L418.1,659.2 L418.7,659.2 L419.3,659.2 L419.9,659.2 L420.5,659.2 L421.1,659.2 L421.7,659.2 L422.3,659.2 L422.9,659.2 L423.5,659.2 L424.1,659.2 L424.7,659.2 L425.3,659.2 L425.9,659.2 L426.5,659.2 L427.1,659.2 L427.7,659.2 L428.3,659.2 L428.9,659.2 L429.5,659.2 L430.1,659.2 L430.7,659.2 L431.3,659.2 L431.9,659.2 L432.5,659.2 L433.1,659.2 L433.7,659.2 L434.3,659.2 L434.9,659.2 L435.5,659.2 L436.1,659.2 L436.7,659.2 L437.3,659.2 L437.9,659.2 L438.5,659.2 L439.1,659.2 L439.7,659.2 L440.3,659.1 L440.9,659.1 L441.5,659.1 L442.1,659.1 L442.7,659.1 L443.3,659.2 L443.9,659.0 L444.5,658.7 L445.1,659.1 L445.7,659.2 L446.3,658.6 L446.9,658.6 L447.5,657.5 L448.1,658.3 L448.7,657.2 L449.3,656.9 L449.9,658.0 L450.5,655.7 L451.1,655.3 L451.7,653.6 L452.3,651.5 L452.9,650.4 L453.5,650.4 L454.1,647.0 L454.7,645.2 L455.3,644.6 L455.9,640.9 L456.5,635.4 L457.1,636.1 L457.7,630.5 L458.3,628.3 L458.9,618.4 L459.5,618.1 L460.1,605.8 L460.7,596.5 L461.3,592.5 L461.9,586.2 L462.5,580.9 L463.1,571.1 L463.7,567.0 L464.3,562.9 L464.9,548.8 L465.5,536.8 L466.1,532.4 L466.7,531.6 L467.3,527.1 L467.9,517.2 L468.5,508.6 L469.1,508.2 L469.7,510.8 L470.3,502.7 L470.9,509.6 L471.5,506.9 L472.1,507.5 L472.7,505.1 L473.3,515.6 L473.9,515.0 L474.5,511.3 L475.1,524.0 L475.7,525.9 L476.3,536.8 L476.9,540.4 L477.5,543.0 L478.1,551.7 L478.7,556.5 L479.3,561.6 L479.9,571.0 L480.5,581.0 L481.1,585.9 L481.7,591.4 L482.3,596.0 L482.9,604.7 L483.5,610.1 L484.1,617.0 L484.7,620.8 L485.3,628.9 L485.9,626.1 L486.5,631.3 L487.1,636.2 L487.7,640.3 L488.3,639.4 L488.9,641.7 L489.5,645.5 L490.1,649.3 L490.7,651.4 L491.3,650.1 L491.9,652.4 L492.5,654.7 L493.1,654.9 L493.7,654.8 L494.3,655.5 L494.9,655.8 L495.5,657.6 L496.1,657.6 L496.7,657.7 L497.3,657.8 L497.9,658.2 L498.5,658.3 L499.1,658.4 L499.7,658.7 L500.3,658.8 L500.9,659.0 L501.5,659.1 L502.1,659.2 L502.7,659.1 L503.3,659.2 L503.9,659.2 L504.5,659.1 L505.1,659.2 L505.7,659.2 L506.3,659.1 L506.9,659.2 L507.5,659.2 L508.1,659.2 L508.7,659.2 L509.3,659.2 L509.9,659.2 L510.5,659.2 L511.1,659.2 L511.7,659.2 L512.3,659.2 L512.9,659.2 L513.5,659.2 L514.1,659.2 L514.7,659.2 L515.3,659.2 L515.9,659.2 L516.5,659.2 L517.1,659.2 L517.7,659.2 L518.3,659.2 L518.9,659.2 L519.5,659.2 L520.1,659.2 L520.7,659.2 L521.3,659.2 L521.9,659.2 L522.5,659.2 L523.1,659.2 L523.7,659.2 L524.3,659.2 L524.9,659.2 L525.5,659.2 L526.1,659.2 L526.7,659.2 L527.3,659.2 L527.9,659.2 L528.5,659.2 L529.1,659.2 L529.7,659.2 L530.3,659.2 L530.9,659.2 L531.5,659.2 L532.1,659.2 L532.7,659.2 L533.3,659.2 L533.9,659.2 L534.5,659.2 L535.1,659.2 L535.7,659.2 L536.3,659.2 L536.9,659.2 L537.5,659.2 L538.1,659.2 L538.7,659.2 L539.3,659.2 L539.9,659.2 L540.5,659.2 L541.1,659.2 L541.7,659.2 L542.3,659.2 L542.9,659.2 L543.5,659.2 L544.1,659.2 L544.7,659.2 L545.3,659.2 L545.9,659.2 L546.5,659.2 L547.1,659.2 L547.7,659.2 L548.3,659.2 L548.9,659.2 L549.5,659.2 L550.1,659.2 L550.7,659.2 L551.3,659.2 L551.9,659.2 L552.5,659.2 L553.1,659.2 L553.7,659.2 L554.3,659.2 L554.9,659.2 L555.5,659.2 L556.1,659.2 L556.7,659.2 L557.3,659.2 L557.9,659.2 L558.5,659.2 L559.1,659.2 L559.7,659.2 L560.3,659.2 L560.9,659.2 L561.5,659.2 L562.1,659.2 L562.7,659.2 L563.3,659.2 L563.9,659.2 L564.5,659.2 L565.1,659.2 L565.7,659.2 L566.3,659.2 L566.9,659.2 L567.5,659.2 L568.1,659.2 L568.7,659.2 L569.3,659.2 L569.9,659.2 L570.5,659.2 L571.1,659.2 L571.7,659.2 L572.3,659.2 L572.9,659.2 L573.5,659.2 L574.1,659.2 L574.7,659.2 L575.3,659.2 L575.9,659.2 L576.5,659.2 L577.1,659.2 L577.7,659.2 L578.3,659.2 L578.9,659.2 L579.5,659.2 L580.1,659.2 L580.7,659.2 L581.3,659.2 L581.9,659.2 L582.5,659.2 L583.1,659.2 L583.7,659.2 L584.3,659.2 L584.9,659.2 L585.5,659.2 L586.1,659.2 L586.7,659.2 L587.3,659.2 L587.9,659.2 L588.5,659.2 L589.1,659.2 L589.7,659.2 L590.3,659.2 L590.9,659.2 L591.5,659.2 L592.1,659.2 L592.7,659.2 L593.3,659.2 L593.9,659.2 L594.5,659.2 L595.1,659.2 L595.7,659.2 L596.3,659.2 L596.9,659.2 L597.5,659.2 L598.1,659.2 L598.7,659.2 L599.3,659.2 L599.9,659.2 L600.5,659.2 L601.1,659.2 L601.7,659.2 L602.3,659.2 L602.9,659.2 L603.5,659.2 L604.1,659.2 L604.7,659.2 L605.3,659.2 L605.9,659.2 L606.5,659.2 L607.1,659.2 L607.7,659.2 L608.3,659.2 L608.9,659.2 L609.5,659.2 L610.1,659.2 L610.7,659.2 L611.3,659.2 L611.9,659.2 L612.5,659.2 L613.1,659.2 L613.7,659.2 L614.3,659.2 L614.9,659.2 L615.5,659.2 L616.1,659.2 L616.7,659.2 L617.3,659.2 L617.9,659.2 L618.5,659.2 L619.1,659.2 L619.7,659.2 L620.3,659.2 L620.9,659.2 L621.5,659.2 L622.1,659.2 L622.7,659.2 L623.3,659.2 L623.9,659.2 L624.5,659.2 L625.1,659.2 L625.7,659.2 L626.3,659.2 L626.9,659.2 L627.5,659.2 L628.1,659.2 L628.7,659.2 L629.3,659.2 L629.9,659.2 L630.5,659.2 L631.1,659.2 L631.7,659.2 L632.3,659.2 L632.9,659.2 L633.5,659.2 L634.1,659.2 L634.7,659.2 L635.3,659.2 L635.9,659.2 L636.5,659.2 L637.1,659.2 L637.7,659.2 L638.3,659.2 L638.9,659.2 L639.5,659.2 L640.1,659.2 L640.7,659.2 L641.3,659.2 L641.9,659.2 L642.5,659.2 L643.1,659.2 L643.7,659.2 L644.3,659.2 L644.9,659.2 L645.5,659.2 L646.1,659.2 L646.7,659.2 L647.3,659.2 L647.9,659.2 L648.5,659.2 L649.1,659.2 L649.7,659.2 L650.3,659.2 L650.9,659.2 L651.5,659.2 L652.1,659.2 L652.7,659.2 L653.3,659.2 L653.9,659.2 L654.5,659.2 L655.1,659.2 L655.7,659.2 L656.3,659.2 L656.9,659.2 L657.5,659.2 L658.1,659.2 L658.7,659.2 L659.3,659.2 L659.9,659.2 L660.5,659.2 L661.1,659.2 L661.7,659.2 L662.3,659.2 L662.9,659.2 L663.5,659.2 L664.1,659.2 L664.7,659.2 L665.3,659.2 L665.9,659.2 L666.5,659.2" fill="none" stroke="#22dd22" stroke-width="2.2" stroke-linejoin="round"/>
<text x="597.3" y="546.0" font-size="18.8" font-weight="normal" text-anchor="start" fill="#000" >Huh7</text>
<line x1="196.70" y1="691.10" x2="280.70" y2="691.10" stroke="#555" stroke-width="2" />
<text x="295.2" y="693.8" font-size="14.5" font-weight="bold" text-anchor="start" fill="#000" >Fluorescence Intensity</text>
<line x1="455.60" y1="691.10" x2="531.90" y2="691.10" stroke="#333" stroke-width="2" />
<path d="M518.9,683.6 L532.9,691.1 L518.9,698.6" fill="none" stroke="#000" stroke-width="3.4"/>
<text x="4.5" y="723.1" font-size="25" font-weight="normal" text-anchor="start" fill="#000" >D</text>
<line x1="25.80" y1="739.20" x2="25.80" y2="770.00" stroke="#333" stroke-width="2" />
<path d="M18.3,751.2 L25.8,740.2 L33.3,751.2" fill="none" stroke="#000" stroke-width="3.6" stroke-linejoin="miter"/>
<text x="0" y="0" font-size="18" font-weight="bold" text-anchor="middle" transform="translate(29.9,812.7) rotate(-90)">Count</text>
<line x1="25.80" y1="851.20" x2="25.80" y2="872.70" stroke="#222" stroke-width="2" />
<line x1="42.90" y1="707.60" x2="355.10" y2="707.60" stroke="#777" stroke-width="1.4" />
<line x1="355.10" y1="707.60" x2="355.10" y2="883.10" stroke="#777" stroke-width="1.6" />
<line x1="42.90" y1="707.60" x2="42.90" y2="883.10" stroke="#444" stroke-width="1.6" />
<line x1="42.90" y1="883.10" x2="355.10" y2="883.10" stroke="#bbb" stroke-width="1.2" />
<line x1="40.70" y1="870.30" x2="42.90" y2="870.30" stroke="#444" stroke-width="1.2" />
<line x1="40.70" y1="857.50" x2="42.90" y2="857.50" stroke="#444" stroke-width="1.2" />
<line x1="40.70" y1="844.70" x2="42.90" y2="844.70" stroke="#444" stroke-width="1.2" />
<line x1="40.70" y1="831.90" x2="42.90" y2="831.90" stroke="#444" stroke-width="1.2" />
<line x1="40.70" y1="819.10" x2="42.90" y2="819.10" stroke="#444" stroke-width="1.2" />
<line x1="40.70" y1="806.30" x2="42.90" y2="806.30" stroke="#444" stroke-width="1.2" />
<line x1="40.70" y1="793.50" x2="42.90" y2="793.50" stroke="#444" stroke-width="1.2" />
<line x1="40.70" y1="780.70" x2="42.90" y2="780.70" stroke="#444" stroke-width="1.2" />
<line x1="40.70" y1="767.90" x2="42.90" y2="767.90" stroke="#444" stroke-width="1.2" />
<line x1="40.70" y1="755.10" x2="42.90" y2="755.10" stroke="#444" stroke-width="1.2" />
<line x1="40.70" y1="742.30" x2="42.90" y2="742.30" stroke="#444" stroke-width="1.2" />
<line x1="40.70" y1="729.50" x2="42.90" y2="729.50" stroke="#444" stroke-width="1.2" />
<line x1="40.70" y1="716.70" x2="42.90" y2="716.70" stroke="#444" stroke-width="1.2" />
<line x1="65.88" y1="883.10" x2="65.88" y2="884.70" stroke="#444" stroke-width="1.1" />
<line x1="79.62" y1="883.10" x2="79.62" y2="884.70" stroke="#444" stroke-width="1.1" />
<line x1="89.36" y1="883.10" x2="89.36" y2="884.70" stroke="#444" stroke-width="1.1" />
<line x1="96.92" y1="883.10" x2="96.92" y2="884.70" stroke="#444" stroke-width="1.1" />
<line x1="103.10" y1="883.10" x2="103.10" y2="884.70" stroke="#444" stroke-width="1.1" />
<line x1="108.32" y1="883.10" x2="108.32" y2="884.70" stroke="#444" stroke-width="1.1" />
<line x1="112.84" y1="883.10" x2="112.84" y2="884.70" stroke="#444" stroke-width="1.1" />
<line x1="116.83" y1="883.10" x2="116.83" y2="884.70" stroke="#444" stroke-width="1.1" />
<line x1="120.40" y1="883.10" x2="120.40" y2="885.30" stroke="#444" stroke-width="1.1" />
<line x1="143.88" y1="883.10" x2="143.88" y2="884.70" stroke="#444" stroke-width="1.1" />
<line x1="157.62" y1="883.10" x2="157.62" y2="884.70" stroke="#444" stroke-width="1.1" />
<line x1="167.36" y1="883.10" x2="167.36" y2="884.70" stroke="#444" stroke-width="1.1" />
<line x1="174.92" y1="883.10" x2="174.92" y2="884.70" stroke="#444" stroke-width="1.1" />
<line x1="181.10" y1="883.10" x2="181.10" y2="884.70" stroke="#444" stroke-width="1.1" />
<line x1="186.32" y1="883.10" x2="186.32" y2="884.70" stroke="#444" stroke-width="1.1" />
<line x1="190.84" y1="883.10" x2="190.84" y2="884.70" stroke="#444" stroke-width="1.1" />
<line x1="194.83" y1="883.10" x2="194.83" y2="884.70" stroke="#444" stroke-width="1.1" />
<line x1="198.40" y1="883.10" x2="198.40" y2="885.30" stroke="#444" stroke-width="1.1" />
<line x1="221.88" y1="883.10" x2="221.88" y2="884.70" stroke="#444" stroke-width="1.1" />
<line x1="235.62" y1="883.10" x2="235.62" y2="884.70" stroke="#444" stroke-width="1.1" />
<line x1="245.36" y1="883.10" x2="245.36" y2="884.70" stroke="#444" stroke-width="1.1" />
<line x1="252.92" y1="883.10" x2="252.92" y2="884.70" stroke="#444" stroke-width="1.1" />
<line x1="259.10" y1="883.10" x2="259.10" y2="884.70" stroke="#444" stroke-width="1.1" />
<line x1="264.32" y1="883.10" x2="264.32" y2="884.70" stroke="#444" stroke-width="1.1" />
<line x1="268.84" y1="883.10" x2="268.84" y2="884.70" stroke="#444" stroke-width="1.1" />
<line x1="272.83" y1="883.10" x2="272.83" y2="884.70" stroke="#444" stroke-width="1.1" />
<line x1="276.40" y1="883.10" x2="276.40" y2="885.30" stroke="#444" stroke-width="1.1" />
<line x1="299.88" y1="883.10" x2="299.88" y2="884.70" stroke="#444" stroke-width="1.1" />
<line x1="313.62" y1="883.10" x2="313.62" y2="884.70" stroke="#444" stroke-width="1.1" />
<line x1="323.36" y1="883.10" x2="323.36" y2="884.70" stroke="#444" stroke-width="1.1" />
<line x1="330.92" y1="883.10" x2="330.92" y2="884.70" stroke="#444" stroke-width="1.1" />
<line x1="337.10" y1="883.10" x2="337.10" y2="884.70" stroke="#444" stroke-width="1.1" />
<line x1="342.32" y1="883.10" x2="342.32" y2="884.70" stroke="#444" stroke-width="1.1" />
<line x1="346.84" y1="883.10" x2="346.84" y2="884.70" stroke="#444" stroke-width="1.1" />
<line x1="350.83" y1="883.10" x2="350.83" y2="884.70" stroke="#444" stroke-width="1.1" />
<text x="111.0" y="898.7" font-size="14.2" fill="#333">10<tspan dy="-5.6" font-size="9">0</tspan></text>
<text x="188.6" y="898.7" font-size="14.2" fill="#333">10<tspan dy="-5.6" font-size="9">1</tspan></text>
<text x="268.0" y="898.7" font-size="14.2" fill="#333">10<tspan dy="-5.6" font-size="9">2</tspan></text>
<text x="343.7" y="898.7" font-size="14.2" fill="#333">10<tspan dy="-5.6" font-size="9">3</tspan></text>
<path d="M42.9,882.9 L43.5,883.1 L44.1,882.8 L44.7,882.5 L45.3,882.8 L45.9,882.9 L46.5,882.8 L47.1,882.7 L47.7,882.5 L48.3,882.1 L48.9,881.9 L49.5,881.9 L50.1,881.6 L50.7,881.9 L51.3,881.7 L51.9,880.4 L52.5,880.9 L53.1,880.2 L53.7,880.5 L54.3,880.4 L54.9,879.3 L55.5,876.5 L56.1,877.3 L56.7,874.7 L57.3,876.3 L57.9,873.5 L58.5,872.4 L59.1,873.5 L59.7,868.0 L60.3,867.6 L60.9,864.5 L61.5,862.9 L62.1,860.2 L62.7,860.2 L63.3,856.4 L63.9,854.5 L64.5,852.4 L65.1,844.4 L65.7,846.5 L66.3,840.5 L66.9,832.6 L67.5,829.8 L68.1,829.9 L68.7,826.9 L69.3,817.9 L69.9,814.3 L70.5,810.1 L71.1,807.7 L71.7,799.5 L72.3,797.2 L72.9,786.2 L73.5,780.0 L74.1,779.5 L74.7,775.7 L75.3,768.0 L75.9,764.9 L76.5,758.9 L77.1,756.2 L77.7,753.9 L78.3,747.5 L78.9,744.4 L79.5,735.7 L80.1,730.4 L80.7,718.9 L81.3,726.6 L81.9,725.4 L82.5,726.2 L83.1,718.4 L83.7,717.7 L84.3,718.1 L84.9,719.5 L85.5,725.1 L86.1,731.2 L86.7,723.6 L87.3,732.0 L87.9,742.9 L88.5,736.3 L89.1,748.1 L89.7,757.7 L90.3,765.7 L90.9,759.4 L91.5,764.1 L92.1,775.2 L92.7,786.6 L93.3,785.8 L93.9,792.5 L94.5,798.1 L95.1,811.4 L95.7,814.3 L96.3,822.8 L96.9,829.3 L97.5,836.2 L98.1,839.8 L98.7,844.0 L99.3,850.1 L99.9,853.1 L100.5,853.2 L101.1,857.2 L101.7,863.0 L102.3,865.1 L102.9,866.8 L103.5,869.6 L104.1,875.6 L104.7,874.1 L105.3,875.4 L105.9,876.6 L106.5,877.1 L107.1,879.1 L107.7,879.9 L108.3,880.2 L108.9,879.6 L109.5,881.4 L110.1,881.8 L110.7,881.7 L111.3,880.8 L111.9,881.9 L112.5,881.9 L113.1,882.3 L113.7,882.5 L114.3,882.5 L114.9,883.0 L115.5,882.9 L116.1,883.1 L116.7,882.9 L117.3,883.0 L117.9,883.1 L118.5,883.1 L119.1,883.0 L119.7,883.0 L120.3,883.0 L120.9,883.1 L121.5,883.1 L122.1,883.1 L122.7,883.1 L123.3,883.1 L123.9,883.1 L124.5,883.1 L125.1,883.1 L125.7,883.1 L126.3,883.1 L126.9,883.1 L127.5,883.1 L128.1,883.1 L128.7,883.1 L129.3,883.1 L129.9,883.1 L130.5,883.1 L131.1,883.1 L131.7,883.1 L132.3,883.1 L132.9,883.1 L133.5,883.1 L134.1,883.1 L134.7,883.1 L135.3,883.1 L135.9,883.1 L136.5,883.1 L137.1,883.1 L137.7,883.1 L138.3,883.1 L138.9,883.1 L139.5,883.1 L140.1,883.1 L140.7,883.1 L141.3,883.1 L141.9,883.1 L142.5,883.1 L143.1,883.1 L143.7,883.1 L144.3,883.1 L144.9,883.1 L145.5,883.1 L146.1,883.1 L146.7,883.1 L147.3,883.1 L147.9,883.1 L148.5,883.1 L149.1,883.1 L149.7,883.1 L150.3,883.1 L150.9,883.1 L151.5,883.1 L152.1,883.1 L152.7,883.1 L153.3,883.1 L153.9,883.1 L154.5,883.1 L155.1,883.1 L155.7,883.1 L156.3,883.1 L156.9,883.1 L157.5,883.1 L158.1,883.1 L158.7,883.1 L159.3,883.1 L159.9,883.1 L160.5,883.1 L161.1,883.1 L161.7,883.1 L162.3,883.1 L162.9,883.1 L163.5,883.1 L164.1,883.1 L164.7,883.1 L165.3,883.1 L165.9,883.1 L166.5,883.1 L167.1,883.1 L167.7,883.1 L168.3,883.1 L168.9,883.1 L169.5,883.1 L170.1,883.1 L170.7,883.1 L171.3,883.1 L171.9,883.1 L172.5,883.1 L173.1,883.1 L173.7,883.1 L174.3,883.1 L174.9,883.1 L175.5,883.1 L176.1,883.1 L176.7,883.1 L177.3,883.1 L177.9,883.1 L178.5,883.1 L179.1,883.1 L179.7,883.1 L180.3,883.1 L180.9,883.1 L181.5,883.1 L182.1,883.1 L182.7,883.1 L183.3,883.1 L183.9,883.1 L184.5,883.1 L185.1,883.1 L185.7,883.1 L186.3,883.1 L186.9,883.1 L187.5,883.1 L188.1,883.1 L188.7,883.1 L189.3,883.1 L189.9,883.1 L190.5,883.1 L191.1,883.1 L191.7,883.1 L192.3,883.1 L192.9,883.1 L193.5,883.1 L194.1,883.1 L194.7,883.1 L195.3,883.1 L195.9,883.1 L196.5,883.1 L197.1,883.1 L197.7,883.1 L198.3,883.1 L198.9,883.1 L199.5,883.1 L200.1,883.1 L200.7,883.1 L201.3,883.1 L201.9,883.1 L202.5,883.1 L203.1,883.1 L203.7,883.1 L204.3,883.1 L204.9,883.1 L205.5,883.1 L206.1,883.1 L206.7,883.1 L207.3,883.1 L207.9,883.1 L208.5,883.1 L209.1,883.1 L209.7,883.1 L210.3,883.1 L210.9,883.1 L211.5,883.1 L212.1,883.1 L212.7,883.1 L213.3,883.1 L213.9,883.1 L214.5,883.1 L215.1,883.1 L215.7,883.1 L216.3,883.1 L216.9,883.1 L217.5,883.1 L218.1,883.1 L218.7,883.1 L219.3,883.1 L219.9,883.1 L220.5,883.1 L221.1,883.1 L221.7,883.1 L222.3,883.1 L222.9,883.1 L223.5,883.1 L224.1,883.1 L224.7,883.1 L225.3,883.1 L225.9,883.1 L226.5,883.1 L227.1,883.1 L227.7,883.1 L228.3,883.1 L228.9,883.1 L229.5,883.1 L230.1,883.1 L230.7,883.1 L231.3,883.1 L231.9,883.1 L232.5,883.1 L233.1,883.1 L233.7,883.1 L234.3,883.1 L234.9,883.1 L235.5,883.1 L236.1,883.1 L236.7,883.1 L237.3,883.1 L237.9,883.1 L238.5,883.1 L239.1,883.1 L239.7,883.1 L240.3,883.1 L240.9,883.1 L241.5,883.1 L242.1,883.1 L242.7,883.1 L243.3,883.1 L243.9,883.1 L244.5,883.1 L245.1,883.1 L245.7,883.1 L246.3,883.1 L246.9,883.1 L247.5,883.1 L248.1,883.1 L248.7,883.1 L249.3,883.1 L249.9,883.1 L250.5,883.1 L251.1,883.1 L251.7,883.1 L252.3,883.1 L252.9,883.1 L253.5,883.1 L254.1,883.1 L254.7,883.1 L255.3,883.1 L255.9,883.1 L256.5,883.1 L257.1,883.1 L257.7,883.1 L258.3,883.1 L258.9,883.1 L259.5,883.1 L260.1,883.1 L260.7,883.1 L261.3,883.1 L261.9,883.1 L262.5,883.1 L263.1,883.1 L263.7,883.1 L264.3,883.1 L264.9,883.1 L265.5,883.1 L266.1,883.1 L266.7,883.1 L267.3,883.1 L267.9,883.1 L268.5,883.1 L269.1,883.1 L269.7,883.1 L270.3,883.1 L270.9,883.1 L271.5,883.1 L272.1,883.1 L272.7,883.1 L273.3,883.1 L273.9,883.1 L274.5,883.1 L275.1,883.1 L275.7,883.1 L276.3,883.1 L276.9,883.1 L277.5,883.1 L278.1,883.1 L278.7,883.1 L279.3,883.1 L279.9,883.1 L280.5,883.1 L281.1,883.1 L281.7,883.1 L282.3,883.1 L282.9,883.1 L283.5,883.1 L284.1,883.1 L284.7,883.1 L285.3,883.1 L285.9,883.1 L286.5,883.1 L287.1,883.1 L287.7,883.1 L288.3,883.1 L288.9,883.1 L289.5,883.1 L290.1,883.1 L290.7,883.1 L291.3,883.1 L291.9,883.1 L292.5,883.1 L293.1,883.1 L293.7,883.1 L294.3,883.1 L294.9,883.1 L295.5,883.1 L296.1,883.1 L296.7,883.1 L297.3,883.1 L297.9,883.1 L298.5,883.1 L299.1,883.1 L299.7,883.1 L300.3,883.1 L300.9,883.1 L301.5,883.1 L302.1,883.1 L302.7,883.1 L303.3,883.1 L303.9,883.1 L304.5,883.1 L305.1,883.1 L305.7,883.1 L306.3,883.1 L306.9,883.1 L307.5,883.1 L308.1,883.1 L308.7,883.1 L309.3,883.1 L309.9,883.1 L310.5,883.1 L311.1,883.1 L311.7,883.1 L312.3,883.1 L312.9,883.1 L313.5,883.1 L314.1,883.1 L314.7,883.1 L315.3,883.1 L315.9,883.1 L316.5,883.1 L317.1,883.1 L317.7,883.1 L318.3,883.1 L318.9,883.1 L319.5,883.1 L320.1,883.1 L320.7,883.1 L321.3,883.1 L321.9,883.1 L322.5,883.1 L323.1,883.1 L323.7,883.1 L324.3,883.1 L324.9,883.1 L325.5,883.1 L326.1,883.1 L326.7,883.1 L327.3,883.1 L327.9,883.1 L328.5,883.1 L329.1,883.1 L329.7,883.1 L330.3,883.1 L330.9,883.1 L331.5,883.1 L332.1,883.1 L332.7,883.1 L333.3,883.1 L333.9,883.1 L334.5,883.1 L335.1,883.1 L335.7,883.1 L336.3,883.1 L336.9,883.1 L337.5,883.1 L338.1,883.1 L338.7,883.1 L339.3,883.1 L339.9,883.1 L340.5,883.1 L341.1,883.1 L341.7,883.1 L342.3,883.1 L342.9,883.1 L343.5,883.1 L344.1,883.1 L344.7,883.1 L345.3,883.1 L345.9,883.1 L346.5,883.1 L347.1,883.1 L347.7,883.1 L348.3,883.1 L348.9,883.1 L349.5,883.1 L350.1,883.1 L350.7,883.1 L351.3,883.1 L351.9,883.1 L352.5,883.1 L353.1,883.1 L353.7,883.1 L354.3,883.1 L354.9,883.1" fill="none" stroke="#a0a0a0" stroke-width="2.0" stroke-linejoin="round"/>
<path d="M42.9,883.1 L43.5,883.1 L44.1,883.1 L44.7,883.1 L45.3,883.1 L45.9,883.1 L46.5,883.1 L47.1,883.1 L47.7,883.1 L48.3,883.1 L48.9,883.1 L49.5,883.1 L50.1,883.1 L50.7,883.1 L51.3,883.1 L51.9,883.1 L52.5,883.1 L53.1,883.1 L53.7,883.1 L54.3,883.1 L54.9,883.1 L55.5,883.1 L56.1,883.1 L56.7,883.1 L57.3,883.1 L57.9,883.1 L58.5,883.1 L59.1,883.1 L59.7,883.1 L60.3,883.1 L60.9,883.1 L61.5,883.1 L62.1,883.1 L62.7,883.1 L63.3,883.1 L63.9,883.1 L64.5,883.1 L65.1,883.1 L65.7,883.1 L66.3,883.1 L66.9,883.1 L67.5,883.1 L68.1,883.1 L68.7,883.1 L69.3,883.1 L69.9,883.1 L70.5,883.1 L71.1,883.1 L71.7,883.1 L72.3,883.1 L72.9,883.1 L73.5,883.1 L74.1,883.1 L74.7,883.1 L75.3,883.1 L75.9,883.1 L76.5,883.1 L77.1,883.1 L77.7,883.1 L78.3,883.1 L78.9,883.1 L79.5,883.1 L80.1,883.1 L80.7,883.1 L81.3,883.1 L81.9,883.1 L82.5,883.1 L83.1,883.1 L83.7,883.1 L84.3,883.1 L84.9,883.1 L85.5,883.1 L86.1,883.1 L86.7,883.1 L87.3,883.1 L87.9,883.1 L88.5,883.1 L89.1,883.1 L89.7,883.1 L90.3,883.1 L90.9,883.1 L91.5,883.1 L92.1,883.1 L92.7,883.1 L93.3,883.1 L93.9,883.1 L94.5,883.1 L95.1,883.1 L95.7,883.1 L96.3,883.1 L96.9,883.1 L97.5,883.1 L98.1,883.1 L98.7,883.1 L99.3,883.1 L99.9,883.1 L100.5,883.1 L101.1,883.1 L101.7,883.1 L102.3,883.0 L102.9,883.0 L103.5,883.1 L104.1,883.1 L104.7,883.0 L105.3,883.0 L105.9,882.9 L106.5,882.8 L107.1,882.9 L107.7,883.1 L108.3,882.9 L108.9,882.7 L109.5,882.9 L110.1,882.8 L110.7,883.0 L111.3,883.1 L111.9,882.9 L112.5,882.9 L113.1,882.7 L113.7,883.0 L114.3,882.7 L114.9,882.8 L115.5,883.1 L116.1,882.6 L116.7,882.7 L117.3,882.7 L117.9,882.7 L118.5,882.7 L119.1,883.0 L119.7,882.8 L120.3,882.7 L120.9,882.1 L121.5,882.4 L122.1,881.9 L122.7,882.6 L123.3,882.3 L123.9,882.5 L124.5,882.0 L125.1,882.1 L125.7,882.1 L126.3,882.2 L126.9,881.9 L127.5,881.6 L128.1,881.5 L128.7,881.3 L129.3,881.1 L129.9,880.8 L130.5,880.5 L131.1,882.0 L131.7,881.0 L132.3,880.5 L132.9,881.4 L133.5,881.2 L134.1,880.8 L134.7,881.4 L135.3,881.8 L135.9,880.3 L136.5,881.2 L137.1,880.9 L137.7,881.1 L138.3,880.0 L138.9,881.0 L139.5,880.9 L140.1,878.3 L140.7,880.1 L141.3,880.6 L141.9,878.7 L142.5,879.4 L143.1,879.1 L143.7,879.2 L144.3,878.3 L144.9,879.2 L145.5,879.4 L146.1,878.7 L146.7,878.5 L147.3,877.0 L147.9,878.4 L148.5,877.2 L149.1,877.8 L149.7,877.3 L150.3,879.9 L150.9,878.3 L151.5,879.1 L152.1,877.9 L152.7,877.5 L153.3,878.1 L153.9,877.5 L154.5,879.3 L155.1,877.5 L155.7,878.6 L156.3,876.3 L156.9,875.9 L157.5,877.1 L158.1,875.5 L158.7,878.0 L159.3,877.3 L159.9,876.5 L160.5,877.9 L161.1,875.9 L161.7,875.0 L162.3,872.7 L162.9,872.6 L163.5,874.1 L164.1,872.3 L164.7,874.6 L165.3,875.1 L165.9,874.4 L166.5,871.5 L167.1,871.2 L167.7,870.0 L168.3,871.7 L168.9,872.0 L169.5,869.9 L170.1,869.0 L170.7,868.3 L171.3,868.0 L171.9,864.5 L172.5,862.5 L173.1,863.7 L173.7,862.3 L174.3,860.7 L174.9,858.1 L175.5,857.3 L176.1,854.9 L176.7,850.4 L177.3,852.3 L177.9,849.6 L178.5,843.9 L179.1,840.5 L179.7,835.9 L180.3,830.5 L180.9,827.4 L181.5,822.8 L182.1,821.0 L182.7,820.4 L183.3,816.3 L183.9,808.0 L184.5,806.7 L185.1,801.8 L185.7,795.8 L186.3,798.6 L186.9,788.7 L187.5,789.9 L188.1,777.6 L188.7,778.6 L189.3,772.1 L189.9,773.8 L190.5,769.2 L191.1,760.5 L191.7,761.3 L192.3,761.6 L192.9,759.6 L193.5,757.5 L194.1,747.2 L194.7,753.6 L195.3,741.7 L195.9,739.3 L196.5,731.3 L197.1,734.2 L197.7,731.6 L198.3,733.8 L198.9,732.8 L199.5,741.0 L200.1,740.4 L200.7,744.5 L201.3,744.9 L201.9,742.1 L202.5,744.7 L203.1,746.3 L203.7,740.5 L204.3,744.9 L204.9,752.3 L205.5,762.9 L206.1,759.7 L206.7,768.8 L207.3,771.9 L207.9,781.5 L208.5,787.9 L209.1,787.0 L209.7,790.5 L210.3,804.1 L210.9,810.0 L211.5,811.8 L212.1,818.6 L212.7,821.6 L213.3,827.0 L213.9,829.4 L214.5,835.7 L215.1,843.0 L215.7,847.1 L216.3,850.2 L216.9,851.1 L217.5,855.3 L218.1,855.9 L218.7,858.3 L219.3,861.6 L219.9,862.2 L220.5,866.0 L221.1,865.6 L221.7,871.5 L222.3,873.0 L222.9,873.7 L223.5,873.7 L224.1,874.7 L224.7,875.9 L225.3,875.8 L225.9,877.5 L226.5,878.0 L227.1,879.9 L227.7,881.0 L228.3,881.6 L228.9,880.5 L229.5,880.5 L230.1,882.0 L230.7,882.3 L231.3,882.6 L231.9,882.6 L232.5,882.5 L233.1,883.1 L233.7,883.0 L234.3,883.0 L234.9,882.6 L235.5,882.8 L236.1,883.1 L236.7,883.1 L237.3,883.1 L237.9,883.0 L238.5,883.1 L239.1,883.0 L239.7,883.0 L240.3,883.1 L240.9,883.1 L241.5,883.1 L242.1,883.1 L242.7,883.1 L243.3,883.1 L243.9,883.1 L244.5,883.1 L245.1,883.1 L245.7,883.1 L246.3,883.1 L246.9,883.1 L247.5,883.1 L248.1,883.1 L248.7,883.1 L249.3,883.1 L249.9,883.1 L250.5,883.1 L251.1,883.1 L251.7,883.1 L252.3,883.1 L252.9,883.1 L253.5,883.1 L254.1,883.1 L254.7,883.1 L255.3,883.1 L255.9,883.1 L256.5,883.1 L257.1,883.1 L257.7,883.1 L258.3,883.1 L258.9,883.1 L259.5,883.1 L260.1,883.1 L260.7,883.1 L261.3,883.1 L261.9,883.1 L262.5,883.1 L263.1,883.1 L263.7,883.1 L264.3,883.1 L264.9,883.1 L265.5,883.1 L266.1,883.1 L266.7,883.1 L267.3,883.1 L267.9,883.1 L268.5,883.1 L269.1,883.1 L269.7,883.1 L270.3,883.1 L270.9,883.1 L271.5,883.1 L272.1,883.1 L272.7,883.1 L273.3,883.1 L273.9,883.1 L274.5,883.1 L275.1,883.1 L275.7,883.1 L276.3,883.1 L276.9,883.1 L277.5,883.1 L278.1,883.1 L278.7,883.1 L279.3,883.1 L279.9,883.1 L280.5,883.1 L281.1,883.1 L281.7,883.1 L282.3,883.1 L282.9,883.1 L283.5,883.1 L284.1,883.1 L284.7,883.1 L285.3,883.1 L285.9,883.1 L286.5,883.1 L287.1,883.1 L287.7,883.1 L288.3,883.1 L288.9,883.1 L289.5,883.1 L290.1,883.1 L290.7,883.1 L291.3,883.1 L291.9,883.1 L292.5,883.1 L293.1,883.1 L293.7,883.1 L294.3,883.1 L294.9,883.1 L295.5,883.1 L296.1,883.1 L296.7,883.1 L297.3,883.1 L297.9,883.1 L298.5,883.1 L299.1,883.1 L299.7,883.1 L300.3,883.1 L300.9,883.1 L301.5,883.1 L302.1,883.1 L302.7,883.1 L303.3,883.1 L303.9,883.1 L304.5,883.1 L305.1,883.1 L305.7,883.1 L306.3,883.1 L306.9,883.1 L307.5,883.1 L308.1,883.1 L308.7,883.1 L309.3,883.1 L309.9,883.1 L310.5,883.1 L311.1,883.1 L311.7,883.1 L312.3,883.1 L312.9,883.1 L313.5,883.1 L314.1,883.1 L314.7,883.1 L315.3,883.1 L315.9,883.1 L316.5,883.1 L317.1,883.1 L317.7,883.1 L318.3,883.1 L318.9,883.1 L319.5,883.1 L320.1,883.1 L320.7,883.1 L321.3,883.1 L321.9,883.1 L322.5,883.1 L323.1,883.1 L323.7,883.1 L324.3,883.1 L324.9,883.1 L325.5,883.1 L326.1,883.1 L326.7,883.1 L327.3,883.1 L327.9,883.1 L328.5,883.1 L329.1,883.1 L329.7,883.1 L330.3,883.1 L330.9,883.1 L331.5,883.1 L332.1,883.1 L332.7,883.1 L333.3,883.1 L333.9,883.1 L334.5,883.1 L335.1,883.1 L335.7,883.1 L336.3,883.1 L336.9,883.1 L337.5,883.1 L338.1,883.1 L338.7,883.1 L339.3,883.1 L339.9,883.1 L340.5,883.1 L341.1,883.1 L341.7,883.1 L342.3,883.1 L342.9,883.1 L343.5,883.1 L344.1,883.1 L344.7,883.1 L345.3,883.1 L345.9,883.1 L346.5,883.1 L347.1,883.1 L347.7,883.1 L348.3,883.1 L348.9,883.1 L349.5,883.1 L350.1,883.1 L350.7,883.1 L351.3,883.1 L351.9,883.1 L352.5,883.1 L353.1,883.1 L353.7,883.1 L354.3,883.1 L354.9,883.1" fill="none" stroke="#e82222" stroke-width="2.2" stroke-linejoin="round"/>
<path d="M42.9,883.1 L43.5,883.1 L44.1,883.1 L44.7,883.1 L45.3,883.1 L45.9,883.1 L46.5,883.1 L47.1,883.1 L47.7,883.1 L48.3,883.1 L48.9,883.1 L49.5,883.1 L50.1,883.1 L50.7,883.1 L51.3,883.1 L51.9,883.1 L52.5,883.1 L53.1,883.1 L53.7,883.1 L54.3,883.1 L54.9,883.1 L55.5,883.1 L56.1,883.1 L56.7,883.1 L57.3,883.1 L57.9,883.1 L58.5,883.1 L59.1,883.1 L59.7,883.1 L60.3,883.1 L60.9,883.1 L61.5,883.1 L62.1,883.1 L62.7,883.1 L63.3,883.1 L63.9,883.1 L64.5,883.1 L65.1,883.1 L65.7,883.1 L66.3,883.1 L66.9,883.1 L67.5,883.1 L68.1,883.1 L68.7,883.1 L69.3,883.1 L69.9,883.1 L70.5,883.1 L71.1,883.1 L71.7,883.1 L72.3,883.1 L72.9,883.1 L73.5,883.1 L74.1,883.1 L74.7,883.1 L75.3,883.1 L75.9,883.1 L76.5,883.1 L77.1,883.1 L77.7,883.1 L78.3,883.1 L78.9,883.1 L79.5,883.1 L80.1,883.1 L80.7,883.1 L81.3,883.1 L81.9,883.1 L82.5,883.1 L83.1,883.1 L83.7,883.1 L84.3,883.1 L84.9,883.1 L85.5,883.1 L86.1,883.1 L86.7,883.1 L87.3,883.1 L87.9,883.1 L88.5,883.1 L89.1,883.1 L89.7,883.1 L90.3,883.1 L90.9,883.1 L91.5,883.1 L92.1,883.1 L92.7,883.1 L93.3,883.1 L93.9,883.1 L94.5,883.1 L95.1,883.1 L95.7,883.1 L96.3,883.1 L96.9,883.1 L97.5,883.1 L98.1,883.1 L98.7,883.1 L99.3,883.1 L99.9,883.1 L100.5,883.1 L101.1,883.1 L101.7,883.1 L102.3,883.1 L102.9,883.1 L103.5,883.1 L104.1,883.1 L104.7,883.1 L105.3,883.1 L105.9,883.1 L106.5,883.1 L107.1,883.1 L107.7,883.1 L108.3,883.1 L108.9,883.1 L109.5,883.1 L110.1,883.1 L110.7,883.1 L111.3,883.1 L111.9,883.1 L112.5,883.1 L113.1,883.1 L113.7,883.1 L114.3,883.1 L114.9,883.1 L115.5,883.1 L116.1,883.1 L116.7,883.1 L117.3,883.1 L117.9,883.1 L118.5,883.1 L119.1,883.1 L119.7,883.1 L120.3,883.1 L120.9,883.1 L121.5,883.1 L122.1,883.1 L122.7,883.1 L123.3,883.1 L123.9,883.1 L124.5,883.1 L125.1,883.1 L125.7,883.1 L126.3,883.1 L126.9,883.1 L127.5,883.1 L128.1,883.1 L128.7,883.1 L129.3,883.1 L129.9,883.1 L130.5,883.1 L131.1,883.1 L131.7,883.1 L132.3,883.1 L132.9,883.1 L133.5,883.1 L134.1,883.1 L134.7,883.1 L135.3,883.1 L135.9,883.1 L136.5,883.1 L137.1,883.1 L137.7,883.1 L138.3,883.1 L138.9,883.1 L139.5,883.1 L140.1,883.1 L140.7,883.1 L141.3,883.1 L141.9,883.1 L142.5,883.1 L143.1,883.1 L143.7,883.1 L144.3,883.1 L144.9,883.1 L145.5,883.1 L146.1,883.1 L146.7,883.1 L147.3,883.1 L147.9,883.1 L148.5,883.1 L149.1,883.1 L149.7,883.1 L150.3,883.1 L150.9,883.1 L151.5,883.1 L152.1,883.1 L152.7,883.1 L153.3,883.1 L153.9,883.1 L154.5,883.0 L155.1,883.0 L155.7,883.0 L156.3,883.1 L156.9,882.9 L157.5,883.0 L158.1,882.9 L158.7,883.1 L159.3,883.1 L159.9,882.9 L160.5,883.0 L161.1,883.1 L161.7,883.1 L162.3,883.0 L162.9,883.0 L163.5,882.8 L164.1,882.4 L164.7,882.0 L165.3,882.2 L165.9,882.3 L166.5,882.7 L167.1,882.5 L167.7,881.7 L168.3,882.2 L168.9,881.5 L169.5,882.2 L170.1,881.2 L170.7,881.8 L171.3,881.3 L171.9,880.7 L172.5,881.2 L173.1,880.3 L173.7,878.1 L174.3,879.4 L174.9,878.2 L175.5,877.9 L176.1,878.0 L176.7,878.1 L177.3,877.0 L177.9,874.8 L178.5,874.0 L179.1,872.5 L179.7,872.4 L180.3,871.0 L180.9,871.8 L181.5,868.9 L182.1,869.6 L182.7,870.2 L183.3,867.0 L183.9,863.7 L184.5,864.1 L185.1,858.8 L185.7,857.6 L186.3,858.6 L186.9,855.5 L187.5,851.3 L188.1,848.0 L188.7,844.6 L189.3,846.8 L189.9,846.6 L190.5,843.2 L191.1,836.0 L191.7,832.7 L192.3,825.8 L192.9,820.7 L193.5,822.4 L194.1,820.2 L194.7,810.5 L195.3,805.4 L195.9,806.9 L196.5,798.4 L197.1,802.6 L197.7,801.5 L198.3,789.5 L198.9,787.0 L199.5,788.8 L200.1,787.1 L200.7,780.0 L201.3,775.4 L201.9,771.3 L202.5,771.8 L203.1,770.1 L203.7,764.2 L204.3,759.6 L204.9,758.8 L205.5,756.7 L206.1,753.9 L206.7,748.2 L207.3,752.2 L207.9,756.0 L208.5,753.2 L209.1,757.6 L209.7,754.7 L210.3,755.9 L210.9,757.4 L211.5,749.6 L212.1,756.4 L212.7,762.4 L213.3,755.6 L213.9,753.0 L214.5,758.8 L215.1,766.0 L215.7,773.6 L216.3,770.5 L216.9,778.8 L217.5,780.2 L218.1,789.7 L218.7,794.2 L219.3,800.2 L219.9,802.5 L220.5,807.1 L221.1,816.4 L221.7,815.4 L222.3,822.2 L222.9,825.5 L223.5,830.4 L224.1,833.4 L224.7,842.5 L225.3,846.8 L225.9,847.3 L226.5,855.2 L227.1,855.3 L227.7,860.2 L228.3,858.1 L228.9,860.6 L229.5,862.7 L230.1,869.4 L230.7,870.6 L231.3,870.1 L231.9,872.1 L232.5,873.0 L233.1,874.2 L233.7,874.5 L234.3,877.2 L234.9,878.0 L235.5,877.7 L236.1,879.1 L236.7,880.3 L237.3,880.4 L237.9,880.4 L238.5,881.3 L239.1,881.8 L239.7,882.7 L240.3,881.9 L240.9,882.2 L241.5,882.3 L242.1,882.2 L242.7,882.5 L243.3,882.2 L243.9,882.4 L244.5,882.4 L245.1,882.8 L245.7,882.8 L246.3,882.7 L246.9,882.8 L247.5,883.0 L248.1,883.0 L248.7,882.7 L249.3,883.1 L249.9,883.1 L250.5,883.1 L251.1,883.0 L251.7,883.0 L252.3,883.1 L252.9,883.1 L253.5,883.1 L254.1,883.1 L254.7,883.1 L255.3,883.1 L255.9,883.1 L256.5,883.1 L257.1,883.1 L257.7,883.1 L258.3,883.1 L258.9,883.1 L259.5,883.1 L260.1,883.1 L260.7,883.1 L261.3,883.1 L261.9,883.1 L262.5,883.1 L263.1,883.1 L263.7,883.1 L264.3,883.1 L264.9,883.1 L265.5,883.1 L266.1,883.1 L266.7,883.1 L267.3,883.1 L267.9,883.1 L268.5,883.1 L269.1,883.1 L269.7,883.1 L270.3,883.1 L270.9,883.1 L271.5,883.1 L272.1,883.1 L272.7,883.1 L273.3,883.1 L273.9,883.1 L274.5,883.1 L275.1,883.1 L275.7,883.1 L276.3,883.1 L276.9,883.1 L277.5,883.1 L278.1,883.1 L278.7,883.1 L279.3,883.1 L279.9,883.1 L280.5,883.1 L281.1,883.1 L281.7,883.1 L282.3,883.1 L282.9,883.1 L283.5,883.1 L284.1,883.1 L284.7,883.1 L285.3,883.1 L285.9,883.1 L286.5,883.1 L287.1,883.1 L287.7,883.1 L288.3,883.1 L288.9,883.1 L289.5,883.1 L290.1,883.1 L290.7,883.1 L291.3,883.1 L291.9,883.1 L292.5,883.1 L293.1,883.1 L293.7,883.1 L294.3,883.1 L294.9,883.1 L295.5,883.1 L296.1,883.1 L296.7,883.1 L297.3,883.1 L297.9,883.1 L298.5,883.1 L299.1,883.1 L299.7,883.1 L300.3,883.1 L300.9,883.1 L301.5,883.1 L302.1,883.1 L302.7,883.1 L303.3,883.1 L303.9,883.1 L304.5,883.1 L305.1,883.1 L305.7,883.1 L306.3,883.1 L306.9,883.1 L307.5,883.1 L308.1,883.1 L308.7,883.1 L309.3,883.1 L309.9,883.1 L310.5,883.1 L311.1,883.1 L311.7,883.1 L312.3,883.1 L312.9,883.1 L313.5,883.1 L314.1,883.1 L314.7,883.1 L315.3,883.1 L315.9,883.1 L316.5,883.1 L317.1,883.1 L317.7,883.1 L318.3,883.1 L318.9,883.1 L319.5,883.1 L320.1,883.1 L320.7,883.1 L321.3,883.1 L321.9,883.1 L322.5,883.1 L323.1,883.1 L323.7,883.1 L324.3,883.1 L324.9,883.1 L325.5,883.1 L326.1,883.1 L326.7,883.1 L327.3,883.1 L327.9,883.1 L328.5,883.1 L329.1,883.1 L329.7,883.1 L330.3,883.1 L330.9,883.1 L331.5,883.1 L332.1,883.1 L332.7,883.1 L333.3,883.1 L333.9,883.1 L334.5,883.1 L335.1,883.1 L335.7,883.1 L336.3,883.1 L336.9,883.1 L337.5,883.1 L338.1,883.1 L338.7,883.1 L339.3,883.1 L339.9,883.1 L340.5,883.1 L341.1,883.1 L341.7,883.1 L342.3,883.1 L342.9,883.1 L343.5,883.1 L344.1,883.1 L344.7,883.1 L345.3,883.1 L345.9,883.1 L346.5,883.1 L347.1,883.1 L347.7,883.1 L348.3,883.1 L348.9,883.1 L349.5,883.1 L350.1,883.1 L350.7,883.1 L351.3,883.1 L351.9,883.1 L352.5,883.1 L353.1,883.1 L353.7,883.1 L354.3,883.1 L354.9,883.1" fill="none" stroke="#22dd22" stroke-width="2.2" stroke-linejoin="round"/>
<text x="350.6" y="727.0" font-size="17.6" font-weight="bold" text-anchor="end" fill="#000" letter-spacing="0.3">LDLR Protein</text>
<text x="291.5" y="765.0" font-size="17.5" font-weight="normal" text-anchor="middle" fill="#000" letter-spacing="0.3">OCI-AML3</text>
<path d="M293.0,794.9 H257.0 V879.0 H293.0" fill="none" stroke="#ccc" stroke-width="1.2"/>
<rect x="259.10" y="797.50" width="32.00" height="22.80" fill="#fff" stroke="#22dd22" stroke-width="2" />
<text x="297.0" y="814.4" font-size="17.5" font-weight="normal" text-anchor="start" fill="#000" letter-spacing="0.3">OXP</text>
<rect x="259.10" y="825.30" width="32.00" height="21.30" fill="#fff" stroke="#e82222" stroke-width="2" />
<text x="297.0" y="842.0" font-size="17.5" font-weight="normal" text-anchor="start" fill="#000" letter-spacing="0.3">Cont</text>
<rect x="259.10" y="851.00" width="32.00" height="24.00" fill="#fff" stroke="#a0a0a0" stroke-width="2" />
<text x="297.0" y="870.0" font-size="17.5" font-weight="normal" text-anchor="start" fill="#000" letter-spacing="0.3">-Ve</text>
<line x1="369.50" y1="708.30" x2="670.50" y2="708.30" stroke="#777" stroke-width="1.4" />
<line x1="670.50" y1="708.30" x2="670.50" y2="885.00" stroke="#666" stroke-width="1.6" />
<line x1="369.50" y1="708.30" x2="369.50" y2="885.00" stroke="#777" stroke-width="1.6" />
<line x1="369.50" y1="885.00" x2="670.50" y2="885.00" stroke="#bbb" stroke-width="1.2" />
<line x1="367.30" y1="872.70" x2="369.50" y2="872.70" stroke="#444" stroke-width="1.2" />
<line x1="367.30" y1="860.40" x2="369.50" y2="860.40" stroke="#444" stroke-width="1.2" />
<line x1="367.30" y1="848.10" x2="369.50" y2="848.10" stroke="#444" stroke-width="1.2" />
<line x1="367.30" y1="835.80" x2="369.50" y2="835.80" stroke="#444" stroke-width="1.2" />
<line x1="367.30" y1="823.50" x2="369.50" y2="823.50" stroke="#444" stroke-width="1.2" />
<line x1="367.30" y1="811.20" x2="369.50" y2="811.20" stroke="#444" stroke-width="1.2" />
<line x1="367.30" y1="798.90" x2="369.50" y2="798.90" stroke="#444" stroke-width="1.2" />
<line x1="367.30" y1="786.60" x2="369.50" y2="786.60" stroke="#444" stroke-width="1.2" />
<line x1="367.30" y1="774.30" x2="369.50" y2="774.30" stroke="#444" stroke-width="1.2" />
<line x1="367.30" y1="762.00" x2="369.50" y2="762.00" stroke="#444" stroke-width="1.2" />
<line x1="367.30" y1="749.70" x2="369.50" y2="749.70" stroke="#444" stroke-width="1.2" />
<line x1="367.30" y1="737.40" x2="369.50" y2="737.40" stroke="#444" stroke-width="1.2" />
<line x1="367.30" y1="725.10" x2="369.50" y2="725.10" stroke="#444" stroke-width="1.2" />
<line x1="367.30" y1="712.80" x2="369.50" y2="712.80" stroke="#444" stroke-width="1.2" />
<line x1="391.44" y1="885.00" x2="391.44" y2="886.60" stroke="#444" stroke-width="1.1" />
<line x1="404.68" y1="885.00" x2="404.68" y2="886.60" stroke="#444" stroke-width="1.1" />
<line x1="414.07" y1="885.00" x2="414.07" y2="886.60" stroke="#444" stroke-width="1.1" />
<line x1="421.36" y1="885.00" x2="421.36" y2="886.60" stroke="#444" stroke-width="1.1" />
<line x1="427.32" y1="885.00" x2="427.32" y2="886.60" stroke="#444" stroke-width="1.1" />
<line x1="432.35" y1="885.00" x2="432.35" y2="886.60" stroke="#444" stroke-width="1.1" />
<line x1="436.71" y1="885.00" x2="436.71" y2="886.60" stroke="#444" stroke-width="1.1" />
<line x1="440.56" y1="885.00" x2="440.56" y2="886.60" stroke="#444" stroke-width="1.1" />
<line x1="444.00" y1="885.00" x2="444.00" y2="887.20" stroke="#444" stroke-width="1.1" />
<line x1="466.64" y1="885.00" x2="466.64" y2="886.60" stroke="#444" stroke-width="1.1" />
<line x1="479.88" y1="885.00" x2="479.88" y2="886.60" stroke="#444" stroke-width="1.1" />
<line x1="489.27" y1="885.00" x2="489.27" y2="886.60" stroke="#444" stroke-width="1.1" />
<line x1="496.56" y1="885.00" x2="496.56" y2="886.60" stroke="#444" stroke-width="1.1" />
<line x1="502.52" y1="885.00" x2="502.52" y2="886.60" stroke="#444" stroke-width="1.1" />
<line x1="507.55" y1="885.00" x2="507.55" y2="886.60" stroke="#444" stroke-width="1.1" />
<line x1="511.91" y1="885.00" x2="511.91" y2="886.60" stroke="#444" stroke-width="1.1" />
<line x1="515.76" y1="885.00" x2="515.76" y2="886.60" stroke="#444" stroke-width="1.1" />
<line x1="519.20" y1="885.00" x2="519.20" y2="887.20" stroke="#444" stroke-width="1.1" />
<line x1="541.84" y1="885.00" x2="541.84" y2="886.60" stroke="#444" stroke-width="1.1" />
<line x1="555.08" y1="885.00" x2="555.08" y2="886.60" stroke="#444" stroke-width="1.1" />
<line x1="564.47" y1="885.00" x2="564.47" y2="886.60" stroke="#444" stroke-width="1.1" />
<line x1="571.76" y1="885.00" x2="571.76" y2="886.60" stroke="#444" stroke-width="1.1" />
<line x1="577.72" y1="885.00" x2="577.72" y2="886.60" stroke="#444" stroke-width="1.1" />
<line x1="582.75" y1="885.00" x2="582.75" y2="886.60" stroke="#444" stroke-width="1.1" />
<line x1="587.11" y1="885.00" x2="587.11" y2="886.60" stroke="#444" stroke-width="1.1" />
<line x1="590.96" y1="885.00" x2="590.96" y2="886.60" stroke="#444" stroke-width="1.1" />
<line x1="594.40" y1="885.00" x2="594.40" y2="887.20" stroke="#444" stroke-width="1.1" />
<line x1="617.04" y1="885.00" x2="617.04" y2="886.60" stroke="#444" stroke-width="1.1" />
<line x1="630.28" y1="885.00" x2="630.28" y2="886.60" stroke="#444" stroke-width="1.1" />
<line x1="639.67" y1="885.00" x2="639.67" y2="886.60" stroke="#444" stroke-width="1.1" />
<line x1="646.96" y1="885.00" x2="646.96" y2="886.60" stroke="#444" stroke-width="1.1" />
<line x1="652.92" y1="885.00" x2="652.92" y2="886.60" stroke="#444" stroke-width="1.1" />
<line x1="657.95" y1="885.00" x2="657.95" y2="886.60" stroke="#444" stroke-width="1.1" />
<line x1="662.31" y1="885.00" x2="662.31" y2="886.60" stroke="#444" stroke-width="1.1" />
<line x1="666.16" y1="885.00" x2="666.16" y2="886.60" stroke="#444" stroke-width="1.1" />
<text x="435.9" y="899.0" font-size="14.2" fill="#333">10<tspan dy="-5.6" font-size="9">0</tspan></text>
<text x="510.9" y="899.0" font-size="14.2" fill="#333">10<tspan dy="-5.6" font-size="9">1</tspan></text>
<text x="586.3" y="899.0" font-size="14.2" fill="#333">10<tspan dy="-5.6" font-size="9">2</tspan></text>
<text x="659.8" y="899.0" font-size="14.2" fill="#333">10<tspan dy="-5.6" font-size="9">3</tspan></text>
<path d="M369.5,884.9 L370.1,885.0 L370.7,884.9 L371.3,885.0 L371.9,884.7 L372.5,885.0 L373.1,884.8 L373.7,885.0 L374.3,885.0 L374.9,884.6 L375.5,884.3 L376.1,884.3 L376.7,883.9 L377.3,883.0 L377.9,883.4 L378.5,880.7 L379.1,881.4 L379.7,883.0 L380.3,881.1 L380.9,877.5 L381.5,878.6 L382.1,876.4 L382.7,873.1 L383.3,870.4 L383.9,869.1 L384.5,868.0 L385.1,863.2 L385.7,863.8 L386.3,854.8 L386.9,853.3 L387.5,842.1 L388.1,833.9 L388.7,833.6 L389.3,830.5 L389.9,831.3 L390.5,818.4 L391.1,812.9 L391.7,800.2 L392.3,797.7 L392.9,794.8 L393.5,784.8 L394.1,784.9 L394.7,782.6 L395.3,773.7 L395.9,764.1 L396.5,757.1 L397.1,756.1 L397.7,743.0 L398.3,747.7 L398.9,736.2 L399.5,735.3 L400.1,723.5 L400.7,718.9 L401.3,716.5 L401.9,723.0 L402.5,721.3 L403.1,721.7 L403.7,729.1 L404.3,721.9 L404.9,734.3 L405.5,732.4 L406.1,734.5 L406.7,741.8 L407.3,757.5 L407.9,769.6 L408.5,765.8 L409.1,767.7 L409.7,771.4 L410.3,786.1 L410.9,797.5 L411.5,806.0 L412.1,813.3 L412.7,825.2 L413.3,828.4 L413.9,835.6 L414.5,840.0 L415.1,843.6 L415.7,845.2 L416.3,855.7 L416.9,860.1 L417.5,864.4 L418.1,867.9 L418.7,872.2 L419.3,875.1 L419.9,874.0 L420.5,877.6 L421.1,880.4 L421.7,881.8 L422.3,882.2 L422.9,883.1 L423.5,882.6 L424.1,883.9 L424.7,884.1 L425.3,884.5 L425.9,884.8 L426.5,884.8 L427.1,884.6 L427.7,884.5 L428.3,884.8 L428.9,884.9 L429.5,885.0 L430.1,885.0 L430.7,885.0 L431.3,885.0 L431.9,884.9 L432.5,885.0 L433.1,885.0 L433.7,885.0 L434.3,885.0 L434.9,885.0 L435.5,885.0 L436.1,885.0 L436.7,885.0 L437.3,885.0 L437.9,885.0 L438.5,885.0 L439.1,885.0 L439.7,885.0 L440.3,885.0 L440.9,885.0 L441.5,885.0 L442.1,885.0 L442.7,885.0 L443.3,885.0 L443.9,885.0 L444.5,885.0 L445.1,885.0 L445.7,885.0 L446.3,885.0 L446.9,885.0 L447.5,885.0 L448.1,885.0 L448.7,885.0 L449.3,885.0 L449.9,885.0 L450.5,885.0 L451.1,885.0 L451.7,885.0 L452.3,885.0 L452.9,885.0 L453.5,885.0 L454.1,885.0 L454.7,885.0 L455.3,885.0 L455.9,885.0 L456.5,885.0 L457.1,885.0 L457.7,885.0 L458.3,885.0 L458.9,885.0 L459.5,885.0 L460.1,885.0 L460.7,885.0 L461.3,885.0 L461.9,885.0 L462.5,885.0 L463.1,885.0 L463.7,885.0 L464.3,885.0 L464.9,885.0 L465.5,885.0 L466.1,885.0 L466.7,885.0 L467.3,885.0 L467.9,885.0 L468.5,885.0 L469.1,885.0 L469.7,885.0 L470.3,885.0 L470.9,885.0 L471.5,885.0 L472.1,885.0 L472.7,885.0 L473.3,885.0 L473.9,885.0 L474.5,885.0 L475.1,885.0 L475.7,885.0 L476.3,885.0 L476.9,885.0 L477.5,885.0 L478.1,885.0 L478.7,885.0 L479.3,885.0 L479.9,885.0 L480.5,885.0 L481.1,885.0 L481.7,885.0 L482.3,885.0 L482.9,885.0 L483.5,885.0 L484.1,885.0 L484.7,885.0 L485.3,885.0 L485.9,885.0 L486.5,885.0 L487.1,885.0 L487.7,885.0 L488.3,885.0 L488.9,885.0 L489.5,885.0 L490.1,885.0 L490.7,885.0 L491.3,885.0 L491.9,885.0 L492.5,885.0 L493.1,885.0 L493.7,885.0 L494.3,885.0 L494.9,885.0 L495.5,885.0 L496.1,885.0 L496.7,885.0 L497.3,885.0 L497.9,885.0 L498.5,885.0 L499.1,885.0 L499.7,885.0 L500.3,885.0 L500.9,885.0 L501.5,885.0 L502.1,885.0 L502.7,885.0 L503.3,885.0 L503.9,885.0 L504.5,885.0 L505.1,885.0 L505.7,885.0 L506.3,885.0 L506.9,885.0 L507.5,885.0 L508.1,885.0 L508.7,885.0 L509.3,885.0 L509.9,885.0 L510.5,885.0 L511.1,885.0 L511.7,885.0 L512.3,885.0 L512.9,885.0 L513.5,885.0 L514.1,885.0 L514.7,885.0 L515.3,885.0 L515.9,885.0 L516.5,885.0 L517.1,885.0 L517.7,885.0 L518.3,885.0 L518.9,885.0 L519.5,885.0 L520.1,885.0 L520.7,885.0 L521.3,885.0 L521.9,885.0 L522.5,885.0 L523.1,885.0 L523.7,885.0 L524.3,885.0 L524.9,885.0 L525.5,885.0 L526.1,885.0 L526.7,885.0 L527.3,885.0 L527.9,885.0 L528.5,885.0 L529.1,885.0 L529.7,885.0 L530.3,885.0 L530.9,885.0 L531.5,885.0 L532.1,885.0 L532.7,885.0 L533.3,885.0 L533.9,885.0 L534.5,885.0 L535.1,885.0 L535.7,885.0 L536.3,885.0 L536.9,885.0 L537.5,885.0 L538.1,885.0 L538.7,885.0 L539.3,885.0 L539.9,885.0 L540.5,885.0 L541.1,885.0 L541.7,885.0 L542.3,885.0 L542.9,885.0 L543.5,885.0 L544.1,885.0 L544.7,885.0 L545.3,885.0 L545.9,885.0 L546.5,885.0 L547.1,885.0 L547.7,885.0 L548.3,885.0 L548.9,885.0 L549.5,885.0 L550.1,885.0 L550.7,885.0 L551.3,885.0 L551.9,885.0 L552.5,885.0 L553.1,885.0 L553.7,885.0 L554.3,885.0 L554.9,885.0 L555.5,885.0 L556.1,885.0 L556.7,885.0 L557.3,885.0 L557.9,885.0 L558.5,885.0 L559.1,885.0 L559.7,885.0 L560.3,885.0 L560.9,885.0 L561.5,885.0 L562.1,885.0 L562.7,885.0 L563.3,885.0 L563.9,885.0 L564.5,885.0 L565.1,885.0 L565.7,885.0 L566.3,885.0 L566.9,885.0 L567.5,885.0 L568.1,885.0 L568.7,885.0 L569.3,885.0 L569.9,885.0 L570.5,885.0 L571.1,885.0 L571.7,885.0 L572.3,885.0 L572.9,885.0 L573.5,885.0 L574.1,885.0 L574.7,885.0 L575.3,885.0 L575.9,885.0 L576.5,885.0 L577.1,885.0 L577.7,885.0 L578.3,885.0 L578.9,885.0 L579.5,885.0 L580.1,885.0 L580.7,885.0 L581.3,885.0 L581.9,885.0 L582.5,885.0 L583.1,885.0 L583.7,885.0 L584.3,885.0 L584.9,885.0 L585.5,885.0 L586.1,885.0 L586.7,885.0 L587.3,885.0 L587.9,885.0 L588.5,885.0 L589.1,885.0 L589.7,885.0 L590.3,885.0 L590.9,885.0 L591.5,885.0 L592.1,885.0 L592.7,885.0 L593.3,885.0 L593.9,885.0 L594.5,885.0 L595.1,885.0 L595.7,885.0 L596.3,885.0 L596.9,885.0 L597.5,885.0 L598.1,885.0 L598.7,885.0 L599.3,885.0 L599.9,885.0 L600.5,885.0 L601.1,885.0 L601.7,885.0 L602.3,885.0 L602.9,885.0 L603.5,885.0 L604.1,885.0 L604.7,885.0 L605.3,885.0 L605.9,885.0 L606.5,885.0 L607.1,885.0 L607.7,885.0 L608.3,885.0 L608.9,885.0 L609.5,885.0 L610.1,885.0 L610.7,885.0 L611.3,885.0 L611.9,885.0 L612.5,885.0 L613.1,885.0 L613.7,885.0 L614.3,885.0 L614.9,885.0 L615.5,885.0 L616.1,885.0 L616.7,885.0 L617.3,885.0 L617.9,885.0 L618.5,885.0 L619.1,885.0 L619.7,885.0 L620.3,885.0 L620.9,885.0 L621.5,885.0 L622.1,885.0 L622.7,885.0 L623.3,885.0 L623.9,885.0 L624.5,885.0 L625.1,885.0 L625.7,885.0 L626.3,885.0 L626.9,885.0 L627.5,885.0 L628.1,885.0 L628.7,885.0 L629.3,885.0 L629.9,885.0 L630.5,885.0 L631.1,885.0 L631.7,885.0 L632.3,885.0 L632.9,885.0 L633.5,885.0 L634.1,885.0 L634.7,885.0 L635.3,885.0 L635.9,885.0 L636.5,885.0 L637.1,885.0 L637.7,885.0 L638.3,885.0 L638.9,885.0 L639.5,885.0 L640.1,885.0 L640.7,885.0 L641.3,885.0 L641.9,885.0 L642.5,885.0 L643.1,885.0 L643.7,885.0 L644.3,885.0 L644.9,885.0 L645.5,885.0 L646.1,885.0 L646.7,885.0 L647.3,885.0 L647.9,885.0 L648.5,885.0 L649.1,885.0 L649.7,885.0 L650.3,885.0 L650.9,885.0 L651.5,885.0 L652.1,885.0 L652.7,885.0 L653.3,885.0 L653.9,885.0 L654.5,885.0 L655.1,885.0 L655.7,885.0 L656.3,885.0 L656.9,885.0 L657.5,885.0 L658.1,885.0 L658.7,885.0 L659.3,885.0 L659.9,885.0 L660.5,885.0 L661.1,885.0 L661.7,885.0 L662.3,885.0 L662.9,885.0 L663.5,885.0 L664.1,885.0 L664.7,885.0 L665.3,885.0 L665.9,885.0 L666.5,885.0 L667.1,885.0 L667.7,885.0 L668.3,885.0 L668.9,885.0 L669.5,885.0 L670.1,885.0" fill="none" stroke="#a0a0a0" stroke-width="2.0" stroke-linejoin="round"/>
<path d="M369.5,884.7 L370.1,884.8 L370.7,885.0 L371.3,884.9 L371.9,884.9 L372.5,884.6 L373.1,884.7 L373.7,884.7 L374.3,884.9 L374.9,884.8 L375.5,884.8 L376.1,884.6 L376.7,884.4 L377.3,884.6 L377.9,884.9 L378.5,884.1 L379.1,883.6 L379.7,884.8 L380.3,885.0 L380.9,884.7 L381.5,884.4 L382.1,884.1 L382.7,883.9 L383.3,883.5 L383.9,884.0 L384.5,883.7 L385.1,882.8 L385.7,883.1 L386.3,883.0 L386.9,882.8 L387.5,884.1 L388.1,883.8 L388.7,881.2 L389.3,882.5 L389.9,883.1 L390.5,883.3 L391.1,882.9 L391.7,880.7 L392.3,882.0 L392.9,881.6 L393.5,882.4 L394.1,881.7 L394.7,879.7 L395.3,881.8 L395.9,879.6 L396.5,880.8 L397.1,880.4 L397.7,879.2 L398.3,877.0 L398.9,877.6 L399.5,877.5 L400.1,878.0 L400.7,877.9 L401.3,879.6 L401.9,878.6 L402.5,879.0 L403.1,876.4 L403.7,876.3 L404.3,877.7 L404.9,878.0 L405.5,877.6 L406.1,876.0 L406.7,874.8 L407.3,877.7 L407.9,875.4 L408.5,875.1 L409.1,877.3 L409.7,875.9 L410.3,874.7 L410.9,876.1 L411.5,875.1 L412.1,876.7 L412.7,875.3 L413.3,874.2 L413.9,878.0 L414.5,877.6 L415.1,876.4 L415.7,875.9 L416.3,874.6 L416.9,875.3 L417.5,874.8 L418.1,877.2 L418.7,878.2 L419.3,876.7 L419.9,875.9 L420.5,876.5 L421.1,875.7 L421.7,875.6 L422.3,874.9 L422.9,873.7 L423.5,872.7 L424.1,868.8 L424.7,869.1 L425.3,862.9 L425.9,863.1 L426.5,860.3 L427.1,858.6 L427.7,854.5 L428.3,851.7 L428.9,843.2 L429.5,840.8 L430.1,836.0 L430.7,834.3 L431.3,829.7 L431.9,822.6 L432.5,816.4 L433.1,810.0 L433.7,805.9 L434.3,802.5 L434.9,798.3 L435.5,789.7 L436.1,779.6 L436.7,773.6 L437.3,774.3 L437.9,763.1 L438.5,759.5 L439.1,746.5 L439.7,754.1 L440.3,749.5 L440.9,742.7 L441.5,740.9 L442.1,742.6 L442.7,738.5 L443.3,738.3 L443.9,737.0 L444.5,734.0 L445.1,736.2 L445.7,740.2 L446.3,737.0 L446.9,745.3 L447.5,748.8 L448.1,743.8 L448.7,743.6 L449.3,746.1 L449.9,758.8 L450.5,757.2 L451.1,758.2 L451.7,766.1 L452.3,763.2 L452.9,766.9 L453.5,771.0 L454.1,777.4 L454.7,777.3 L455.3,783.1 L455.9,790.9 L456.5,791.9 L457.1,795.4 L457.7,804.7 L458.3,805.3 L458.9,811.4 L459.5,819.2 L460.1,822.0 L460.7,830.8 L461.3,830.2 L461.9,828.8 L462.5,836.4 L463.1,840.4 L463.7,845.2 L464.3,843.4 L464.9,848.3 L465.5,854.4 L466.1,855.9 L466.7,860.0 L467.3,859.1 L467.9,862.7 L468.5,864.3 L469.1,868.7 L469.7,867.0 L470.3,871.1 L470.9,871.8 L471.5,872.8 L472.1,873.0 L472.7,873.5 L473.3,874.0 L473.9,876.8 L474.5,876.9 L475.1,879.6 L475.7,880.1 L476.3,880.7 L476.9,881.7 L477.5,881.4 L478.1,882.4 L478.7,881.2 L479.3,882.0 L479.9,883.3 L480.5,883.1 L481.1,884.2 L481.7,883.8 L482.3,883.5 L482.9,884.4 L483.5,884.3 L484.1,884.2 L484.7,884.3 L485.3,884.2 L485.9,884.4 L486.5,884.8 L487.1,884.5 L487.7,884.7 L488.3,884.6 L488.9,884.8 L489.5,884.9 L490.1,885.0 L490.7,884.9 L491.3,884.8 L491.9,884.9 L492.5,885.0 L493.1,885.0 L493.7,885.0 L494.3,885.0 L494.9,885.0 L495.5,885.0 L496.1,885.0 L496.7,884.9 L497.3,885.0 L497.9,884.9 L498.5,885.0 L499.1,885.0 L499.7,885.0 L500.3,885.0 L500.9,885.0 L501.5,885.0 L502.1,885.0 L502.7,885.0 L503.3,885.0 L503.9,885.0 L504.5,885.0 L505.1,885.0 L505.7,885.0 L506.3,885.0 L506.9,885.0 L507.5,885.0 L508.1,885.0 L508.7,885.0 L509.3,885.0 L509.9,885.0 L510.5,885.0 L511.1,885.0 L511.7,885.0 L512.3,885.0 L512.9,885.0 L513.5,885.0 L514.1,885.0 L514.7,885.0 L515.3,885.0 L515.9,885.0 L516.5,885.0 L517.1,885.0 L517.7,885.0 L518.3,885.0 L518.9,885.0 L519.5,885.0 L520.1,885.0 L520.7,885.0 L521.3,885.0 L521.9,885.0 L522.5,885.0 L523.1,885.0 L523.7,885.0 L524.3,885.0 L524.9,885.0 L525.5,885.0 L526.1,885.0 L526.7,885.0 L527.3,885.0 L527.9,885.0 L528.5,885.0 L529.1,885.0 L529.7,885.0 L530.3,885.0 L530.9,885.0 L531.5,885.0 L532.1,885.0 L532.7,885.0 L533.3,885.0 L533.9,885.0 L534.5,885.0 L535.1,885.0 L535.7,885.0 L536.3,885.0 L536.9,885.0 L537.5,885.0 L538.1,885.0 L538.7,885.0 L539.3,885.0 L539.9,885.0 L540.5,885.0 L541.1,885.0 L541.7,885.0 L542.3,885.0 L542.9,885.0 L543.5,885.0 L544.1,885.0 L544.7,885.0 L545.3,885.0 L545.9,885.0 L546.5,885.0 L547.1,885.0 L547.7,885.0 L548.3,885.0 L548.9,885.0 L549.5,885.0 L550.1,885.0 L550.7,885.0 L551.3,885.0 L551.9,885.0 L552.5,885.0 L553.1,885.0 L553.7,885.0 L554.3,885.0 L554.9,885.0 L555.5,885.0 L556.1,885.0 L556.7,885.0 L557.3,885.0 L557.9,885.0 L558.5,885.0 L559.1,885.0 L559.7,885.0 L560.3,885.0 L560.9,885.0 L561.5,885.0 L562.1,885.0 L562.7,885.0 L563.3,885.0 L563.9,885.0 L564.5,885.0 L565.1,885.0 L565.7,885.0 L566.3,885.0 L566.9,885.0 L567.5,885.0 L568.1,885.0 L568.7,885.0 L569.3,885.0 L569.9,885.0 L570.5,885.0 L571.1,885.0 L571.7,885.0 L572.3,885.0 L572.9,885.0 L573.5,885.0 L574.1,885.0 L574.7,885.0 L575.3,885.0 L575.9,885.0 L576.5,885.0 L577.1,885.0 L577.7,885.0 L578.3,885.0 L578.9,885.0 L579.5,885.0 L580.1,885.0 L580.7,885.0 L581.3,885.0 L581.9,885.0 L582.5,885.0 L583.1,885.0 L583.7,885.0 L584.3,885.0 L584.9,885.0 L585.5,885.0 L586.1,885.0 L586.7,885.0 L587.3,885.0 L587.9,885.0 L588.5,885.0 L589.1,885.0 L589.7,885.0 L590.3,885.0 L590.9,885.0 L591.5,885.0 L592.1,885.0 L592.7,885.0 L593.3,885.0 L593.9,885.0 L594.5,885.0 L595.1,885.0 L595.7,885.0 L596.3,885.0 L596.9,885.0 L597.5,885.0 L598.1,885.0 L598.7,885.0 L599.3,885.0 L599.9,885.0 L600.5,885.0 L601.1,885.0 L601.7,885.0 L602.3,885.0 L602.9,885.0 L603.5,885.0 L604.1,885.0 L604.7,885.0 L605.3,885.0 L605.9,885.0 L606.5,885.0 L607.1,885.0 L607.7,885.0 L608.3,885.0 L608.9,885.0 L609.5,885.0 L610.1,885.0 L610.7,885.0 L611.3,885.0 L611.9,885.0 L612.5,885.0 L613.1,885.0 L613.7,885.0 L614.3,885.0 L614.9,885.0 L615.5,885.0 L616.1,885.0 L616.7,885.0 L617.3,885.0 L617.9,885.0 L618.5,885.0 L619.1,885.0 L619.7,885.0 L620.3,885.0 L620.9,885.0 L621.5,885.0 L622.1,885.0 L622.7,885.0 L623.3,885.0 L623.9,885.0 L624.5,885.0 L625.1,885.0 L625.7,885.0 L626.3,885.0 L626.9,885.0 L627.5,885.0 L628.1,885.0 L628.7,885.0 L629.3,885.0 L629.9,885.0 L630.5,885.0 L631.1,885.0 L631.7,885.0 L632.3,885.0 L632.9,885.0 L633.5,885.0 L634.1,885.0 L634.7,885.0 L635.3,885.0 L635.9,885.0 L636.5,885.0 L637.1,885.0 L637.7,885.0 L638.3,885.0 L638.9,885.0 L639.5,885.0 L640.1,885.0 L640.7,885.0 L641.3,885.0 L641.9,885.0 L642.5,885.0 L643.1,885.0 L643.7,885.0 L644.3,885.0 L644.9,885.0 L645.5,885.0 L646.1,885.0 L646.7,885.0 L647.3,885.0 L647.9,885.0 L648.5,885.0 L649.1,885.0 L649.7,885.0 L650.3,885.0 L650.9,885.0 L651.5,885.0 L652.1,885.0 L652.7,885.0 L653.3,885.0 L653.9,885.0 L654.5,885.0 L655.1,885.0 L655.7,885.0 L656.3,885.0 L656.9,885.0 L657.5,885.0 L658.1,885.0 L658.7,885.0 L659.3,885.0 L659.9,885.0 L660.5,885.0 L661.1,885.0 L661.7,885.0 L662.3,885.0 L662.9,885.0 L663.5,885.0 L664.1,885.0 L664.7,885.0 L665.3,885.0 L665.9,885.0 L666.5,885.0 L667.1,885.0 L667.7,885.0 L668.3,885.0 L668.9,885.0 L669.5,885.0 L670.1,885.0" fill="none" stroke="#e82222" stroke-width="2.2" stroke-linejoin="round"/>
<path d="M369.5,885.0 L370.1,885.0 L370.7,885.0 L371.3,885.0 L371.9,885.0 L372.5,885.0 L373.1,885.0 L373.7,885.0 L374.3,885.0 L374.9,885.0 L375.5,885.0 L376.1,885.0 L376.7,885.0 L377.3,885.0 L377.9,885.0 L378.5,885.0 L379.1,885.0 L379.7,885.0 L380.3,885.0 L380.9,885.0 L381.5,885.0 L382.1,885.0 L382.7,885.0 L383.3,885.0 L383.9,885.0 L384.5,885.0 L385.1,885.0 L385.7,885.0 L386.3,885.0 L386.9,885.0 L387.5,885.0 L388.1,885.0 L388.7,885.0 L389.3,885.0 L389.9,885.0 L390.5,885.0 L391.1,885.0 L391.7,885.0 L392.3,885.0 L392.9,885.0 L393.5,885.0 L394.1,885.0 L394.7,885.0 L395.3,885.0 L395.9,885.0 L396.5,885.0 L397.1,885.0 L397.7,885.0 L398.3,885.0 L398.9,885.0 L399.5,885.0 L400.1,885.0 L400.7,885.0 L401.3,885.0 L401.9,885.0 L402.5,885.0 L403.1,885.0 L403.7,885.0 L404.3,885.0 L404.9,885.0 L405.5,885.0 L406.1,884.9 L406.7,885.0 L407.3,885.0 L407.9,884.9 L408.5,884.9 L409.1,885.0 L409.7,884.8 L410.3,884.6 L410.9,884.8 L411.5,885.0 L412.1,885.0 L412.7,885.0 L413.3,884.8 L413.9,884.9 L414.5,884.7 L415.1,884.6 L415.7,884.8 L416.3,884.4 L416.9,884.8 L417.5,884.8 L418.1,884.8 L418.7,884.6 L419.3,884.1 L419.9,885.0 L420.5,885.0 L421.1,884.1 L421.7,883.8 L422.3,883.4 L422.9,883.2 L423.5,883.6 L424.1,883.8 L424.7,882.5 L425.3,881.7 L425.9,880.9 L426.5,881.2 L427.1,880.6 L427.7,880.5 L428.3,880.2 L428.9,877.8 L429.5,877.4 L430.1,878.1 L430.7,876.2 L431.3,875.1 L431.9,872.7 L432.5,874.9 L433.1,873.8 L433.7,871.5 L434.3,871.6 L434.9,871.7 L435.5,870.7 L436.1,865.8 L436.7,863.7 L437.3,862.6 L437.9,862.3 L438.5,854.1 L439.1,854.9 L439.7,849.3 L440.3,852.6 L440.9,848.1 L441.5,847.2 L442.1,842.1 L442.7,844.1 L443.3,840.2 L443.9,832.7 L444.5,825.0 L445.1,827.4 L445.7,825.6 L446.3,819.7 L446.9,815.9 L447.5,810.8 L448.1,813.3 L448.7,812.4 L449.3,802.0 L449.9,796.1 L450.5,797.5 L451.1,786.6 L451.7,787.3 L452.3,786.3 L452.9,783.2 L453.5,786.9 L454.1,775.8 L454.7,777.6 L455.3,774.1 L455.9,770.3 L456.5,771.3 L457.1,768.5 L457.7,767.5 L458.3,762.2 L458.9,758.0 L459.5,767.4 L460.1,768.1 L460.7,764.5 L461.3,758.9 L461.9,764.5 L462.5,757.6 L463.1,759.4 L463.7,762.8 L464.3,762.8 L464.9,757.9 L465.5,774.9 L466.1,765.9 L466.7,778.5 L467.3,787.4 L467.9,785.3 L468.5,785.9 L469.1,780.8 L469.7,786.2 L470.3,783.2 L470.9,791.9 L471.5,799.4 L472.1,795.7 L472.7,803.0 L473.3,805.9 L473.9,817.7 L474.5,819.1 L475.1,823.5 L475.7,824.6 L476.3,828.8 L476.9,831.9 L477.5,831.3 L478.1,840.2 L478.7,841.1 L479.3,841.1 L479.9,846.2 L480.5,851.7 L481.1,855.3 L481.7,858.4 L482.3,859.7 L482.9,860.6 L483.5,861.9 L484.1,862.1 L484.7,867.4 L485.3,868.3 L485.9,871.2 L486.5,870.5 L487.1,872.1 L487.7,874.2 L488.3,873.9 L488.9,875.6 L489.5,876.7 L490.1,878.0 L490.7,877.2 L491.3,877.8 L491.9,878.3 L492.5,880.1 L493.1,880.3 L493.7,883.6 L494.3,882.1 L494.9,883.8 L495.5,883.9 L496.1,883.4 L496.7,883.8 L497.3,883.2 L497.9,883.7 L498.5,884.1 L499.1,885.0 L499.7,884.4 L500.3,884.4 L500.9,884.7 L501.5,884.8 L502.1,884.2 L502.7,884.8 L503.3,884.8 L503.9,884.8 L504.5,884.9 L505.1,884.8 L505.7,884.7 L506.3,884.9 L506.9,885.0 L507.5,884.9 L508.1,885.0 L508.7,884.9 L509.3,885.0 L509.9,885.0 L510.5,884.9 L511.1,885.0 L511.7,885.0 L512.3,884.9 L512.9,884.9 L513.5,885.0 L514.1,885.0 L514.7,885.0 L515.3,885.0 L515.9,885.0 L516.5,885.0 L517.1,885.0 L517.7,885.0 L518.3,885.0 L518.9,885.0 L519.5,885.0 L520.1,885.0 L520.7,885.0 L521.3,885.0 L521.9,885.0 L522.5,885.0 L523.1,885.0 L523.7,885.0 L524.3,885.0 L524.9,885.0 L525.5,885.0 L526.1,885.0 L526.7,885.0 L527.3,885.0 L527.9,885.0 L528.5,885.0 L529.1,885.0 L529.7,885.0 L530.3,885.0 L530.9,885.0 L531.5,885.0 L532.1,885.0 L532.7,885.0 L533.3,885.0 L533.9,885.0 L534.5,885.0 L535.1,885.0 L535.7,885.0 L536.3,885.0 L536.9,885.0 L537.5,885.0 L538.1,885.0 L538.7,885.0 L539.3,885.0 L539.9,885.0 L540.5,885.0 L541.1,885.0 L541.7,885.0 L542.3,885.0 L542.9,885.0 L543.5,885.0 L544.1,885.0 L544.7,885.0 L545.3,885.0 L545.9,885.0 L546.5,885.0 L547.1,885.0 L547.7,885.0 L548.3,885.0 L548.9,885.0 L549.5,885.0 L550.1,885.0 L550.7,885.0 L551.3,885.0 L551.9,885.0 L552.5,885.0 L553.1,885.0 L553.7,885.0 L554.3,885.0 L554.9,885.0 L555.5,885.0 L556.1,885.0 L556.7,885.0 L557.3,885.0 L557.9,885.0 L558.5,885.0 L559.1,885.0 L559.7,885.0 L560.3,885.0 L560.9,885.0 L561.5,885.0 L562.1,885.0 L562.7,885.0 L563.3,885.0 L563.9,885.0 L564.5,885.0 L565.1,885.0 L565.7,885.0 L566.3,885.0 L566.9,885.0 L567.5,885.0 L568.1,885.0 L568.7,885.0 L569.3,885.0 L569.9,885.0 L570.5,885.0 L571.1,885.0 L571.7,885.0 L572.3,885.0 L572.9,885.0 L573.5,885.0 L574.1,885.0 L574.7,885.0 L575.3,885.0 L575.9,885.0 L576.5,885.0 L577.1,885.0 L577.7,885.0 L578.3,885.0 L578.9,885.0 L579.5,885.0 L580.1,885.0 L580.7,885.0 L581.3,885.0 L581.9,885.0 L582.5,885.0 L583.1,885.0 L583.7,885.0 L584.3,885.0 L584.9,885.0 L585.5,885.0 L586.1,885.0 L586.7,885.0 L587.3,885.0 L587.9,885.0 L588.5,885.0 L589.1,885.0 L589.7,885.0 L590.3,885.0 L590.9,885.0 L591.5,885.0 L592.1,885.0 L592.7,885.0 L593.3,885.0 L593.9,885.0 L594.5,885.0 L595.1,885.0 L595.7,885.0 L596.3,885.0 L596.9,885.0 L597.5,885.0 L598.1,885.0 L598.7,885.0 L599.3,885.0 L599.9,885.0 L600.5,885.0 L601.1,885.0 L601.7,885.0 L602.3,885.0 L602.9,885.0 L603.5,885.0 L604.1,885.0 L604.7,885.0 L605.3,885.0 L605.9,885.0 L606.5,885.0 L607.1,885.0 L607.7,885.0 L608.3,885.0 L608.9,885.0 L609.5,885.0 L610.1,885.0 L610.7,885.0 L611.3,885.0 L611.9,885.0 L612.5,885.0 L613.1,885.0 L613.7,885.0 L614.3,885.0 L614.9,885.0 L615.5,885.0 L616.1,885.0 L616.7,885.0 L617.3,885.0 L617.9,885.0 L618.5,885.0 L619.1,885.0 L619.7,885.0 L620.3,885.0 L620.9,885.0 L621.5,885.0 L622.1,885.0 L622.7,885.0 L623.3,885.0 L623.9,885.0 L624.5,885.0 L625.1,885.0 L625.7,885.0 L626.3,885.0 L626.9,885.0 L627.5,885.0 L628.1,885.0 L628.7,885.0 L629.3,885.0 L629.9,885.0 L630.5,885.0 L631.1,885.0 L631.7,885.0 L632.3,885.0 L632.9,885.0 L633.5,885.0 L634.1,885.0 L634.7,885.0 L635.3,885.0 L635.9,885.0 L636.5,885.0 L637.1,885.0 L637.7,885.0 L638.3,885.0 L638.9,885.0 L639.5,885.0 L640.1,885.0 L640.7,885.0 L641.3,885.0 L641.9,885.0 L642.5,885.0 L643.1,885.0 L643.7,885.0 L644.3,885.0 L644.9,885.0 L645.5,885.0 L646.1,885.0 L646.7,885.0 L647.3,885.0 L647.9,885.0 L648.5,885.0 L649.1,885.0 L649.7,885.0 L650.3,885.0 L650.9,885.0 L651.5,885.0 L652.1,885.0 L652.7,885.0 L653.3,885.0 L653.9,885.0 L654.5,885.0 L655.1,885.0 L655.7,885.0 L656.3,885.0 L656.9,885.0 L657.5,885.0 L658.1,885.0 L658.7,885.0 L659.3,885.0 L659.9,885.0 L660.5,885.0 L661.1,885.0 L661.7,885.0 L662.3,885.0 L662.9,885.0 L663.5,885.0 L664.1,885.0 L664.7,885.0 L665.3,885.0 L665.9,885.0 L666.5,885.0 L667.1,885.0 L667.7,885.0 L668.3,885.0 L668.9,885.0 L669.5,885.0 L670.1,885.0" fill="none" stroke="#22dd22" stroke-width="2.2" stroke-linejoin="round"/>
<text x="665.7" y="727.6" font-size="17.6" font-weight="bold" text-anchor="end" fill="#000" letter-spacing="0.3">LDL Intake</text>
<line x1="200.40" y1="917.60" x2="275.90" y2="917.60" stroke="#555" stroke-width="2" />
<text x="290.4" y="920.2" font-size="14.5" font-weight="bold" text-anchor="start" fill="#000" >Fluorescence Intensity</text>
<line x1="447.00" y1="917.60" x2="527.80" y2="917.60" stroke="#333" stroke-width="2" />
<path d="M514.8,910.1 L528.8,917.6 L514.8,925.1" fill="none" stroke="#000" stroke-width="3.4"/>
<text x="4.5" y="957.5" font-size="25" font-weight="normal" text-anchor="start" fill="#000" >E</text>
<line x1="25.60" y1="969.90" x2="25.60" y2="1020.90" stroke="#333" stroke-width="2" />
<path d="M18.1,981.9 L25.6,970.9 L33.1,981.9" fill="none" stroke="#000" stroke-width="3.6" stroke-linejoin="miter"/>
<text x="0" y="0" font-size="18" font-weight="bold" text-anchor="middle" transform="translate(29.7,1063.4) rotate(-90)">Count</text>
<line x1="25.60" y1="1101.70" x2="25.60" y2="1125.30" stroke="#222" stroke-width="2" />
<line x1="42.90" y1="940.40" x2="275.00" y2="940.40" stroke="#666" stroke-width="1.4" />
<line x1="275.00" y1="940.40" x2="275.00" y2="1136.80" stroke="#444" stroke-width="1.6" />
<line x1="42.90" y1="940.40" x2="42.90" y2="1136.80" stroke="#ccc" stroke-width="1.6" />
<line x1="42.90" y1="1136.80" x2="275.00" y2="1136.80" stroke="#bbb" stroke-width="1.2" />
<line x1="40.70" y1="1117.16" x2="42.90" y2="1117.16" stroke="#444" stroke-width="1.2" />
<line x1="40.70" y1="1097.52" x2="42.90" y2="1097.52" stroke="#444" stroke-width="1.2" />
<line x1="40.70" y1="1077.88" x2="42.90" y2="1077.88" stroke="#444" stroke-width="1.2" />
<line x1="40.70" y1="1058.24" x2="42.90" y2="1058.24" stroke="#444" stroke-width="1.2" />
<line x1="40.70" y1="1038.60" x2="42.90" y2="1038.60" stroke="#444" stroke-width="1.2" />
<line x1="40.70" y1="1018.96" x2="42.90" y2="1018.96" stroke="#444" stroke-width="1.2" />
<line x1="40.70" y1="999.32" x2="42.90" y2="999.32" stroke="#444" stroke-width="1.2" />
<line x1="40.70" y1="979.68" x2="42.90" y2="979.68" stroke="#444" stroke-width="1.2" />
<line x1="40.70" y1="960.04" x2="42.90" y2="960.04" stroke="#444" stroke-width="1.2" />
<line x1="58.27" y1="1136.80" x2="58.27" y2="1138.40" stroke="#444" stroke-width="1.1" />
<line x1="68.43" y1="1136.80" x2="68.43" y2="1138.40" stroke="#444" stroke-width="1.1" />
<line x1="75.64" y1="1136.80" x2="75.64" y2="1138.40" stroke="#444" stroke-width="1.1" />
<line x1="81.23" y1="1136.80" x2="81.23" y2="1138.40" stroke="#444" stroke-width="1.1" />
<line x1="85.80" y1="1136.80" x2="85.80" y2="1138.40" stroke="#444" stroke-width="1.1" />
<line x1="89.66" y1="1136.80" x2="89.66" y2="1138.40" stroke="#444" stroke-width="1.1" />
<line x1="93.01" y1="1136.80" x2="93.01" y2="1138.40" stroke="#444" stroke-width="1.1" />
<line x1="95.96" y1="1136.80" x2="95.96" y2="1138.40" stroke="#444" stroke-width="1.1" />
<line x1="98.60" y1="1136.80" x2="98.60" y2="1139.00" stroke="#444" stroke-width="1.1" />
<line x1="115.97" y1="1136.80" x2="115.97" y2="1138.40" stroke="#444" stroke-width="1.1" />
<line x1="126.13" y1="1136.80" x2="126.13" y2="1138.40" stroke="#444" stroke-width="1.1" />
<line x1="133.34" y1="1136.80" x2="133.34" y2="1138.40" stroke="#444" stroke-width="1.1" />
<line x1="138.93" y1="1136.80" x2="138.93" y2="1138.40" stroke="#444" stroke-width="1.1" />
<line x1="143.50" y1="1136.80" x2="143.50" y2="1138.40" stroke="#444" stroke-width="1.1" />
<line x1="147.36" y1="1136.80" x2="147.36" y2="1138.40" stroke="#444" stroke-width="1.1" />
<line x1="150.71" y1="1136.80" x2="150.71" y2="1138.40" stroke="#444" stroke-width="1.1" />
<line x1="153.66" y1="1136.80" x2="153.66" y2="1138.40" stroke="#444" stroke-width="1.1" />
<line x1="156.30" y1="1136.80" x2="156.30" y2="1139.00" stroke="#444" stroke-width="1.1" />
<line x1="173.67" y1="1136.80" x2="173.67" y2="1138.40" stroke="#444" stroke-width="1.1" />
<line x1="183.83" y1="1136.80" x2="183.83" y2="1138.40" stroke="#444" stroke-width="1.1" />
<line x1="191.04" y1="1136.80" x2="191.04" y2="1138.40" stroke="#444" stroke-width="1.1" />
<line x1="196.63" y1="1136.80" x2="196.63" y2="1138.40" stroke="#444" stroke-width="1.1" />
<line x1="201.20" y1="1136.80" x2="201.20" y2="1138.40" stroke="#444" stroke-width="1.1" />
<line x1="205.06" y1="1136.80" x2="205.06" y2="1138.40" stroke="#444" stroke-width="1.1" />
<line x1="208.41" y1="1136.80" x2="208.41" y2="1138.40" stroke="#444" stroke-width="1.1" />
<line x1="211.36" y1="1136.80" x2="211.36" y2="1138.40" stroke="#444" stroke-width="1.1" />
<line x1="214.00" y1="1136.80" x2="214.00" y2="1139.00" stroke="#444" stroke-width="1.1" />
<line x1="231.37" y1="1136.80" x2="231.37" y2="1138.40" stroke="#444" stroke-width="1.1" />
<line x1="241.53" y1="1136.80" x2="241.53" y2="1138.40" stroke="#444" stroke-width="1.1" />
<line x1="248.74" y1="1136.80" x2="248.74" y2="1138.40" stroke="#444" stroke-width="1.1" />
<line x1="254.33" y1="1136.80" x2="254.33" y2="1138.40" stroke="#444" stroke-width="1.1" />
<line x1="258.90" y1="1136.80" x2="258.90" y2="1138.40" stroke="#444" stroke-width="1.1" />
<line x1="262.76" y1="1136.80" x2="262.76" y2="1138.40" stroke="#444" stroke-width="1.1" />
<line x1="266.11" y1="1136.80" x2="266.11" y2="1138.40" stroke="#444" stroke-width="1.1" />
<line x1="269.06" y1="1136.80" x2="269.06" y2="1138.40" stroke="#444" stroke-width="1.1" />
<line x1="271.70" y1="1136.80" x2="271.70" y2="1139.00" stroke="#444" stroke-width="1.1" />
<text x="90.9" y="1156.0" font-size="14.2" fill="#333">10<tspan dy="-5.6" font-size="9">0</tspan></text>
<text x="148.2" y="1156.0" font-size="14.2" fill="#333">10<tspan dy="-5.6" font-size="9">1</tspan></text>
<text x="206.5" y="1156.0" font-size="14.2" fill="#333">10<tspan dy="-5.6" font-size="9">2</tspan></text>
<text x="263.9" y="1156.0" font-size="14.2" fill="#333">10<tspan dy="-5.6" font-size="9">3</tspan></text>
<path d="M42.9,1114.2 L43.5,1110.0 L44.1,1109.0 L44.7,1110.7 L45.3,1102.1 L45.9,1113.6 L46.5,1107.9 L47.1,1107.2 L47.7,1103.2 L48.3,1103.3 L48.9,1096.9 L49.5,1097.2 L50.1,1094.8 L50.7,1091.0 L51.3,1082.6 L51.9,1085.0 L52.5,1077.2 L53.1,1072.9 L53.7,1068.1 L54.3,1067.4 L54.9,1049.8 L55.5,1053.9 L56.1,1046.5 L56.7,1032.3 L57.3,1038.2 L57.9,1032.9 L58.5,1021.1 L59.1,1006.6 L59.7,1002.0 L60.3,994.6 L60.9,1005.3 L61.5,985.0 L62.1,988.0 L62.7,962.0 L63.3,971.5 L63.9,979.5 L64.5,967.3 L65.1,949.2 L65.7,953.5 L66.3,959.0 L66.9,953.5 L67.5,951.0 L68.1,952.0 L68.7,951.2 L69.3,944.8 L69.9,952.2 L70.5,959.0 L71.1,960.8 L71.7,948.0 L72.3,954.3 L72.9,971.0 L73.5,955.3 L74.1,969.1 L74.7,968.1 L75.3,983.4 L75.9,985.9 L76.5,999.4 L77.1,1007.1 L77.7,1007.3 L78.3,1017.4 L78.9,1021.4 L79.5,1036.4 L80.1,1039.7 L80.7,1041.1 L81.3,1051.3 L81.9,1069.9 L82.5,1076.0 L83.1,1080.6 L83.7,1083.1 L84.3,1084.9 L84.9,1097.0 L85.5,1103.6 L86.1,1103.2 L86.7,1110.9 L87.3,1118.6 L87.9,1120.4 L88.5,1122.5 L89.1,1125.8 L89.7,1128.1 L90.3,1130.4 L90.9,1130.1 L91.5,1131.8 L92.1,1131.0 L92.7,1131.7 L93.3,1133.7 L93.9,1134.5 L94.5,1134.7 L95.1,1134.8 L95.7,1136.3 L96.3,1136.3 L96.9,1135.8 L97.5,1135.6 L98.1,1136.7 L98.7,1136.5 L99.3,1136.2 L99.9,1136.4 L100.5,1136.7 L101.1,1136.8 L101.7,1136.8 L102.3,1136.8 L102.9,1136.8 L103.5,1136.8 L104.1,1136.8 L104.7,1136.8 L105.3,1136.8 L105.9,1136.8 L106.5,1136.8 L107.1,1136.8 L107.7,1136.8 L108.3,1136.8 L108.9,1136.8 L109.5,1136.8 L110.1,1136.8 L110.7,1136.8 L111.3,1136.8 L111.9,1136.8 L112.5,1136.8 L113.1,1136.8 L113.7,1136.8 L114.3,1136.8 L114.9,1136.8 L115.5,1136.8 L116.1,1136.8 L116.7,1136.8 L117.3,1136.8 L117.9,1136.8 L118.5,1136.8 L119.1,1136.8 L119.7,1136.8 L120.3,1136.8 L120.9,1136.8 L121.5,1136.8 L122.1,1136.8 L122.7,1136.8 L123.3,1136.8 L123.9,1136.8 L124.5,1136.8 L125.1,1136.8 L125.7,1136.8 L126.3,1136.8 L126.9,1136.8 L127.5,1136.8 L128.1,1136.8 L128.7,1136.8 L129.3,1136.8 L129.9,1136.8 L130.5,1136.8 L131.1,1136.8 L131.7,1136.8 L132.3,1136.8 L132.9,1136.8 L133.5,1136.8 L134.1,1136.8 L134.7,1136.8 L135.3,1136.8 L135.9,1136.8 L136.5,1136.8 L137.1,1136.8 L137.7,1136.8 L138.3,1136.8 L138.9,1136.8 L139.5,1136.8 L140.1,1136.8 L140.7,1136.8 L141.3,1136.8 L141.9,1136.8 L142.5,1136.8 L143.1,1136.8 L143.7,1136.8 L144.3,1136.8 L144.9,1136.8 L145.5,1136.8 L146.1,1136.8 L146.7,1136.8 L147.3,1136.8 L147.9,1136.8 L148.5,1136.8 L149.1,1136.8 L149.7,1136.8 L150.3,1136.8 L150.9,1136.8 L151.5,1136.8 L152.1,1136.8 L152.7,1136.8 L153.3,1136.8 L153.9,1136.8 L154.5,1136.8 L155.1,1136.8 L155.7,1136.8 L156.3,1136.8 L156.9,1136.8 L157.5,1136.8 L158.1,1136.8 L158.7,1136.8 L159.3,1136.8 L159.9,1136.8 L160.5,1136.8 L161.1,1136.8 L161.7,1136.8 L162.3,1136.8 L162.9,1136.8 L163.5,1136.8 L164.1,1136.8 L164.7,1136.8 L165.3,1136.8 L165.9,1136.8 L166.5,1136.8 L167.1,1136.8 L167.7,1136.8 L168.3,1136.8 L168.9,1136.8 L169.5,1136.8 L170.1,1136.8 L170.7,1136.8 L171.3,1136.8 L171.9,1136.8 L172.5,1136.8 L173.1,1136.8 L173.7,1136.8 L174.3,1136.8 L174.9,1136.8 L175.5,1136.8 L176.1,1136.8 L176.7,1136.8 L177.3,1136.8 L177.9,1136.8 L178.5,1136.8 L179.1,1136.8 L179.7,1136.8 L180.3,1136.8 L180.9,1136.8 L181.5,1136.8 L182.1,1136.8 L182.7,1136.8 L183.3,1136.8 L183.9,1136.8 L184.5,1136.8 L185.1,1136.8 L185.7,1136.8 L186.3,1136.8 L186.9,1136.8 L187.5,1136.8 L188.1,1136.8 L188.7,1136.8 L189.3,1136.8 L189.9,1136.8 L190.5,1136.8 L191.1,1136.8 L191.7,1136.8 L192.3,1136.8 L192.9,1136.8 L193.5,1136.8 L194.1,1136.8 L194.7,1136.8 L195.3,1136.8 L195.9,1136.8 L196.5,1136.8 L197.1,1136.8 L197.7,1136.8 L198.3,1136.8 L198.9,1136.8 L199.5,1136.8 L200.1,1136.8 L200.7,1136.8 L201.3,1136.8 L201.9,1136.8 L202.5,1136.8 L203.1,1136.8 L203.7,1136.8 L204.3,1136.8 L204.9,1136.8 L205.5,1136.8 L206.1,1136.8 L206.7,1136.8 L207.3,1136.8 L207.9,1136.8 L208.5,1136.8 L209.1,1136.8 L209.7,1136.8 L210.3,1136.8 L210.9,1136.8 L211.5,1136.8 L212.1,1136.8 L212.7,1136.8 L213.3,1136.8 L213.9,1136.8 L214.5,1136.8 L215.1,1136.8 L215.7,1136.8 L216.3,1136.8 L216.9,1136.8 L217.5,1136.8 L218.1,1136.8 L218.7,1136.8 L219.3,1136.8 L219.9,1136.8 L220.5,1136.8 L221.1,1136.8 L221.7,1136.8 L222.3,1136.8 L222.9,1136.8 L223.5,1136.8 L224.1,1136.8 L224.7,1136.8 L225.3,1136.8 L225.9,1136.8 L226.5,1136.8 L227.1,1136.8 L227.7,1136.8 L228.3,1136.8 L228.9,1136.8 L229.5,1136.8 L230.1,1136.8 L230.7,1136.8 L231.3,1136.8 L231.9,1136.8 L232.5,1136.8 L233.1,1136.8 L233.7,1136.8 L234.3,1136.8 L234.9,1136.8 L235.5,1136.8 L236.1,1136.8 L236.7,1136.8 L237.3,1136.8 L237.9,1136.8 L238.5,1136.8 L239.1,1136.8 L239.7,1136.8 L240.3,1136.8 L240.9,1136.8 L241.5,1136.8 L242.1,1136.8 L242.7,1136.8 L243.3,1136.8 L243.9,1136.8 L244.5,1136.8 L245.1,1136.8 L245.7,1136.8 L246.3,1136.8 L246.9,1136.8 L247.5,1136.8 L248.1,1136.8 L248.7,1136.8 L249.3,1136.8 L249.9,1136.8 L250.5,1136.8 L251.1,1136.8 L251.7,1136.8 L252.3,1136.8 L252.9,1136.8 L253.5,1136.8 L254.1,1136.8 L254.7,1136.8 L255.3,1136.8 L255.9,1136.8 L256.5,1136.8 L257.1,1136.8 L257.7,1136.8 L258.3,1136.8 L258.9,1136.8 L259.5,1136.8 L260.1,1136.8 L260.7,1136.8 L261.3,1136.8 L261.9,1136.8 L262.5,1136.8 L263.1,1136.8 L263.7,1136.8 L264.3,1136.8 L264.9,1136.8 L265.5,1136.8 L266.1,1136.8 L266.7,1136.8 L267.3,1136.8 L267.9,1136.8 L268.5,1136.8 L269.1,1136.8 L269.7,1136.8 L270.3,1136.8 L270.9,1136.8 L271.5,1136.8 L272.1,1136.8 L272.7,1136.8 L273.3,1136.8 L273.9,1136.8 L274.5,1136.8" fill="none" stroke="#a0a0a0" stroke-width="2.0" stroke-linejoin="round"/>
<path d="M42.9,1136.8 L43.5,1136.8 L44.1,1136.8 L44.7,1136.8 L45.3,1136.8 L45.9,1136.8 L46.5,1136.8 L47.1,1136.8 L47.7,1136.8 L48.3,1136.8 L48.9,1136.8 L49.5,1136.8 L50.1,1136.8 L50.7,1136.8 L51.3,1136.8 L51.9,1136.8 L52.5,1136.8 L53.1,1136.8 L53.7,1136.8 L54.3,1136.8 L54.9,1136.8 L55.5,1136.8 L56.1,1136.8 L56.7,1136.8 L57.3,1136.8 L57.9,1136.8 L58.5,1136.8 L59.1,1136.8 L59.7,1136.8 L60.3,1136.8 L60.9,1136.8 L61.5,1136.8 L62.1,1136.8 L62.7,1136.8 L63.3,1136.8 L63.9,1136.8 L64.5,1136.8 L65.1,1136.8 L65.7,1136.8 L66.3,1136.8 L66.9,1136.8 L67.5,1136.7 L68.1,1136.8 L68.7,1136.8 L69.3,1136.7 L69.9,1136.7 L70.5,1136.8 L71.1,1136.8 L71.7,1136.7 L72.3,1136.7 L72.9,1136.8 L73.5,1136.8 L74.1,1136.8 L74.7,1136.6 L75.3,1136.8 L75.9,1136.8 L76.5,1136.7 L77.1,1136.8 L77.7,1136.5 L78.3,1136.4 L78.9,1135.7 L79.5,1136.8 L80.1,1136.7 L80.7,1136.4 L81.3,1136.5 L81.9,1136.5 L82.5,1136.2 L83.1,1136.0 L83.7,1136.1 L84.3,1134.9 L84.9,1134.9 L85.5,1135.6 L86.1,1136.8 L86.7,1136.5 L87.3,1136.6 L87.9,1136.5 L88.5,1135.6 L89.1,1135.8 L89.7,1135.4 L90.3,1134.8 L90.9,1134.9 L91.5,1135.3 L92.1,1134.3 L92.7,1133.6 L93.3,1134.3 L93.9,1134.1 L94.5,1134.1 L95.1,1135.1 L95.7,1134.0 L96.3,1133.2 L96.9,1131.8 L97.5,1130.5 L98.1,1132.4 L98.7,1132.8 L99.3,1132.5 L99.9,1132.2 L100.5,1129.8 L101.1,1130.7 L101.7,1130.2 L102.3,1130.6 L102.9,1128.1 L103.5,1130.6 L104.1,1130.6 L104.7,1125.6 L105.3,1125.9 L105.9,1125.7 L106.5,1126.5 L107.1,1128.2 L107.7,1120.4 L108.3,1125.2 L108.9,1124.7 L109.5,1120.8 L110.1,1118.8 L110.7,1121.2 L111.3,1118.5 L111.9,1116.4 L112.5,1115.3 L113.1,1122.1 L113.7,1109.7 L114.3,1118.8 L114.9,1107.9 L115.5,1114.0 L116.1,1108.5 L116.7,1108.1 L117.3,1104.0 L117.9,1102.9 L118.5,1108.4 L119.1,1099.4 L119.7,1089.1 L120.3,1093.1 L120.9,1082.8 L121.5,1086.7 L122.1,1089.0 L122.7,1085.5 L123.3,1083.2 L123.9,1093.4 L124.5,1096.6 L125.1,1092.2 L125.7,1089.1 L126.3,1079.6 L126.9,1068.2 L127.5,1063.5 L128.1,1057.8 L128.7,1055.8 L129.3,1054.8 L129.9,1059.8 L130.5,1063.9 L131.1,1056.6 L131.7,1054.4 L132.3,1042.1 L132.9,1046.1 L133.5,1034.8 L134.1,1035.3 L134.7,1047.1 L135.3,1037.7 L135.9,1029.1 L136.5,1031.3 L137.1,1020.7 L137.7,1022.3 L138.3,1013.8 L138.9,1024.0 L139.5,1017.7 L140.1,1016.2 L140.7,1016.7 L141.3,1015.8 L141.9,1015.3 L142.5,1012.6 L143.1,1009.4 L143.7,1014.3 L144.3,1015.1 L144.9,1020.3 L145.5,1023.8 L146.1,1026.4 L146.7,1015.6 L147.3,1010.2 L147.9,1016.0 L148.5,1015.7 L149.1,1025.1 L149.7,1018.8 L150.3,1026.2 L150.9,1013.8 L151.5,1025.8 L152.1,1022.0 L152.7,1018.3 L153.3,1015.7 L153.9,1018.5 L154.5,1024.8 L155.1,1044.0 L155.7,1046.0 L156.3,1045.2 L156.9,1040.4 L157.5,1046.4 L158.1,1039.6 L158.7,1036.0 L159.3,1042.2 L159.9,1052.7 L160.5,1073.4 L161.1,1053.0 L161.7,1055.5 L162.3,1058.1 L162.9,1060.4 L163.5,1062.1 L164.1,1068.6 L164.7,1068.8 L165.3,1077.4 L165.9,1072.3 L166.5,1078.0 L167.1,1080.2 L167.7,1085.2 L168.3,1093.1 L168.9,1090.2 L169.5,1095.1 L170.1,1095.3 L170.7,1100.3 L171.3,1104.4 L171.9,1103.8 L172.5,1110.0 L173.1,1105.7 L173.7,1116.0 L174.3,1109.1 L174.9,1114.0 L175.5,1117.4 L176.1,1121.8 L176.7,1118.9 L177.3,1121.4 L177.9,1122.0 L178.5,1123.9 L179.1,1124.5 L179.7,1124.7 L180.3,1125.2 L180.9,1128.3 L181.5,1127.8 L182.1,1126.9 L182.7,1125.3 L183.3,1126.5 L183.9,1126.2 L184.5,1131.2 L185.1,1133.0 L185.7,1129.8 L186.3,1131.2 L186.9,1133.6 L187.5,1132.4 L188.1,1131.8 L188.7,1130.7 L189.3,1132.2 L189.9,1133.6 L190.5,1134.4 L191.1,1135.3 L191.7,1135.3 L192.3,1136.0 L192.9,1136.8 L193.5,1136.3 L194.1,1135.8 L194.7,1134.5 L195.3,1135.8 L195.9,1136.2 L196.5,1136.8 L197.1,1135.5 L197.7,1135.8 L198.3,1134.9 L198.9,1136.0 L199.5,1136.7 L200.1,1135.9 L200.7,1136.5 L201.3,1136.3 L201.9,1136.7 L202.5,1136.7 L203.1,1136.4 L203.7,1136.0 L204.3,1136.2 L204.9,1136.7 L205.5,1136.8 L206.1,1136.6 L206.7,1136.8 L207.3,1136.8 L207.9,1136.6 L208.5,1136.8 L209.1,1136.8 L209.7,1136.6 L210.3,1136.6 L210.9,1136.8 L211.5,1136.8 L212.1,1136.8 L212.7,1136.7 L213.3,1136.8 L213.9,1136.8 L214.5,1136.8 L215.1,1136.7 L215.7,1136.6 L216.3,1136.8 L216.9,1136.8 L217.5,1136.8 L218.1,1136.8 L218.7,1136.7 L219.3,1136.8 L219.9,1136.8 L220.5,1136.8 L221.1,1136.8 L221.7,1136.8 L222.3,1136.8 L222.9,1136.8 L223.5,1136.8 L224.1,1136.8 L224.7,1136.8 L225.3,1136.8 L225.9,1136.8 L226.5,1136.8 L227.1,1136.8 L227.7,1136.8 L228.3,1136.8 L228.9,1136.8 L229.5,1136.8 L230.1,1136.8 L230.7,1136.8 L231.3,1136.8 L231.9,1136.8 L232.5,1136.8 L233.1,1136.8 L233.7,1136.8 L234.3,1136.8 L234.9,1136.8 L235.5,1136.8 L236.1,1136.8 L236.7,1136.8 L237.3,1136.8 L237.9,1136.8 L238.5,1136.8 L239.1,1136.8 L239.7,1136.8 L240.3,1136.8 L240.9,1136.8 L241.5,1136.8 L242.1,1136.8 L242.7,1136.8 L243.3,1136.8 L243.9,1136.8 L244.5,1136.8 L245.1,1136.8 L245.7,1136.8 L246.3,1136.8 L246.9,1136.8 L247.5,1136.8 L248.1,1136.8 L248.7,1136.8 L249.3,1136.8 L249.9,1136.8 L250.5,1136.8 L251.1,1136.8 L251.7,1136.8 L252.3,1136.8 L252.9,1136.8 L253.5,1136.8 L254.1,1136.8 L254.7,1136.8 L255.3,1136.8 L255.9,1136.8 L256.5,1136.8 L257.1,1136.8 L257.7,1136.8 L258.3,1136.8 L258.9,1136.8 L259.5,1136.8 L260.1,1136.8 L260.7,1136.8 L261.3,1136.8 L261.9,1136.8 L262.5,1136.8 L263.1,1136.8 L263.7,1136.8 L264.3,1136.8 L264.9,1136.8 L265.5,1136.8 L266.1,1136.8 L266.7,1136.8 L267.3,1136.8 L267.9,1136.8 L268.5,1136.8 L269.1,1136.8 L269.7,1136.8 L270.3,1136.8 L270.9,1136.8 L271.5,1136.8 L272.1,1136.8 L272.7,1136.8 L273.3,1136.8 L273.9,1136.8 L274.5,1136.8" fill="none" stroke="#e82222" stroke-width="2.2" stroke-linejoin="round"/>
<path d="M42.9,1136.8 L43.5,1136.8 L44.1,1136.8 L44.7,1136.8 L45.3,1136.8 L45.9,1136.8 L46.5,1136.8 L47.1,1136.8 L47.7,1136.8 L48.3,1136.8 L48.9,1136.8 L49.5,1136.8 L50.1,1136.8 L50.7,1136.8 L51.3,1136.8 L51.9,1136.8 L52.5,1136.8 L53.1,1136.8 L53.7,1136.8 L54.3,1136.8 L54.9,1136.8 L55.5,1136.8 L56.1,1136.8 L56.7,1136.8 L57.3,1136.8 L57.9,1136.8 L58.5,1136.8 L59.1,1136.8 L59.7,1136.8 L60.3,1136.8 L60.9,1136.8 L61.5,1136.8 L62.1,1136.8 L62.7,1136.8 L63.3,1136.8 L63.9,1136.8 L64.5,1136.8 L65.1,1136.8 L65.7,1136.8 L66.3,1136.8 L66.9,1136.8 L67.5,1136.8 L68.1,1136.8 L68.7,1136.8 L69.3,1136.8 L69.9,1136.8 L70.5,1136.8 L71.1,1136.8 L71.7,1136.8 L72.3,1136.8 L72.9,1136.8 L73.5,1136.8 L74.1,1136.8 L74.7,1136.8 L75.3,1136.8 L75.9,1136.8 L76.5,1136.8 L77.1,1136.8 L77.7,1136.8 L78.3,1136.8 L78.9,1136.8 L79.5,1136.8 L80.1,1136.8 L80.7,1136.7 L81.3,1136.7 L81.9,1136.8 L82.5,1136.7 L83.1,1136.7 L83.7,1136.8 L84.3,1136.8 L84.9,1136.7 L85.5,1136.7 L86.1,1136.8 L86.7,1136.8 L87.3,1136.7 L87.9,1136.8 L88.5,1136.7 L89.1,1136.8 L89.7,1136.8 L90.3,1136.8 L90.9,1136.8 L91.5,1136.8 L92.1,1136.8 L92.7,1136.6 L93.3,1136.6 L93.9,1136.4 L94.5,1136.8 L95.1,1136.4 L95.7,1136.0 L96.3,1136.8 L96.9,1136.8 L97.5,1136.6 L98.1,1136.8 L98.7,1136.3 L99.3,1136.3 L99.9,1136.6 L100.5,1136.6 L101.1,1136.3 L101.7,1136.8 L102.3,1136.8 L102.9,1136.4 L103.5,1135.6 L104.1,1136.0 L104.7,1135.8 L105.3,1135.9 L105.9,1136.4 L106.5,1135.5 L107.1,1135.8 L107.7,1136.2 L108.3,1135.9 L108.9,1136.8 L109.5,1134.2 L110.1,1134.8 L110.7,1133.8 L111.3,1134.4 L111.9,1136.8 L112.5,1133.3 L113.1,1133.7 L113.7,1134.6 L114.3,1134.1 L114.9,1134.8 L115.5,1131.8 L116.1,1134.0 L116.7,1131.9 L117.3,1130.8 L117.9,1132.7 L118.5,1132.9 L119.1,1131.0 L119.7,1130.1 L120.3,1130.6 L120.9,1130.8 L121.5,1130.4 L122.1,1128.6 L122.7,1125.6 L123.3,1130.9 L123.9,1129.9 L124.5,1126.8 L125.1,1125.1 L125.7,1126.0 L126.3,1126.4 L126.9,1122.7 L127.5,1128.6 L128.1,1127.8 L128.7,1125.6 L129.3,1126.1 L129.9,1125.6 L130.5,1127.0 L131.1,1124.7 L131.7,1126.4 L132.3,1127.1 L132.9,1122.0 L133.5,1119.8 L134.1,1117.4 L134.7,1117.8 L135.3,1115.8 L135.9,1116.6 L136.5,1116.8 L137.1,1116.7 L137.7,1110.5 L138.3,1115.1 L138.9,1110.6 L139.5,1108.9 L140.1,1105.9 L140.7,1098.3 L141.3,1103.2 L141.9,1095.2 L142.5,1102.8 L143.1,1098.8 L143.7,1102.3 L144.3,1097.6 L144.9,1094.7 L145.5,1095.1 L146.1,1086.3 L146.7,1089.5 L147.3,1079.7 L147.9,1076.7 L148.5,1068.3 L149.1,1070.1 L149.7,1068.5 L150.3,1058.5 L150.9,1048.4 L151.5,1050.2 L152.1,1050.4 L152.7,1043.7 L153.3,1033.7 L153.9,1029.5 L154.5,1028.4 L155.1,1008.8 L155.7,1014.7 L156.3,1027.5 L156.9,1008.3 L157.5,1008.3 L158.1,1019.7 L158.7,1012.7 L159.3,1010.1 L159.9,999.0 L160.5,984.8 L161.1,1012.3 L161.7,997.1 L162.3,991.2 L162.9,999.6 L163.5,993.8 L164.1,985.4 L164.7,973.0 L165.3,977.2 L165.9,978.1 L166.5,974.0 L167.1,972.1 L167.7,972.5 L168.3,979.7 L168.9,979.9 L169.5,990.3 L170.1,1000.4 L170.7,1000.4 L171.3,1001.5 L171.9,1017.1 L172.5,1018.0 L173.1,1006.9 L173.7,1014.1 L174.3,1026.7 L174.9,1027.2 L175.5,1042.7 L176.1,1035.3 L176.7,1037.4 L177.3,1059.7 L177.9,1067.2 L178.5,1061.4 L179.1,1073.1 L179.7,1086.2 L180.3,1081.3 L180.9,1083.5 L181.5,1087.6 L182.1,1092.9 L182.7,1094.5 L183.3,1102.5 L183.9,1103.8 L184.5,1111.5 L185.1,1122.1 L185.7,1116.9 L186.3,1122.6 L186.9,1126.1 L187.5,1120.1 L188.1,1125.4 L188.7,1127.5 L189.3,1128.4 L189.9,1131.4 L190.5,1130.8 L191.1,1132.5 L191.7,1132.4 L192.3,1133.2 L192.9,1133.1 L193.5,1136.5 L194.1,1135.3 L194.7,1134.4 L195.3,1136.8 L195.9,1136.8 L196.5,1136.2 L197.1,1135.8 L197.7,1135.8 L198.3,1136.8 L198.9,1136.4 L199.5,1136.2 L200.1,1136.8 L200.7,1136.6 L201.3,1136.6 L201.9,1136.8 L202.5,1136.8 L203.1,1136.8 L203.7,1136.8 L204.3,1136.8 L204.9,1136.8 L205.5,1136.8 L206.1,1136.8 L206.7,1136.8 L207.3,1136.7 L207.9,1136.8 L208.5,1136.8 L209.1,1136.8 L209.7,1136.8 L210.3,1136.8 L210.9,1136.8 L211.5,1136.8 L212.1,1136.8 L212.7,1136.8 L213.3,1136.8 L213.9,1136.8 L214.5,1136.8 L215.1,1136.8 L215.7,1136.8 L216.3,1136.8 L216.9,1136.8 L217.5,1136.8 L218.1,1136.8 L218.7,1136.8 L219.3,1136.8 L219.9,1136.8 L220.5,1136.8 L221.1,1136.8 L221.7,1136.8 L222.3,1136.8 L222.9,1136.8 L223.5,1136.8 L224.1,1136.8 L224.7,1136.8 L225.3,1136.8 L225.9,1136.8 L226.5,1136.8 L227.1,1136.8 L227.7,1136.8 L228.3,1136.8 L228.9,1136.8 L229.5,1136.8 L230.1,1136.8 L230.7,1136.8 L231.3,1136.8 L231.9,1136.8 L232.5,1136.8 L233.1,1136.8 L233.7,1136.8 L234.3,1136.8 L234.9,1136.8 L235.5,1136.8 L236.1,1136.8 L236.7,1136.8 L237.3,1136.8 L237.9,1136.8 L238.5,1136.8 L239.1,1136.8 L239.7,1136.8 L240.3,1136.8 L240.9,1136.8 L241.5,1136.8 L242.1,1136.8 L242.7,1136.8 L243.3,1136.8 L243.9,1136.8 L244.5,1136.8 L245.1,1136.8 L245.7,1136.8 L246.3,1136.8 L246.9,1136.8 L247.5,1136.8 L248.1,1136.8 L248.7,1136.8 L249.3,1136.8 L249.9,1136.8 L250.5,1136.8 L251.1,1136.8 L251.7,1136.8 L252.3,1136.8 L252.9,1136.8 L253.5,1136.8 L254.1,1136.8 L254.7,1136.8 L255.3,1136.8 L255.9,1136.8 L256.5,1136.8 L257.1,1136.8 L257.7,1136.8 L258.3,1136.8 L258.9,1136.8 L259.5,1136.8 L260.1,1136.8 L260.7,1136.8 L261.3,1136.8 L261.9,1136.8 L262.5,1136.8 L263.1,1136.8 L263.7,1136.8 L264.3,1136.8 L264.9,1136.8 L265.5,1136.8 L266.1,1136.8 L266.7,1136.8 L267.3,1136.8 L267.9,1136.8 L268.5,1136.8 L269.1,1136.8 L269.7,1136.8 L270.3,1136.8 L270.9,1136.8 L271.5,1136.8 L272.1,1136.8 L272.7,1136.8 L273.3,1136.8 L273.9,1136.8 L274.5,1136.8" fill="none" stroke="#22dd22" stroke-width="2.2" stroke-linejoin="round"/>
<text x="265.0" y="960.3" font-size="17.6" font-weight="bold" text-anchor="end" fill="#000" letter-spacing="0.3">LDLR Protein</text>
<text x="222.5" y="998.5" font-size="17.5" font-weight="normal" text-anchor="middle" fill="#000" letter-spacing="0.3">BCL-P2</text>
<path d="M233.1,1013.3 H197.1 V1098.0 H233.1" fill="none" stroke="#ccc" stroke-width="1.2"/>
<rect x="201.50" y="1017.20" width="24.10" height="22.40" fill="#fff" stroke="#22dd22" stroke-width="2" />
<text x="227.8" y="1031.7" font-size="17.5" font-weight="normal" text-anchor="start" fill="#000" letter-spacing="0.3">DCA</text>
<rect x="201.50" y="1044.80" width="24.10" height="21.10" fill="#fff" stroke="#e82222" stroke-width="2" />
<text x="227.8" y="1060.2" font-size="17.5" font-weight="normal" text-anchor="start" fill="#000" letter-spacing="0.3">Cont</text>
<rect x="201.50" y="1071.00" width="24.10" height="23.30" fill="#fff" stroke="#a0a0a0" stroke-width="2" />
<text x="227.8" y="1090.8" font-size="17.5" font-weight="normal" text-anchor="start" fill="#000" letter-spacing="0.3">IgG</text>
<line x1="301.70" y1="941.70" x2="483.30" y2="941.70" stroke="#666" stroke-width="1.4" />
<line x1="483.30" y1="941.70" x2="483.30" y2="1137.90" stroke="#ccc" stroke-width="1.6" />
<line x1="301.70" y1="941.70" x2="301.70" y2="1137.90" stroke="#ccc" stroke-width="1.6" />
<line x1="301.70" y1="1137.90" x2="483.30" y2="1137.90" stroke="#bbb" stroke-width="1.2" />
<line x1="299.50" y1="1118.26" x2="301.70" y2="1118.26" stroke="#444" stroke-width="1.2" />
<line x1="299.50" y1="1098.62" x2="301.70" y2="1098.62" stroke="#444" stroke-width="1.2" />
<line x1="299.50" y1="1078.98" x2="301.70" y2="1078.98" stroke="#444" stroke-width="1.2" />
<line x1="299.50" y1="1059.34" x2="301.70" y2="1059.34" stroke="#444" stroke-width="1.2" />
<line x1="299.50" y1="1039.70" x2="301.70" y2="1039.70" stroke="#444" stroke-width="1.2" />
<line x1="299.50" y1="1020.06" x2="301.70" y2="1020.06" stroke="#444" stroke-width="1.2" />
<line x1="299.50" y1="1000.42" x2="301.70" y2="1000.42" stroke="#444" stroke-width="1.2" />
<line x1="299.50" y1="980.78" x2="301.70" y2="980.78" stroke="#444" stroke-width="1.2" />
<line x1="299.50" y1="961.14" x2="301.70" y2="961.14" stroke="#444" stroke-width="1.2" />
<line x1="308.31" y1="1137.90" x2="308.31" y2="1139.50" stroke="#444" stroke-width="1.1" />
<line x1="319.14" y1="1137.90" x2="319.14" y2="1139.50" stroke="#444" stroke-width="1.1" />
<line x1="326.83" y1="1137.90" x2="326.83" y2="1139.50" stroke="#444" stroke-width="1.1" />
<line x1="332.79" y1="1137.90" x2="332.79" y2="1139.50" stroke="#444" stroke-width="1.1" />
<line x1="337.66" y1="1137.90" x2="337.66" y2="1139.50" stroke="#444" stroke-width="1.1" />
<line x1="341.77" y1="1137.90" x2="341.77" y2="1139.50" stroke="#444" stroke-width="1.1" />
<line x1="345.34" y1="1137.90" x2="345.34" y2="1139.50" stroke="#444" stroke-width="1.1" />
<line x1="348.49" y1="1137.90" x2="348.49" y2="1139.50" stroke="#444" stroke-width="1.1" />
<line x1="351.30" y1="1137.90" x2="351.30" y2="1140.10" stroke="#444" stroke-width="1.1" />
<line x1="369.81" y1="1137.90" x2="369.81" y2="1139.50" stroke="#444" stroke-width="1.1" />
<line x1="380.64" y1="1137.90" x2="380.64" y2="1139.50" stroke="#444" stroke-width="1.1" />
<line x1="388.33" y1="1137.90" x2="388.33" y2="1139.50" stroke="#444" stroke-width="1.1" />
<line x1="394.29" y1="1137.90" x2="394.29" y2="1139.50" stroke="#444" stroke-width="1.1" />
<line x1="399.16" y1="1137.90" x2="399.16" y2="1139.50" stroke="#444" stroke-width="1.1" />
<line x1="403.27" y1="1137.90" x2="403.27" y2="1139.50" stroke="#444" stroke-width="1.1" />
<line x1="406.84" y1="1137.90" x2="406.84" y2="1139.50" stroke="#444" stroke-width="1.1" />
<line x1="409.99" y1="1137.90" x2="409.99" y2="1139.50" stroke="#444" stroke-width="1.1" />
<line x1="412.80" y1="1137.90" x2="412.80" y2="1140.10" stroke="#444" stroke-width="1.1" />
<line x1="431.31" y1="1137.90" x2="431.31" y2="1139.50" stroke="#444" stroke-width="1.1" />
<line x1="442.14" y1="1137.90" x2="442.14" y2="1139.50" stroke="#444" stroke-width="1.1" />
<line x1="449.83" y1="1137.90" x2="449.83" y2="1139.50" stroke="#444" stroke-width="1.1" />
<line x1="455.79" y1="1137.90" x2="455.79" y2="1139.50" stroke="#444" stroke-width="1.1" />
<line x1="460.66" y1="1137.90" x2="460.66" y2="1139.50" stroke="#444" stroke-width="1.1" />
<line x1="464.77" y1="1137.90" x2="464.77" y2="1139.50" stroke="#444" stroke-width="1.1" />
<line x1="468.34" y1="1137.90" x2="468.34" y2="1139.50" stroke="#444" stroke-width="1.1" />
<line x1="471.49" y1="1137.90" x2="471.49" y2="1139.50" stroke="#444" stroke-width="1.1" />
<line x1="474.30" y1="1137.90" x2="474.30" y2="1140.10" stroke="#444" stroke-width="1.1" />
<text x="343.2" y="1155.5" font-size="14.2" fill="#333">10<tspan dy="-5.6" font-size="9">0</tspan></text>
<text x="407.4" y="1155.5" font-size="14.2" fill="#333">10<tspan dy="-5.6" font-size="9">1</tspan></text>
<text x="463.8" y="1155.5" font-size="14.2" fill="#333">10<tspan dy="-5.6" font-size="9">2</tspan></text>
<path d="M301.7,1123.9 L302.3,1122.6 L302.9,1130.3 L303.5,1125.8 L304.1,1124.1 L304.7,1124.4 L305.3,1122.4 L305.9,1121.6 L306.5,1124.1 L307.1,1122.5 L307.7,1124.6 L308.3,1122.4 L308.9,1117.4 L309.5,1116.1 L310.1,1115.4 L310.7,1110.2 L311.3,1111.7 L311.9,1108.6 L312.5,1108.4 L313.1,1098.3 L313.7,1093.5 L314.3,1090.4 L314.9,1084.9 L315.5,1069.5 L316.1,1071.2 L316.7,1054.0 L317.3,1052.2 L317.9,1036.1 L318.5,1023.8 L319.1,1008.0 L319.7,1003.8 L320.3,1013.0 L320.9,988.1 L321.5,991.5 L322.1,985.8 L322.7,967.2 L323.3,970.1 L323.9,970.1 L324.5,954.8 L325.1,947.8 L325.7,958.3 L326.3,954.8 L326.9,968.0 L327.5,959.1 L328.1,946.6 L328.7,955.3 L329.3,953.2 L329.9,972.7 L330.5,983.5 L331.1,985.5 L331.7,990.9 L332.3,1012.7 L332.9,1018.8 L333.5,1039.0 L334.1,1040.2 L334.7,1053.3 L335.3,1063.5 L335.9,1071.8 L336.5,1096.7 L337.1,1104.3 L337.7,1103.3 L338.3,1112.4 L338.9,1111.5 L339.5,1122.5 L340.1,1127.3 L340.7,1127.8 L341.3,1129.8 L341.9,1132.5 L342.5,1134.5 L343.1,1134.8 L343.7,1135.1 L344.3,1136.2 L344.9,1136.6 L345.5,1137.6 L346.1,1137.6 L346.7,1137.7 L347.3,1137.4 L347.9,1137.6 L348.5,1137.7 L349.1,1137.8 L349.7,1137.8 L350.3,1137.9 L350.9,1137.8 L351.5,1137.9 L352.1,1137.9 L352.7,1137.9 L353.3,1137.9 L353.9,1137.9 L354.5,1137.9 L355.1,1137.9 L355.7,1137.9 L356.3,1137.9 L356.9,1137.9 L357.5,1137.9 L358.1,1137.9 L358.7,1137.9 L359.3,1137.9 L359.9,1137.9 L360.5,1137.9 L361.1,1137.9 L361.7,1137.9 L362.3,1137.9 L362.9,1137.9 L363.5,1137.9 L364.1,1137.9 L364.7,1137.9 L365.3,1137.9 L365.9,1137.9 L366.5,1137.9 L367.1,1137.9 L367.7,1137.9 L368.3,1137.9 L368.9,1137.9 L369.5,1137.9 L370.1,1137.9 L370.7,1137.9 L371.3,1137.9 L371.9,1137.9 L372.5,1137.9 L373.1,1137.9 L373.7,1137.9 L374.3,1137.9 L374.9,1137.9 L375.5,1137.9 L376.1,1137.9 L376.7,1137.9 L377.3,1137.9 L377.9,1137.9 L378.5,1137.9 L379.1,1137.9 L379.7,1137.9 L380.3,1137.9 L380.9,1137.9 L381.5,1137.9 L382.1,1137.9 L382.7,1137.9 L383.3,1137.9 L383.9,1137.9 L384.5,1137.9 L385.1,1137.9 L385.7,1137.9 L386.3,1137.9 L386.9,1137.9 L387.5,1137.9 L388.1,1137.9 L388.7,1137.9 L389.3,1137.9 L389.9,1137.9 L390.5,1137.9 L391.1,1137.9 L391.7,1137.9 L392.3,1137.9 L392.9,1137.9 L393.5,1137.9 L394.1,1137.9 L394.7,1137.9 L395.3,1137.9 L395.9,1137.9 L396.5,1137.9 L397.1,1137.9 L397.7,1137.9 L398.3,1137.9 L398.9,1137.9 L399.5,1137.9 L400.1,1137.9 L400.7,1137.9 L401.3,1137.9 L401.9,1137.9 L402.5,1137.9 L403.1,1137.9 L403.7,1137.9 L404.3,1137.9 L404.9,1137.9 L405.5,1137.9 L406.1,1137.9 L406.7,1137.9 L407.3,1137.9 L407.9,1137.9 L408.5,1137.9 L409.1,1137.9 L409.7,1137.9 L410.3,1137.9 L410.9,1137.9 L411.5,1137.9 L412.1,1137.9 L412.7,1137.9 L413.3,1137.9 L413.9,1137.9 L414.5,1137.9 L415.1,1137.9 L415.7,1137.9 L416.3,1137.9 L416.9,1137.9 L417.5,1137.9 L418.1,1137.9 L418.7,1137.9 L419.3,1137.9 L419.9,1137.9 L420.5,1137.9 L421.1,1137.9 L421.7,1137.9 L422.3,1137.9 L422.9,1137.9 L423.5,1137.9 L424.1,1137.9 L424.7,1137.9 L425.3,1137.9 L425.9,1137.9 L426.5,1137.9 L427.1,1137.9 L427.7,1137.9 L428.3,1137.9 L428.9,1137.9 L429.5,1137.9 L430.1,1137.9 L430.7,1137.9 L431.3,1137.9 L431.9,1137.9 L432.5,1137.9 L433.1,1137.9 L433.7,1137.9 L434.3,1137.9 L434.9,1137.9 L435.5,1137.9 L436.1,1137.9 L436.7,1137.9 L437.3,1137.9 L437.9,1137.9 L438.5,1137.9 L439.1,1137.9 L439.7,1137.9 L440.3,1137.9 L440.9,1137.9 L441.5,1137.9 L442.1,1137.9 L442.7,1137.9 L443.3,1137.9 L443.9,1137.9 L444.5,1137.9 L445.1,1137.9 L445.7,1137.9 L446.3,1137.9 L446.9,1137.9 L447.5,1137.9 L448.1,1137.9 L448.7,1137.9 L449.3,1137.9 L449.9,1137.9 L450.5,1137.9 L451.1,1137.9 L451.7,1137.9 L452.3,1137.9 L452.9,1137.9 L453.5,1137.9 L454.1,1137.9 L454.7,1137.9 L455.3,1137.9 L455.9,1137.9 L456.5,1137.9 L457.1,1137.9 L457.7,1137.9 L458.3,1137.9 L458.9,1137.9 L459.5,1137.9 L460.1,1137.9 L460.7,1137.9 L461.3,1137.9 L461.9,1137.9 L462.5,1137.9 L463.1,1137.9 L463.7,1137.9 L464.3,1137.9 L464.9,1137.9 L465.5,1137.9 L466.1,1137.9 L466.7,1137.9 L467.3,1137.9 L467.9,1137.9 L468.5,1137.9 L469.1,1137.9 L469.7,1137.9 L470.3,1137.9 L470.9,1137.9 L471.5,1137.9 L472.1,1137.9 L472.7,1137.9 L473.3,1137.9 L473.9,1137.9 L474.5,1137.9 L475.1,1137.9 L475.7,1137.9 L476.3,1137.9 L476.9,1137.9 L477.5,1137.9 L478.1,1137.9 L478.7,1137.9 L479.3,1137.9 L479.9,1137.9 L480.5,1137.9 L481.1,1137.9 L481.7,1137.9 L482.3,1137.9 L482.9,1137.9" fill="none" stroke="#a0a0a0" stroke-width="2.0" stroke-linejoin="round"/>
<path d="M301.7,1137.9 L302.3,1137.9 L302.9,1137.9 L303.5,1137.9 L304.1,1137.9 L304.7,1137.9 L305.3,1137.9 L305.9,1137.9 L306.5,1137.9 L307.1,1137.9 L307.7,1137.9 L308.3,1137.9 L308.9,1137.9 L309.5,1137.9 L310.1,1137.9 L310.7,1137.9 L311.3,1137.9 L311.9,1137.9 L312.5,1137.9 L313.1,1137.9 L313.7,1137.9 L314.3,1137.9 L314.9,1137.9 L315.5,1137.9 L316.1,1137.9 L316.7,1137.9 L317.3,1137.9 L317.9,1137.9 L318.5,1137.9 L319.1,1137.9 L319.7,1137.9 L320.3,1137.9 L320.9,1137.9 L321.5,1137.9 L322.1,1137.9 L322.7,1137.9 L323.3,1137.9 L323.9,1137.9 L324.5,1137.9 L325.1,1137.9 L325.7,1137.9 L326.3,1137.9 L326.9,1137.9 L327.5,1137.9 L328.1,1137.9 L328.7,1137.9 L329.3,1137.7 L329.9,1137.8 L330.5,1137.8 L331.1,1137.9 L331.7,1137.9 L332.3,1137.9 L332.9,1137.9 L333.5,1137.6 L334.1,1137.8 L334.7,1137.9 L335.3,1137.9 L335.9,1137.4 L336.5,1137.7 L337.1,1137.5 L337.7,1136.9 L338.3,1137.2 L338.9,1136.7 L339.5,1136.7 L340.1,1137.9 L340.7,1137.9 L341.3,1137.9 L341.9,1137.6 L342.5,1137.9 L343.1,1137.5 L343.7,1136.3 L344.3,1134.8 L344.9,1136.7 L345.5,1134.6 L346.1,1133.2 L346.7,1134.6 L347.3,1135.4 L347.9,1134.5 L348.5,1136.1 L349.1,1135.1 L349.7,1134.9 L350.3,1134.9 L350.9,1133.4 L351.5,1133.8 L352.1,1136.6 L352.7,1132.4 L353.3,1132.7 L353.9,1133.0 L354.5,1131.1 L355.1,1131.1 L355.7,1127.9 L356.3,1129.0 L356.9,1129.8 L357.5,1131.7 L358.1,1131.6 L358.7,1128.3 L359.3,1126.1 L359.9,1131.3 L360.5,1130.4 L361.1,1123.9 L361.7,1125.4 L362.3,1124.3 L362.9,1124.4 L363.5,1121.6 L364.1,1123.7 L364.7,1123.7 L365.3,1124.2 L365.9,1127.1 L366.5,1125.7 L367.1,1121.5 L367.7,1119.0 L368.3,1121.0 L368.9,1125.5 L369.5,1125.8 L370.1,1121.5 L370.7,1124.7 L371.3,1123.0 L371.9,1119.1 L372.5,1120.4 L373.1,1118.4 L373.7,1113.8 L374.3,1113.6 L374.9,1114.2 L375.5,1116.8 L376.1,1107.8 L376.7,1108.3 L377.3,1105.7 L377.9,1102.6 L378.5,1094.7 L379.1,1100.6 L379.7,1099.8 L380.3,1098.4 L380.9,1089.8 L381.5,1089.7 L382.1,1081.7 L382.7,1078.9 L383.3,1067.5 L383.9,1064.2 L384.5,1056.6 L385.1,1046.6 L385.7,1044.4 L386.3,1035.8 L386.9,1030.2 L387.5,1030.4 L388.1,1026.0 L388.7,1040.8 L389.3,1040.1 L389.9,1032.8 L390.5,1027.1 L391.1,1011.9 L391.7,1015.2 L392.3,1003.4 L392.9,1004.7 L393.5,1006.2 L394.1,1007.7 L394.7,1017.6 L395.3,1008.3 L395.9,1030.7 L396.5,1015.5 L397.1,1022.9 L397.7,1008.3 L398.3,1024.4 L398.9,1014.7 L399.5,1024.4 L400.1,1027.4 L400.7,1036.1 L401.3,1039.0 L401.9,1040.5 L402.5,1039.7 L403.1,1055.9 L403.7,1046.8 L404.3,1050.2 L404.9,1050.8 L405.5,1057.4 L406.1,1055.3 L406.7,1060.8 L407.3,1070.1 L407.9,1069.1 L408.5,1077.2 L409.1,1076.3 L409.7,1088.8 L410.3,1086.7 L410.9,1097.4 L411.5,1096.5 L412.1,1095.7 L412.7,1102.3 L413.3,1106.7 L413.9,1111.1 L414.5,1113.3 L415.1,1113.7 L415.7,1108.2 L416.3,1115.6 L416.9,1115.5 L417.5,1118.5 L418.1,1123.0 L418.7,1119.7 L419.3,1125.6 L419.9,1130.6 L420.5,1128.1 L421.1,1126.4 L421.7,1130.5 L422.3,1129.7 L422.9,1131.9 L423.5,1133.3 L424.1,1129.3 L424.7,1132.0 L425.3,1130.3 L425.9,1131.6 L426.5,1134.2 L427.1,1132.8 L427.7,1133.5 L428.3,1134.3 L428.9,1135.6 L429.5,1136.1 L430.1,1136.5 L430.7,1136.0 L431.3,1135.8 L431.9,1136.8 L432.5,1136.3 L433.1,1136.3 L433.7,1137.4 L434.3,1136.8 L434.9,1136.8 L435.5,1137.8 L436.1,1137.5 L436.7,1136.7 L437.3,1137.1 L437.9,1137.9 L438.5,1137.9 L439.1,1137.9 L439.7,1137.9 L440.3,1137.9 L440.9,1137.9 L441.5,1137.5 L442.1,1137.9 L442.7,1137.9 L443.3,1137.8 L443.9,1137.6 L444.5,1137.7 L445.1,1137.8 L445.7,1137.8 L446.3,1137.9 L446.9,1137.9 L447.5,1137.9 L448.1,1137.9 L448.7,1137.8 L449.3,1137.8 L449.9,1137.9 L450.5,1137.9 L451.1,1137.9 L451.7,1137.9 L452.3,1137.9 L452.9,1137.9 L453.5,1137.9 L454.1,1137.9 L454.7,1137.9 L455.3,1137.9 L455.9,1137.9 L456.5,1137.9 L457.1,1137.9 L457.7,1137.9 L458.3,1137.9 L458.9,1137.9 L459.5,1137.9 L460.1,1137.9 L460.7,1137.9 L461.3,1137.9 L461.9,1137.9 L462.5,1137.9 L463.1,1137.9 L463.7,1137.9 L464.3,1137.9 L464.9,1137.9 L465.5,1137.9 L466.1,1137.9 L466.7,1137.9 L467.3,1137.9 L467.9,1137.9 L468.5,1137.9 L469.1,1137.9 L469.7,1137.9 L470.3,1137.9 L470.9,1137.9 L471.5,1137.9 L472.1,1137.9 L472.7,1137.9 L473.3,1137.9 L473.9,1137.9 L474.5,1137.9 L475.1,1137.9 L475.7,1137.9 L476.3,1137.9 L476.9,1137.9 L477.5,1137.9 L478.1,1137.9 L478.7,1137.9 L479.3,1137.9 L479.9,1137.9 L480.5,1137.9 L481.1,1137.9 L481.7,1137.9 L482.3,1137.9 L482.9,1137.9" fill="none" stroke="#e82222" stroke-width="2.2" stroke-linejoin="round"/>
<path d="M301.7,1137.9 L302.3,1137.9 L302.9,1137.9 L303.5,1137.9 L304.1,1137.9 L304.7,1137.9 L305.3,1137.9 L305.9,1137.9 L306.5,1137.9 L307.1,1137.9 L307.7,1137.9 L308.3,1137.9 L308.9,1137.9 L309.5,1137.9 L310.1,1137.9 L310.7,1137.9 L311.3,1137.9 L311.9,1137.9 L312.5,1137.9 L313.1,1137.9 L313.7,1137.9 L314.3,1137.9 L314.9,1137.9 L315.5,1137.9 L316.1,1137.9 L316.7,1137.9 L317.3,1137.9 L317.9,1137.9 L318.5,1137.9 L319.1,1137.9 L319.7,1137.9 L320.3,1137.9 L320.9,1137.9 L321.5,1137.9 L322.1,1137.9 L322.7,1137.9 L323.3,1137.9 L323.9,1137.9 L324.5,1137.9 L325.1,1137.9 L325.7,1137.9 L326.3,1137.9 L326.9,1137.9 L327.5,1137.9 L328.1,1137.9 L328.7,1137.9 L329.3,1137.9 L329.9,1137.9 L330.5,1137.9 L331.1,1137.9 L331.7,1137.9 L332.3,1137.9 L332.9,1137.9 L333.5,1137.9 L334.1,1137.9 L334.7,1137.9 L335.3,1137.9 L335.9,1137.9 L336.5,1137.9 L337.1,1137.9 L337.7,1137.9 L338.3,1137.9 L338.9,1137.9 L339.5,1137.9 L340.1,1137.8 L340.7,1137.9 L341.3,1137.9 L341.9,1137.9 L342.5,1137.8 L343.1,1137.8 L343.7,1137.9 L344.3,1137.8 L344.9,1137.8 L345.5,1137.9 L346.1,1137.8 L346.7,1137.9 L347.3,1137.6 L347.9,1137.8 L348.5,1137.9 L349.1,1137.9 L349.7,1137.7 L350.3,1137.3 L350.9,1137.3 L351.5,1137.5 L352.1,1137.3 L352.7,1137.7 L353.3,1137.6 L353.9,1137.8 L354.5,1137.4 L355.1,1137.7 L355.7,1137.9 L356.3,1136.8 L356.9,1136.9 L357.5,1136.8 L358.1,1136.7 L358.7,1137.4 L359.3,1136.4 L359.9,1135.5 L360.5,1134.7 L361.1,1134.2 L361.7,1135.1 L362.3,1136.1 L362.9,1135.3 L363.5,1134.0 L364.1,1134.1 L364.7,1132.9 L365.3,1134.8 L365.9,1133.9 L366.5,1135.2 L367.1,1134.2 L367.7,1133.6 L368.3,1130.7 L368.9,1132.0 L369.5,1130.5 L370.1,1129.5 L370.7,1130.1 L371.3,1132.6 L371.9,1130.8 L372.5,1133.0 L373.1,1130.6 L373.7,1125.5 L374.3,1125.6 L374.9,1130.3 L375.5,1128.4 L376.1,1126.4 L376.7,1124.3 L377.3,1124.8 L377.9,1125.1 L378.5,1122.8 L379.1,1122.6 L379.7,1122.8 L380.3,1118.9 L380.9,1119.4 L381.5,1117.7 L382.1,1116.8 L382.7,1115.0 L383.3,1114.5 L383.9,1112.9 L384.5,1119.3 L385.1,1113.9 L385.7,1113.1 L386.3,1107.8 L386.9,1108.1 L387.5,1107.7 L388.1,1110.1 L388.7,1109.5 L389.3,1098.9 L389.9,1103.0 L390.5,1094.6 L391.1,1094.9 L391.7,1086.4 L392.3,1085.0 L392.9,1077.6 L393.5,1065.9 L394.1,1069.4 L394.7,1062.0 L395.3,1057.3 L395.9,1054.5 L396.5,1051.4 L397.1,1058.8 L397.7,1034.7 L398.3,1028.1 L398.9,1019.5 L399.5,1028.1 L400.1,1015.9 L400.7,1006.9 L401.3,1008.7 L401.9,1002.9 L402.5,1001.7 L403.1,983.3 L403.7,987.2 L404.3,990.3 L404.9,979.9 L405.5,989.8 L406.1,980.4 L406.7,971.6 L407.3,971.7 L407.9,978.9 L408.5,985.0 L409.1,975.5 L409.7,983.2 L410.3,980.5 L410.9,978.7 L411.5,981.6 L412.1,999.7 L412.7,1000.3 L413.3,1010.1 L413.9,1028.3 L414.5,1033.9 L415.1,1032.0 L415.7,1038.3 L416.3,1049.1 L416.9,1044.2 L417.5,1064.0 L418.1,1067.2 L418.7,1080.3 L419.3,1081.7 L419.9,1088.3 L420.5,1099.0 L421.1,1104.7 L421.7,1113.5 L422.3,1111.0 L422.9,1112.9 L423.5,1121.9 L424.1,1123.5 L424.7,1121.7 L425.3,1124.7 L425.9,1128.6 L426.5,1129.2 L427.1,1128.9 L427.7,1132.1 L428.3,1134.1 L428.9,1136.1 L429.5,1136.7 L430.1,1136.9 L430.7,1135.8 L431.3,1135.6 L431.9,1136.0 L432.5,1137.2 L433.1,1137.8 L433.7,1136.8 L434.3,1137.6 L434.9,1137.9 L435.5,1137.9 L436.1,1137.9 L436.7,1137.9 L437.3,1137.9 L437.9,1137.8 L438.5,1137.8 L439.1,1137.9 L439.7,1137.8 L440.3,1137.9 L440.9,1137.9 L441.5,1137.9 L442.1,1137.9 L442.7,1137.9 L443.3,1137.9 L443.9,1137.9 L444.5,1137.9 L445.1,1137.9 L445.7,1137.9 L446.3,1137.9 L446.9,1137.9 L447.5,1137.9 L448.1,1137.9 L448.7,1137.9 L449.3,1137.9 L449.9,1137.9 L450.5,1137.9 L451.1,1137.9 L451.7,1137.9 L452.3,1137.9 L452.9,1137.9 L453.5,1137.9 L454.1,1137.9 L454.7,1137.9 L455.3,1137.9 L455.9,1137.9 L456.5,1137.9 L457.1,1137.9 L457.7,1137.9 L458.3,1137.9 L458.9,1137.9 L459.5,1137.9 L460.1,1137.9 L460.7,1137.9 L461.3,1137.9 L461.9,1137.9 L462.5,1137.9 L463.1,1137.9 L463.7,1137.9 L464.3,1137.9 L464.9,1137.9 L465.5,1137.9 L466.1,1137.9 L466.7,1137.9 L467.3,1137.9 L467.9,1137.9 L468.5,1137.9 L469.1,1137.9 L469.7,1137.9 L470.3,1137.9 L470.9,1137.9 L471.5,1137.9 L472.1,1137.9 L472.7,1137.9 L473.3,1137.9 L473.9,1137.9 L474.5,1137.9 L475.1,1137.9 L475.7,1137.9 L476.3,1137.9 L476.9,1137.9 L477.5,1137.9 L478.1,1137.9 L478.7,1137.9 L479.3,1137.9 L479.9,1137.9 L480.5,1137.9 L481.1,1137.9 L481.7,1137.9 L482.3,1137.9 L482.9,1137.9" fill="none" stroke="#22dd22" stroke-width="2.2" stroke-linejoin="round"/>
<text x="476.0" y="959.4" font-size="17.6" font-weight="bold" text-anchor="end" fill="#000" letter-spacing="0.3">LDLR Protein</text>
<line x1="483.60" y1="941.60" x2="675.80" y2="941.60" stroke="#666" stroke-width="1.4" />
<line x1="675.80" y1="941.60" x2="675.80" y2="1137.80" stroke="#777" stroke-width="1.6" />
<line x1="483.60" y1="941.60" x2="483.60" y2="1137.80" stroke="#ccc" stroke-width="1.6" />
<line x1="483.60" y1="1137.80" x2="675.80" y2="1137.80" stroke="#bbb" stroke-width="1.2" />
<line x1="481.40" y1="1118.16" x2="483.60" y2="1118.16" stroke="#444" stroke-width="1.2" />
<line x1="481.40" y1="1098.52" x2="483.60" y2="1098.52" stroke="#444" stroke-width="1.2" />
<line x1="481.40" y1="1078.88" x2="483.60" y2="1078.88" stroke="#444" stroke-width="1.2" />
<line x1="481.40" y1="1059.24" x2="483.60" y2="1059.24" stroke="#444" stroke-width="1.2" />
<line x1="481.40" y1="1039.60" x2="483.60" y2="1039.60" stroke="#444" stroke-width="1.2" />
<line x1="481.40" y1="1019.96" x2="483.60" y2="1019.96" stroke="#444" stroke-width="1.2" />
<line x1="481.40" y1="1000.32" x2="483.60" y2="1000.32" stroke="#444" stroke-width="1.2" />
<line x1="481.40" y1="980.68" x2="483.60" y2="980.68" stroke="#444" stroke-width="1.2" />
<line x1="481.40" y1="961.04" x2="483.60" y2="961.04" stroke="#444" stroke-width="1.2" />
<line x1="487.54" y1="1137.80" x2="487.54" y2="1139.40" stroke="#444" stroke-width="1.1" />
<line x1="491.39" y1="1137.80" x2="491.39" y2="1139.40" stroke="#444" stroke-width="1.1" />
<line x1="494.73" y1="1137.80" x2="494.73" y2="1139.40" stroke="#444" stroke-width="1.1" />
<line x1="497.67" y1="1137.80" x2="497.67" y2="1139.40" stroke="#444" stroke-width="1.1" />
<line x1="500.30" y1="1137.80" x2="500.30" y2="1140.00" stroke="#444" stroke-width="1.1" />
<line x1="517.61" y1="1137.80" x2="517.61" y2="1139.40" stroke="#444" stroke-width="1.1" />
<line x1="527.73" y1="1137.80" x2="527.73" y2="1139.40" stroke="#444" stroke-width="1.1" />
<line x1="534.92" y1="1137.80" x2="534.92" y2="1139.40" stroke="#444" stroke-width="1.1" />
<line x1="540.49" y1="1137.80" x2="540.49" y2="1139.40" stroke="#444" stroke-width="1.1" />
<line x1="545.04" y1="1137.80" x2="545.04" y2="1139.40" stroke="#444" stroke-width="1.1" />
<line x1="548.89" y1="1137.80" x2="548.89" y2="1139.40" stroke="#444" stroke-width="1.1" />
<line x1="552.23" y1="1137.80" x2="552.23" y2="1139.40" stroke="#444" stroke-width="1.1" />
<line x1="555.17" y1="1137.80" x2="555.17" y2="1139.40" stroke="#444" stroke-width="1.1" />
<line x1="557.80" y1="1137.80" x2="557.80" y2="1140.00" stroke="#444" stroke-width="1.1" />
<line x1="575.11" y1="1137.80" x2="575.11" y2="1139.40" stroke="#444" stroke-width="1.1" />
<line x1="585.23" y1="1137.80" x2="585.23" y2="1139.40" stroke="#444" stroke-width="1.1" />
<line x1="592.42" y1="1137.80" x2="592.42" y2="1139.40" stroke="#444" stroke-width="1.1" />
<line x1="597.99" y1="1137.80" x2="597.99" y2="1139.40" stroke="#444" stroke-width="1.1" />
<line x1="602.54" y1="1137.80" x2="602.54" y2="1139.40" stroke="#444" stroke-width="1.1" />
<line x1="606.39" y1="1137.80" x2="606.39" y2="1139.40" stroke="#444" stroke-width="1.1" />
<line x1="609.73" y1="1137.80" x2="609.73" y2="1139.40" stroke="#444" stroke-width="1.1" />
<line x1="612.67" y1="1137.80" x2="612.67" y2="1139.40" stroke="#444" stroke-width="1.1" />
<line x1="615.30" y1="1137.80" x2="615.30" y2="1140.00" stroke="#444" stroke-width="1.1" />
<line x1="632.61" y1="1137.80" x2="632.61" y2="1139.40" stroke="#444" stroke-width="1.1" />
<line x1="642.73" y1="1137.80" x2="642.73" y2="1139.40" stroke="#444" stroke-width="1.1" />
<line x1="649.92" y1="1137.80" x2="649.92" y2="1139.40" stroke="#444" stroke-width="1.1" />
<line x1="655.49" y1="1137.80" x2="655.49" y2="1139.40" stroke="#444" stroke-width="1.1" />
<line x1="660.04" y1="1137.80" x2="660.04" y2="1139.40" stroke="#444" stroke-width="1.1" />
<line x1="663.89" y1="1137.80" x2="663.89" y2="1139.40" stroke="#444" stroke-width="1.1" />
<line x1="667.23" y1="1137.80" x2="667.23" y2="1139.40" stroke="#444" stroke-width="1.1" />
<line x1="670.17" y1="1137.80" x2="670.17" y2="1139.40" stroke="#444" stroke-width="1.1" />
<line x1="672.80" y1="1137.80" x2="672.80" y2="1140.00" stroke="#444" stroke-width="1.1" />
<text x="545.8" y="1156.0" font-size="14.2" fill="#333">10<tspan dy="-5.6" font-size="9">0</tspan></text>
<text x="606.3" y="1156.0" font-size="14.2" fill="#333">10<tspan dy="-5.6" font-size="9">1</tspan></text>
<text x="663.2" y="1156.0" font-size="14.2" fill="#333">10<tspan dy="-5.6" font-size="9">2</tspan></text>
<path d="M483.6,1110.3 L484.2,1116.6 L484.8,1113.7 L485.4,1108.9 L486.0,1111.1 L486.6,1103.9 L487.2,1111.5 L487.8,1106.1 L488.4,1100.6 L489.0,1100.3 L489.6,1090.5 L490.2,1092.4 L490.8,1092.1 L491.4,1089.2 L492.0,1083.5 L492.6,1071.4 L493.2,1071.2 L493.8,1059.1 L494.4,1059.9 L495.0,1051.6 L495.6,1044.2 L496.2,1046.5 L496.8,1049.7 L497.4,1043.3 L498.0,1025.6 L498.6,1016.1 L499.2,1005.5 L499.8,1000.7 L500.4,999.9 L501.0,997.8 L501.6,987.0 L502.2,983.8 L502.8,971.1 L503.4,969.5 L504.0,980.2 L504.6,981.1 L505.2,973.3 L505.8,966.8 L506.4,965.5 L507.0,957.9 L507.6,956.5 L508.2,964.9 L508.8,956.8 L509.4,967.9 L510.0,961.0 L510.6,970.1 L511.2,988.0 L511.8,988.0 L512.4,986.7 L513.0,992.9 L513.6,986.2 L514.2,1006.0 L514.8,1004.0 L515.4,1008.2 L516.0,1014.9 L516.6,1026.3 L517.2,1029.5 L517.8,1035.7 L518.4,1048.2 L519.0,1054.5 L519.6,1066.0 L520.2,1071.0 L520.8,1078.3 L521.4,1073.5 L522.0,1081.7 L522.6,1089.2 L523.2,1095.9 L523.8,1096.3 L524.4,1102.7 L525.0,1108.6 L525.6,1106.2 L526.2,1108.4 L526.8,1111.4 L527.4,1117.0 L528.0,1116.9 L528.6,1121.3 L529.2,1122.8 L529.8,1123.5 L530.4,1123.5 L531.0,1131.7 L531.6,1132.8 L532.2,1133.4 L532.8,1130.6 L533.4,1133.7 L534.0,1133.5 L534.6,1133.0 L535.2,1134.0 L535.8,1134.8 L536.4,1137.0 L537.0,1136.5 L537.6,1136.5 L538.2,1137.0 L538.8,1137.2 L539.4,1136.5 L540.0,1137.6 L540.6,1137.5 L541.2,1137.8 L541.8,1137.8 L542.4,1137.6 L543.0,1137.8 L543.6,1137.7 L544.2,1137.6 L544.8,1137.3 L545.4,1137.8 L546.0,1137.7 L546.6,1137.7 L547.2,1137.7 L547.8,1137.8 L548.4,1137.8 L549.0,1137.8 L549.6,1137.8 L550.2,1137.8 L550.8,1137.7 L551.4,1137.7 L552.0,1137.8 L552.6,1137.8 L553.2,1137.8 L553.8,1137.8 L554.4,1137.8 L555.0,1137.8 L555.6,1137.8 L556.2,1137.8 L556.8,1137.8 L557.4,1137.8 L558.0,1137.8 L558.6,1137.8 L559.2,1137.8 L559.8,1137.8 L560.4,1137.8 L561.0,1137.8 L561.6,1137.8 L562.2,1137.8 L562.8,1137.8 L563.4,1137.8 L564.0,1137.8 L564.6,1137.8 L565.2,1137.8 L565.8,1137.8 L566.4,1137.8 L567.0,1137.8 L567.6,1137.8 L568.2,1137.8 L568.8,1137.8 L569.4,1137.8 L570.0,1137.8 L570.6,1137.8 L571.2,1137.8 L571.8,1137.8 L572.4,1137.8 L573.0,1137.8 L573.6,1137.8 L574.2,1137.8 L574.8,1137.8 L575.4,1137.8 L576.0,1137.8 L576.6,1137.8 L577.2,1137.8 L577.8,1137.8 L578.4,1137.8 L579.0,1137.8 L579.6,1137.8 L580.2,1137.8 L580.8,1137.8 L581.4,1137.8 L582.0,1137.8 L582.6,1137.8 L583.2,1137.8 L583.8,1137.8 L584.4,1137.8 L585.0,1137.8 L585.6,1137.8 L586.2,1137.8 L586.8,1137.8 L587.4,1137.8 L588.0,1137.8 L588.6,1137.8 L589.2,1137.8 L589.8,1137.8 L590.4,1137.8 L591.0,1137.8 L591.6,1137.8 L592.2,1137.8 L592.8,1137.8 L593.4,1137.8 L594.0,1137.8 L594.6,1137.8 L595.2,1137.8 L595.8,1137.8 L596.4,1137.8 L597.0,1137.8 L597.6,1137.8 L598.2,1137.8 L598.8,1137.8 L599.4,1137.8 L600.0,1137.8 L600.6,1137.8 L601.2,1137.8 L601.8,1137.8 L602.4,1137.8 L603.0,1137.8 L603.6,1137.8 L604.2,1137.8 L604.8,1137.8 L605.4,1137.8 L606.0,1137.8 L606.6,1137.8 L607.2,1137.8 L607.8,1137.8 L608.4,1137.8 L609.0,1137.8 L609.6,1137.8 L610.2,1137.8 L610.8,1137.8 L611.4,1137.8 L612.0,1137.8 L612.6,1137.8 L613.2,1137.8 L613.8,1137.8 L614.4,1137.8 L615.0,1137.8 L615.6,1137.8 L616.2,1137.8 L616.8,1137.8 L617.4,1137.8 L618.0,1137.8 L618.6,1137.8 L619.2,1137.8 L619.8,1137.8 L620.4,1137.8 L621.0,1137.8 L621.6,1137.8 L622.2,1137.8 L622.8,1137.8 L623.4,1137.8 L624.0,1137.8 L624.6,1137.8 L625.2,1137.8 L625.8,1137.8 L626.4,1137.8 L627.0,1137.8 L627.6,1137.8 L628.2,1137.8 L628.8,1137.8 L629.4,1137.8 L630.0,1137.8 L630.6,1137.8 L631.2,1137.8 L631.8,1137.8 L632.4,1137.8 L633.0,1137.8 L633.6,1137.8 L634.2,1137.8 L634.8,1137.8 L635.4,1137.8 L636.0,1137.8 L636.6,1137.8 L637.2,1137.8 L637.8,1137.8 L638.4,1137.8 L639.0,1137.8 L639.6,1137.8 L640.2,1137.8 L640.8,1137.8 L641.4,1137.8 L642.0,1137.8 L642.6,1137.8 L643.2,1137.8 L643.8,1137.8 L644.4,1137.8 L645.0,1137.8 L645.6,1137.8 L646.2,1137.8 L646.8,1137.8 L647.4,1137.8 L648.0,1137.8 L648.6,1137.8 L649.2,1137.8 L649.8,1137.8 L650.4,1137.8 L651.0,1137.8 L651.6,1137.8 L652.2,1137.8 L652.8,1137.8 L653.4,1137.8 L654.0,1137.8 L654.6,1137.8 L655.2,1137.8 L655.8,1137.8 L656.4,1137.8 L657.0,1137.8 L657.6,1137.8 L658.2,1137.8 L658.8,1137.8 L659.4,1137.8 L660.0,1137.8 L660.6,1137.8 L661.2,1137.8 L661.8,1137.8 L662.4,1137.8 L663.0,1137.8 L663.6,1137.8 L664.2,1137.8 L664.8,1137.8 L665.4,1137.8 L666.0,1137.8 L666.6,1137.8 L667.2,1137.8 L667.8,1137.8 L668.4,1137.8 L669.0,1137.8 L669.6,1137.8 L670.2,1137.8 L670.8,1137.8 L671.4,1137.8 L672.0,1137.8 L672.6,1137.8 L673.2,1137.8 L673.8,1137.8 L674.4,1137.8 L675.0,1137.8 L675.6,1137.8" fill="none" stroke="#a0a0a0" stroke-width="2.0" stroke-linejoin="round"/>
<line x1="484.1" y1="1072.5" x2="484.1" y2="1137.8" stroke="#e82222" stroke-width="2.2"/>
<path d="M483.6,1137.8 L484.2,1137.6 L484.8,1137.8 L485.4,1137.8 L486.0,1137.8 L486.6,1137.8 L487.2,1137.7 L487.8,1137.6 L488.4,1137.5 L489.0,1137.3 L489.6,1137.0 L490.2,1136.8 L490.8,1137.7 L491.4,1137.5 L492.0,1137.8 L492.6,1136.8 L493.2,1137.2 L493.8,1137.2 L494.4,1137.4 L495.0,1136.9 L495.6,1137.4 L496.2,1137.5 L496.8,1137.7 L497.4,1135.1 L498.0,1134.9 L498.6,1136.9 L499.2,1137.8 L499.8,1136.7 L500.4,1135.2 L501.0,1136.3 L501.6,1135.2 L502.2,1134.7 L502.8,1135.7 L503.4,1133.9 L504.0,1130.6 L504.6,1130.7 L505.2,1132.3 L505.8,1129.8 L506.4,1130.7 L507.0,1128.6 L507.6,1129.6 L508.2,1127.0 L508.8,1128.6 L509.4,1125.4 L510.0,1122.0 L510.6,1124.0 L511.2,1123.2 L511.8,1121.3 L512.4,1115.1 L513.0,1115.3 L513.6,1118.3 L514.2,1115.6 L514.8,1108.6 L515.4,1113.6 L516.0,1110.5 L516.6,1106.4 L517.2,1102.0 L517.8,1100.3 L518.4,1100.5 L519.0,1086.7 L519.6,1089.4 L520.2,1083.9 L520.8,1087.9 L521.4,1085.2 L522.0,1081.9 L522.6,1080.6 L523.2,1084.4 L523.8,1084.2 L524.4,1065.0 L525.0,1074.2 L525.6,1064.9 L526.2,1049.4 L526.8,1060.7 L527.4,1048.4 L528.0,1043.6 L528.6,1049.7 L529.2,1041.7 L529.8,1039.6 L530.4,1043.8 L531.0,1036.8 L531.6,1012.5 L532.2,1019.6 L532.8,1012.7 L533.4,1009.4 L534.0,1006.4 L534.6,1014.6 L535.2,1014.5 L535.8,1010.5 L536.4,1017.7 L537.0,1011.6 L537.6,1006.1 L538.2,1013.6 L538.8,1011.4 L539.4,1008.0 L540.0,1013.4 L540.6,1012.3 L541.2,1007.6 L541.8,1005.5 L542.4,1001.7 L543.0,997.6 L543.6,1021.9 L544.2,1013.9 L544.8,997.7 L545.4,1007.5 L546.0,1006.0 L546.6,1005.3 L547.2,1011.5 L547.8,1019.4 L548.4,1028.6 L549.0,1024.0 L549.6,1025.2 L550.2,1032.6 L550.8,1017.4 L551.4,1021.1 L552.0,1025.4 L552.6,1045.2 L553.2,1043.6 L553.8,1041.1 L554.4,1044.4 L555.0,1045.5 L555.6,1057.7 L556.2,1061.0 L556.8,1067.7 L557.4,1072.4 L558.0,1076.8 L558.6,1078.2 L559.2,1075.9 L559.8,1082.3 L560.4,1084.3 L561.0,1087.5 L561.6,1096.5 L562.2,1091.3 L562.8,1097.8 L563.4,1100.8 L564.0,1101.8 L564.6,1101.6 L565.2,1105.3 L565.8,1107.0 L566.4,1106.2 L567.0,1107.8 L567.6,1107.5 L568.2,1112.9 L568.8,1124.7 L569.4,1117.9 L570.0,1123.3 L570.6,1123.7 L571.2,1126.8 L571.8,1128.1 L572.4,1127.0 L573.0,1128.4 L573.6,1128.5 L574.2,1129.0 L574.8,1129.6 L575.4,1131.5 L576.0,1128.3 L576.6,1130.6 L577.2,1131.8 L577.8,1131.5 L578.4,1133.0 L579.0,1136.0 L579.6,1134.5 L580.2,1136.4 L580.8,1136.8 L581.4,1135.5 L582.0,1135.3 L582.6,1135.8 L583.2,1135.9 L583.8,1137.8 L584.4,1137.2 L585.0,1136.9 L585.6,1136.4 L586.2,1136.5 L586.8,1136.5 L587.4,1136.8 L588.0,1137.2 L588.6,1137.6 L589.2,1137.3 L589.8,1136.8 L590.4,1137.8 L591.0,1137.7 L591.6,1137.6 L592.2,1137.3 L592.8,1137.6 L593.4,1137.6 L594.0,1137.8 L594.6,1137.7 L595.2,1137.8 L595.8,1137.7 L596.4,1137.8 L597.0,1137.5 L597.6,1137.7 L598.2,1137.4 L598.8,1137.7 L599.4,1137.7 L600.0,1137.6 L600.6,1137.8 L601.2,1137.7 L601.8,1137.6 L602.4,1137.7 L603.0,1137.7 L603.6,1137.7 L604.2,1137.8 L604.8,1137.8 L605.4,1137.8 L606.0,1137.7 L606.6,1137.8 L607.2,1137.8 L607.8,1137.8 L608.4,1137.8 L609.0,1137.8 L609.6,1137.8 L610.2,1137.8 L610.8,1137.8 L611.4,1137.8 L612.0,1137.8 L612.6,1137.8 L613.2,1137.8 L613.8,1137.8 L614.4,1137.8 L615.0,1137.8 L615.6,1137.8 L616.2,1137.8 L616.8,1137.8 L617.4,1137.8 L618.0,1137.8 L618.6,1137.8 L619.2,1137.8 L619.8,1137.8 L620.4,1137.8 L621.0,1137.8 L621.6,1137.8 L622.2,1137.8 L622.8,1137.8 L623.4,1137.8 L624.0,1137.8 L624.6,1137.8 L625.2,1137.8 L625.8,1137.8 L626.4,1137.8 L627.0,1137.8 L627.6,1137.8 L628.2,1137.8 L628.8,1137.8 L629.4,1137.8 L630.0,1137.8 L630.6,1137.8 L631.2,1137.8 L631.8,1137.8 L632.4,1137.8 L633.0,1137.8 L633.6,1137.8 L634.2,1137.8 L634.8,1137.8 L635.4,1137.8 L636.0,1137.8 L636.6,1137.8 L637.2,1137.8 L637.8,1137.8 L638.4,1137.8 L639.0,1137.8 L639.6,1137.8 L640.2,1137.8 L640.8,1137.8 L641.4,1137.8 L642.0,1137.8 L642.6,1137.8 L643.2,1137.8 L643.8,1137.8 L644.4,1137.8 L645.0,1137.8 L645.6,1137.8 L646.2,1137.8 L646.8,1137.8 L647.4,1137.8 L648.0,1137.8 L648.6,1137.8 L649.2,1137.8 L649.8,1137.8 L650.4,1137.8 L651.0,1137.8 L651.6,1137.8 L652.2,1137.8 L652.8,1137.8 L653.4,1137.8 L654.0,1137.8 L654.6,1137.8 L655.2,1137.8 L655.8,1137.8 L656.4,1137.8 L657.0,1137.8 L657.6,1137.8 L658.2,1137.8 L658.8,1137.8 L659.4,1137.8 L660.0,1137.8 L660.6,1137.8 L661.2,1137.8 L661.8,1137.8 L662.4,1137.8 L663.0,1137.8 L663.6,1137.8 L664.2,1137.8 L664.8,1137.8 L665.4,1137.8 L666.0,1137.8 L666.6,1137.8 L667.2,1137.8 L667.8,1137.8 L668.4,1137.8 L669.0,1137.8 L669.6,1137.8 L670.2,1137.8 L670.8,1137.8 L671.4,1137.8 L672.0,1137.8 L672.6,1137.8 L673.2,1137.8 L673.8,1137.8 L674.4,1137.8 L675.0,1137.8 L675.6,1137.8" fill="none" stroke="#e82222" stroke-width="2.2" stroke-linejoin="round"/>
<path d="M483.6,1137.7 L484.2,1137.7 L484.8,1137.8 L485.4,1137.8 L486.0,1137.8 L486.6,1137.8 L487.2,1137.8 L487.8,1137.8 L488.4,1137.8 L489.0,1137.7 L489.6,1137.8 L490.2,1137.7 L490.8,1137.8 L491.4,1137.8 L492.0,1137.7 L492.6,1137.7 L493.2,1137.8 L493.8,1137.4 L494.4,1137.5 L495.0,1137.2 L495.6,1137.5 L496.2,1137.5 L496.8,1137.8 L497.4,1137.5 L498.0,1137.4 L498.6,1137.8 L499.2,1137.0 L499.8,1137.7 L500.4,1137.0 L501.0,1136.3 L501.6,1137.2 L502.2,1137.2 L502.8,1136.3 L503.4,1137.5 L504.0,1137.7 L504.6,1135.8 L505.2,1135.2 L505.8,1135.2 L506.4,1134.9 L507.0,1134.0 L507.6,1134.9 L508.2,1134.2 L508.8,1133.9 L509.4,1133.1 L510.0,1132.8 L510.6,1130.7 L511.2,1129.6 L511.8,1129.4 L512.4,1128.9 L513.0,1130.6 L513.6,1129.2 L514.2,1125.6 L514.8,1123.3 L515.4,1127.1 L516.0,1125.1 L516.6,1124.6 L517.2,1118.3 L517.8,1118.3 L518.4,1119.6 L519.0,1120.6 L519.6,1113.8 L520.2,1112.0 L520.8,1109.3 L521.4,1108.5 L522.0,1104.6 L522.6,1104.1 L523.2,1100.5 L523.8,1102.6 L524.4,1094.8 L525.0,1088.6 L525.6,1083.0 L526.2,1085.4 L526.8,1073.9 L527.4,1071.7 L528.0,1075.5 L528.6,1080.5 L529.2,1060.5 L529.8,1059.2 L530.4,1059.5 L531.0,1056.5 L531.6,1062.7 L532.2,1055.6 L532.8,1045.1 L533.4,1049.7 L534.0,1046.6 L534.6,1041.1 L535.2,1026.4 L535.8,1029.7 L536.4,1037.9 L537.0,1023.8 L537.6,1023.6 L538.2,1005.6 L538.8,1004.5 L539.4,1002.1 L540.0,1007.7 L540.6,1015.0 L541.2,999.0 L541.8,1003.0 L542.4,1001.1 L543.0,989.8 L543.6,995.2 L544.2,990.7 L544.8,992.7 L545.4,983.9 L546.0,991.8 L546.6,994.5 L547.2,990.4 L547.8,985.0 L548.4,983.0 L549.0,981.8 L549.6,995.1 L550.2,993.7 L550.8,989.8 L551.4,1000.9 L552.0,1001.4 L552.6,992.7 L553.2,997.5 L553.8,1006.8 L554.4,1008.3 L555.0,1005.7 L555.6,1006.2 L556.2,991.8 L556.8,1007.4 L557.4,1005.9 L558.0,1027.7 L558.6,1035.7 L559.2,1032.4 L559.8,1034.8 L560.4,1035.1 L561.0,1044.8 L561.6,1052.2 L562.2,1056.9 L562.8,1067.5 L563.4,1068.6 L564.0,1068.7 L564.6,1073.7 L565.2,1071.8 L565.8,1073.3 L566.4,1087.1 L567.0,1079.4 L567.6,1078.9 L568.2,1083.3 L568.8,1092.6 L569.4,1089.3 L570.0,1096.7 L570.6,1107.6 L571.2,1105.0 L571.8,1109.1 L572.4,1102.0 L573.0,1105.9 L573.6,1107.1 L574.2,1115.1 L574.8,1116.4 L575.4,1121.1 L576.0,1120.7 L576.6,1122.5 L577.2,1118.0 L577.8,1121.4 L578.4,1128.6 L579.0,1123.4 L579.6,1125.1 L580.2,1127.2 L580.8,1126.3 L581.4,1127.4 L582.0,1129.6 L582.6,1130.2 L583.2,1131.6 L583.8,1131.4 L584.4,1134.5 L585.0,1130.5 L585.6,1131.8 L586.2,1133.3 L586.8,1134.0 L587.4,1134.3 L588.0,1134.1 L588.6,1133.7 L589.2,1136.6 L589.8,1135.7 L590.4,1135.8 L591.0,1134.5 L591.6,1135.7 L592.2,1136.9 L592.8,1137.1 L593.4,1137.0 L594.0,1136.6 L594.6,1137.7 L595.2,1137.8 L595.8,1137.3 L596.4,1137.6 L597.0,1137.8 L597.6,1137.7 L598.2,1137.8 L598.8,1137.1 L599.4,1137.0 L600.0,1137.5 L600.6,1137.8 L601.2,1137.7 L601.8,1137.8 L602.4,1137.8 L603.0,1137.8 L603.6,1137.8 L604.2,1137.8 L604.8,1137.8 L605.4,1137.7 L606.0,1137.7 L606.6,1137.8 L607.2,1137.8 L607.8,1137.8 L608.4,1137.8 L609.0,1137.6 L609.6,1137.8 L610.2,1137.8 L610.8,1137.8 L611.4,1137.8 L612.0,1137.8 L612.6,1137.8 L613.2,1137.8 L613.8,1137.8 L614.4,1137.7 L615.0,1137.8 L615.6,1137.8 L616.2,1137.8 L616.8,1137.8 L617.4,1137.8 L618.0,1137.8 L618.6,1137.8 L619.2,1137.8 L619.8,1137.8 L620.4,1137.8 L621.0,1137.8 L621.6,1137.8 L622.2,1137.8 L622.8,1137.8 L623.4,1137.8 L624.0,1137.8 L624.6,1137.8 L625.2,1137.8 L625.8,1137.8 L626.4,1137.8 L627.0,1137.8 L627.6,1137.8 L628.2,1137.8 L628.8,1137.8 L629.4,1137.8 L630.0,1137.8 L630.6,1137.8 L631.2,1137.8 L631.8,1137.8 L632.4,1137.8 L633.0,1137.8 L633.6,1137.8 L634.2,1137.8 L634.8,1137.8 L635.4,1137.8 L636.0,1137.8 L636.6,1137.8 L637.2,1137.8 L637.8,1137.8 L638.4,1137.8 L639.0,1137.8 L639.6,1137.8 L640.2,1137.8 L640.8,1137.8 L641.4,1137.8 L642.0,1137.8 L642.6,1137.8 L643.2,1137.8 L643.8,1137.8 L644.4,1137.8 L645.0,1137.8 L645.6,1137.8 L646.2,1137.8 L646.8,1137.8 L647.4,1137.8 L648.0,1137.8 L648.6,1137.8 L649.2,1137.8 L649.8,1137.8 L650.4,1137.8 L651.0,1137.8 L651.6,1137.8 L652.2,1137.8 L652.8,1137.8 L653.4,1137.8 L654.0,1137.8 L654.6,1137.8 L655.2,1137.8 L655.8,1137.8 L656.4,1137.8 L657.0,1137.8 L657.6,1137.8 L658.2,1137.8 L658.8,1137.8 L659.4,1137.8 L660.0,1137.8 L660.6,1137.8 L661.2,1137.8 L661.8,1137.8 L662.4,1137.8 L663.0,1137.8 L663.6,1137.8 L664.2,1137.8 L664.8,1137.8 L665.4,1137.8 L666.0,1137.8 L666.6,1137.8 L667.2,1137.8 L667.8,1137.8 L668.4,1137.8 L669.0,1137.8 L669.6,1137.8 L670.2,1137.8 L670.8,1137.8 L671.4,1137.8 L672.0,1137.8 L672.6,1137.8 L673.2,1137.8 L673.8,1137.8 L674.4,1137.8 L675.0,1137.8 L675.6,1137.8" fill="none" stroke="#22dd22" stroke-width="2.2" stroke-linejoin="round"/>
<text x="665.7" y="960.7" font-size="17.6" font-weight="bold" text-anchor="end" fill="#000" letter-spacing="0.3">LDL Intake</text>
<path d="M635.2,1010.3 H599.2 V1092.5 H635.2" fill="none" stroke="#ccc" stroke-width="1.2"/>
<rect x="600.70" y="1012.80" width="25.10" height="23.90" fill="#fff" stroke="#22dd22" stroke-width="2" />
<text x="631.3" y="1025.6" font-size="17.5" font-weight="normal" text-anchor="start" fill="#000" letter-spacing="0.3">OXP</text>
<rect x="600.70" y="1041.90" width="25.10" height="20.50" fill="#fff" stroke="#e82222" stroke-width="2" />
<text x="631.3" y="1054.2" font-size="17.5" font-weight="normal" text-anchor="start" fill="#000" letter-spacing="0.3">Cont</text>
<rect x="600.70" y="1067.30" width="25.10" height="22.70" fill="#fff" stroke="#a0a0a0" stroke-width="2" />
<text x="631.3" y="1085.7" font-size="17.5" font-weight="normal" text-anchor="start" fill="#000" letter-spacing="0.3">-Ve</text>
<line x1="200.40" y1="1170.00" x2="276.70" y2="1170.00" stroke="#555" stroke-width="2" />
<text x="290.9" y="1172.3" font-size="14.5" font-weight="bold" text-anchor="start" fill="#000" >Fluorescence Intensity</text>
<line x1="451.50" y1="1170.00" x2="527.80" y2="1170.00" stroke="#333" stroke-width="2" />
<path d="M514.8,1162.5 L528.8,1170.0 L514.8,1177.5" fill="none" stroke="#000" stroke-width="3.4"/>
</svg>
</body></html>
